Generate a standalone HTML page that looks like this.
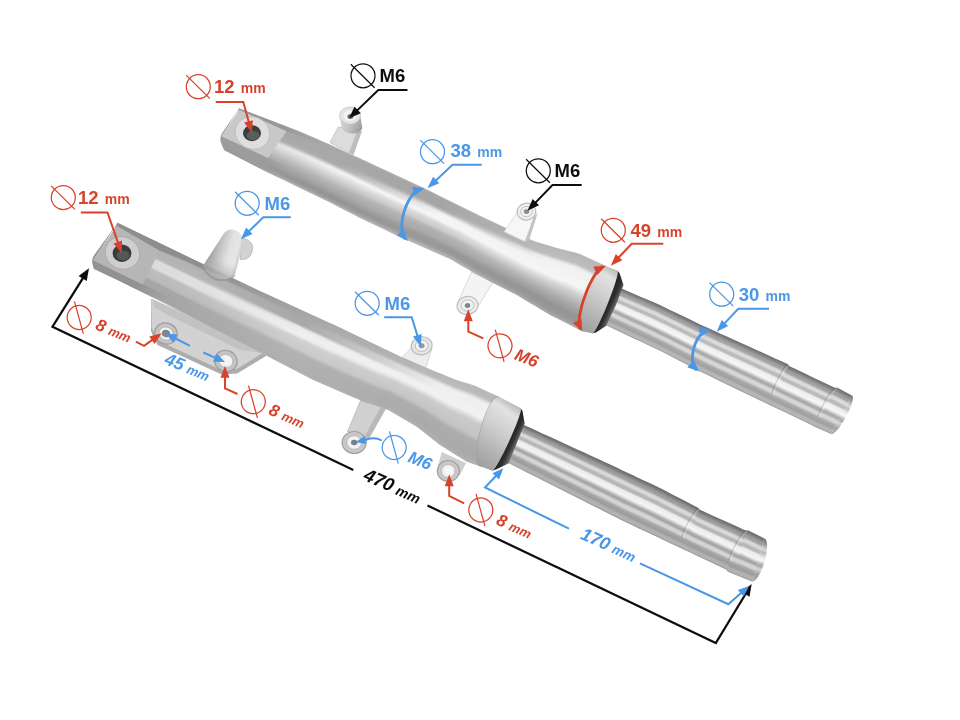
<!DOCTYPE html>
<html><head><meta charset="utf-8"><title>Fork dimensions</title>
<style>
html,body{margin:0;padding:0;background:#fff;}
body{width:960px;height:720px;overflow:hidden;}
svg{display:block;}
text{font-family:"Liberation Sans",sans-serif;font-weight:bold;}
</style></head><body>
<svg width="960" height="720" viewBox="0 0 960 720">
<defs>
<filter id="soft" x="-5%" y="-5%" width="110%" height="110%"><feGaussianBlur stdDeviation="0.7"/></filter>
<filter id="soft2" x="-5%" y="-5%" width="110%" height="110%"><feGaussianBlur stdDeviation="0.35"/></filter>
<linearGradient id="bossg" gradientUnits="userSpaceOnUse" x1="340" y1="118" x2="362" y2="128"><stop offset="0" stop-color="#d6d6d6"/><stop offset="0.5" stop-color="#c2c2c2"/><stop offset="1" stop-color="#9c9c9c"/></linearGradient>
<linearGradient id="capA" gradientUnits="userSpaceOnUse" x1="852" y1="395.5" x2="831" y2="434"><stop offset="0.000" stop-color="#6c6c6c"/><stop offset="0.062" stop-color="#858585"/><stop offset="0.125" stop-color="#9f9f9f"/><stop offset="0.188" stop-color="#c3c3c3"/><stop offset="0.250" stop-color="#dddddd"/><stop offset="0.312" stop-color="#bcbcbc"/><stop offset="0.375" stop-color="#dadada"/><stop offset="0.438" stop-color="#f2f2f2"/><stop offset="0.500" stop-color="#f7f7f7"/><stop offset="0.562" stop-color="#bfbfbf"/><stop offset="0.625" stop-color="#aaaaaa"/><stop offset="0.688" stop-color="#d6d6d6"/><stop offset="0.750" stop-color="#c2c2c2"/><stop offset="0.812" stop-color="#a5a5a5"/><stop offset="0.875" stop-color="#a5a5a5"/><stop offset="0.938" stop-color="#b5b5b5"/><stop offset="1.000" stop-color="#969696"/></linearGradient>
<linearGradient id="g1" gradientUnits="userSpaceOnUse" x1="240.8" y1="109.3" x2="603.7" y2="277.8"><stop offset="0.00" stop-color="#aaaaaa"/><stop offset="0.28" stop-color="#aeaeae"/><stop offset="0.56" stop-color="#adadad"/><stop offset="0.85" stop-color="#b8b8b8"/><stop offset="1.00" stop-color="#b8b8b8"/></linearGradient>
<linearGradient id="g2" gradientUnits="userSpaceOnUse" x1="240.8" y1="109.3" x2="603.7" y2="277.8"><stop offset="0.00" stop-color="#a5a5a5"/><stop offset="0.28" stop-color="#a8a8a8"/><stop offset="0.56" stop-color="#a6a6a6"/><stop offset="0.85" stop-color="#b8b8b8"/><stop offset="1.00" stop-color="#b8b8b8"/></linearGradient>
<linearGradient id="g3" gradientUnits="userSpaceOnUse" x1="240.8" y1="109.3" x2="603.7" y2="277.8"><stop offset="0.00" stop-color="#a6a6a6"/><stop offset="0.28" stop-color="#a7a7a7"/><stop offset="0.56" stop-color="#a5a5a5"/><stop offset="0.85" stop-color="#bababa"/><stop offset="1.00" stop-color="#bababa"/></linearGradient>
<linearGradient id="g4" gradientUnits="userSpaceOnUse" x1="240.8" y1="109.3" x2="603.7" y2="277.8"><stop offset="0.00" stop-color="#a6a6a6"/><stop offset="0.28" stop-color="#a7a7a7"/><stop offset="0.56" stop-color="#a5a5a5"/><stop offset="0.85" stop-color="#bbbbbb"/><stop offset="1.00" stop-color="#bbbbbb"/></linearGradient>
<linearGradient id="g5" gradientUnits="userSpaceOnUse" x1="240.8" y1="109.3" x2="603.7" y2="277.8"><stop offset="0.00" stop-color="#a7a7a7"/><stop offset="0.28" stop-color="#a8a8a8"/><stop offset="0.56" stop-color="#a5a5a5"/><stop offset="0.85" stop-color="#bcbcbc"/><stop offset="1.00" stop-color="#bcbcbc"/></linearGradient>
<linearGradient id="g6" gradientUnits="userSpaceOnUse" x1="240.8" y1="109.3" x2="603.7" y2="277.8"><stop offset="0.00" stop-color="#a7a7a7"/><stop offset="0.28" stop-color="#a8a8a8"/><stop offset="0.56" stop-color="#a5a5a5"/><stop offset="0.85" stop-color="#bdbdbd"/><stop offset="1.00" stop-color="#bdbdbd"/></linearGradient>
<linearGradient id="g7" gradientUnits="userSpaceOnUse" x1="240.8" y1="109.3" x2="603.7" y2="277.8"><stop offset="0.00" stop-color="#a8a8a8"/><stop offset="0.28" stop-color="#a8a8a8"/><stop offset="0.56" stop-color="#a5a5a5"/><stop offset="0.85" stop-color="#cacaca"/><stop offset="1.00" stop-color="#cacaca"/></linearGradient>
<linearGradient id="g8" gradientUnits="userSpaceOnUse" x1="240.8" y1="109.3" x2="603.7" y2="277.8"><stop offset="0.00" stop-color="#a8a8a8"/><stop offset="0.28" stop-color="#a8a8a8"/><stop offset="0.56" stop-color="#a5a5a5"/><stop offset="0.85" stop-color="#e3e3e3"/><stop offset="1.00" stop-color="#e3e3e3"/></linearGradient>
<linearGradient id="g9" gradientUnits="userSpaceOnUse" x1="240.8" y1="109.3" x2="603.7" y2="277.8"><stop offset="0.00" stop-color="#a9a9a9"/><stop offset="0.28" stop-color="#a8a8a8"/><stop offset="0.56" stop-color="#b0b0b0"/><stop offset="0.85" stop-color="#f0f0f0"/><stop offset="1.00" stop-color="#f0f0f0"/></linearGradient>
<linearGradient id="g10" gradientUnits="userSpaceOnUse" x1="240.8" y1="109.3" x2="603.7" y2="277.8"><stop offset="0.00" stop-color="#aaaaaa"/><stop offset="0.28" stop-color="#a9a9a9"/><stop offset="0.56" stop-color="#c6c6c6"/><stop offset="0.85" stop-color="#f1f1f1"/><stop offset="1.00" stop-color="#f1f1f1"/></linearGradient>
<linearGradient id="g11" gradientUnits="userSpaceOnUse" x1="240.8" y1="109.3" x2="603.7" y2="277.8"><stop offset="0.00" stop-color="#aaaaaa"/><stop offset="0.28" stop-color="#a9a9a9"/><stop offset="0.56" stop-color="#e1e1e1"/><stop offset="0.85" stop-color="#f2f2f2"/><stop offset="1.00" stop-color="#f2f2f2"/></linearGradient>
<linearGradient id="g12" gradientUnits="userSpaceOnUse" x1="240.8" y1="109.3" x2="603.7" y2="277.8"><stop offset="0.00" stop-color="#ababab"/><stop offset="0.28" stop-color="#a9a9a9"/><stop offset="0.56" stop-color="#f4f4f4"/><stop offset="0.85" stop-color="#f2f2f2"/><stop offset="1.00" stop-color="#f2f2f2"/></linearGradient>
<linearGradient id="g13" gradientUnits="userSpaceOnUse" x1="240.8" y1="109.3" x2="603.7" y2="277.8"><stop offset="0.00" stop-color="#b2b2b2"/><stop offset="0.28" stop-color="#b3b3b3"/><stop offset="0.56" stop-color="#f4f4f4"/><stop offset="0.85" stop-color="#f3f3f3"/><stop offset="1.00" stop-color="#f3f3f3"/></linearGradient>
<linearGradient id="g14" gradientUnits="userSpaceOnUse" x1="240.8" y1="109.3" x2="603.7" y2="277.8"><stop offset="0.00" stop-color="#c1c1c1"/><stop offset="0.28" stop-color="#c6c6c6"/><stop offset="0.56" stop-color="#f4f4f4"/><stop offset="0.85" stop-color="#f3f3f3"/><stop offset="1.00" stop-color="#f3f3f3"/></linearGradient>
<linearGradient id="g15" gradientUnits="userSpaceOnUse" x1="240.8" y1="109.3" x2="603.7" y2="277.8"><stop offset="0.00" stop-color="#cfcfcf"/><stop offset="0.28" stop-color="#dfdfdf"/><stop offset="0.56" stop-color="#f5f5f5"/><stop offset="0.85" stop-color="#f4f4f4"/><stop offset="1.00" stop-color="#f4f4f4"/></linearGradient>
<linearGradient id="g16" gradientUnits="userSpaceOnUse" x1="240.8" y1="109.3" x2="603.7" y2="277.8"><stop offset="0.00" stop-color="#d3d3d3"/><stop offset="0.28" stop-color="#f3f3f3"/><stop offset="0.56" stop-color="#f5f5f5"/><stop offset="0.85" stop-color="#f4f4f4"/><stop offset="1.00" stop-color="#f4f4f4"/></linearGradient>
<linearGradient id="g17" gradientUnits="userSpaceOnUse" x1="240.8" y1="109.3" x2="603.7" y2="277.8"><stop offset="0.00" stop-color="#d8d8d8"/><stop offset="0.28" stop-color="#eeeeee"/><stop offset="0.56" stop-color="#f5f5f5"/><stop offset="0.85" stop-color="#f5f5f5"/><stop offset="1.00" stop-color="#f5f5f5"/></linearGradient>
<linearGradient id="g18" gradientUnits="userSpaceOnUse" x1="240.8" y1="109.3" x2="603.7" y2="277.8"><stop offset="0.00" stop-color="#d6d6d6"/><stop offset="0.28" stop-color="#e9e9e9"/><stop offset="0.56" stop-color="#eaeaea"/><stop offset="0.85" stop-color="#f6f6f6"/><stop offset="1.00" stop-color="#f6f6f6"/></linearGradient>
<linearGradient id="g19" gradientUnits="userSpaceOnUse" x1="240.8" y1="109.3" x2="603.7" y2="277.8"><stop offset="0.00" stop-color="#d1d1d1"/><stop offset="0.28" stop-color="#e4e4e4"/><stop offset="0.56" stop-color="#dbdbdb"/><stop offset="0.85" stop-color="#f1f1f1"/><stop offset="1.00" stop-color="#f1f1f1"/></linearGradient>
<linearGradient id="g20" gradientUnits="userSpaceOnUse" x1="240.8" y1="109.3" x2="603.7" y2="277.8"><stop offset="0.00" stop-color="#cdcdcd"/><stop offset="0.28" stop-color="#dedede"/><stop offset="0.56" stop-color="#d4d4d4"/><stop offset="0.85" stop-color="#e8e8e8"/><stop offset="1.00" stop-color="#e8e8e8"/></linearGradient>
<linearGradient id="g21" gradientUnits="userSpaceOnUse" x1="240.8" y1="109.3" x2="603.7" y2="277.8"><stop offset="0.00" stop-color="#c8c8c8"/><stop offset="0.28" stop-color="#d8d8d8"/><stop offset="0.56" stop-color="#d1d1d1"/><stop offset="0.85" stop-color="#dfdfdf"/><stop offset="1.00" stop-color="#dfdfdf"/></linearGradient>
<linearGradient id="g22" gradientUnits="userSpaceOnUse" x1="240.8" y1="109.3" x2="603.7" y2="277.8"><stop offset="0.00" stop-color="#c4c4c4"/><stop offset="0.28" stop-color="#d2d2d2"/><stop offset="0.56" stop-color="#cecece"/><stop offset="0.85" stop-color="#d5d5d5"/><stop offset="1.00" stop-color="#d5d5d5"/></linearGradient>
<linearGradient id="g23" gradientUnits="userSpaceOnUse" x1="240.8" y1="109.3" x2="603.7" y2="277.8"><stop offset="0.00" stop-color="#c0c0c0"/><stop offset="0.28" stop-color="#cdcdcd"/><stop offset="0.56" stop-color="#cacaca"/><stop offset="0.85" stop-color="#cecece"/><stop offset="1.00" stop-color="#cecece"/></linearGradient>
<linearGradient id="g24" gradientUnits="userSpaceOnUse" x1="240.8" y1="109.3" x2="603.7" y2="277.8"><stop offset="0.00" stop-color="#bcbcbc"/><stop offset="0.28" stop-color="#c7c7c7"/><stop offset="0.56" stop-color="#bfbfbf"/><stop offset="0.85" stop-color="#c8c8c8"/><stop offset="1.00" stop-color="#c8c8c8"/></linearGradient>
<linearGradient id="g25" gradientUnits="userSpaceOnUse" x1="240.8" y1="109.3" x2="603.7" y2="277.8"><stop offset="0.00" stop-color="#b8b8b8"/><stop offset="0.28" stop-color="#c1c1c1"/><stop offset="0.56" stop-color="#b4b4b4"/><stop offset="0.85" stop-color="#c2c2c2"/><stop offset="1.00" stop-color="#c2c2c2"/></linearGradient>
<linearGradient id="g26" gradientUnits="userSpaceOnUse" x1="240.8" y1="109.3" x2="603.7" y2="277.8"><stop offset="0.00" stop-color="#b4b4b4"/><stop offset="0.28" stop-color="#bbbbbb"/><stop offset="0.56" stop-color="#b0b0b0"/><stop offset="0.85" stop-color="#bcbcbc"/><stop offset="1.00" stop-color="#bcbcbc"/></linearGradient>
<linearGradient id="g27" gradientUnits="userSpaceOnUse" x1="240.8" y1="109.3" x2="603.7" y2="277.8"><stop offset="0.00" stop-color="#b1b1b1"/><stop offset="0.28" stop-color="#b6b6b6"/><stop offset="0.56" stop-color="#aeaeae"/><stop offset="0.85" stop-color="#b6b6b6"/><stop offset="1.00" stop-color="#b6b6b6"/></linearGradient>
<linearGradient id="g28" gradientUnits="userSpaceOnUse" x1="240.8" y1="109.3" x2="603.7" y2="277.8"><stop offset="0.00" stop-color="#adadad"/><stop offset="0.28" stop-color="#b2b2b2"/><stop offset="0.56" stop-color="#adadad"/><stop offset="0.85" stop-color="#b0b0b0"/><stop offset="1.00" stop-color="#b0b0b0"/></linearGradient>
<linearGradient id="g29" gradientUnits="userSpaceOnUse" x1="240.8" y1="109.3" x2="603.7" y2="277.8"><stop offset="0.00" stop-color="#aaaaaa"/><stop offset="0.28" stop-color="#aeaeae"/><stop offset="0.56" stop-color="#ababab"/><stop offset="0.85" stop-color="#ababab"/><stop offset="1.00" stop-color="#ababab"/></linearGradient>
<linearGradient id="g30" gradientUnits="userSpaceOnUse" x1="240.8" y1="109.3" x2="603.7" y2="277.8"><stop offset="0.00" stop-color="#a7a7a7"/><stop offset="0.28" stop-color="#ababab"/><stop offset="0.56" stop-color="#aaaaaa"/><stop offset="0.85" stop-color="#a6a6a6"/><stop offset="1.00" stop-color="#a6a6a6"/></linearGradient>
<linearGradient id="g31" gradientUnits="userSpaceOnUse" x1="240.8" y1="109.3" x2="603.7" y2="277.8"><stop offset="0.00" stop-color="#a4a4a4"/><stop offset="0.28" stop-color="#a7a7a7"/><stop offset="0.56" stop-color="#a6a6a6"/><stop offset="0.85" stop-color="#a2a2a2"/><stop offset="1.00" stop-color="#a2a2a2"/></linearGradient>
<linearGradient id="g32" gradientUnits="userSpaceOnUse" x1="240.8" y1="109.3" x2="603.7" y2="277.8"><stop offset="0.00" stop-color="#a1a1a1"/><stop offset="0.28" stop-color="#a4a4a4"/><stop offset="0.56" stop-color="#9e9e9e"/><stop offset="0.85" stop-color="#9e9e9e"/><stop offset="1.00" stop-color="#9e9e9e"/></linearGradient>
<linearGradient id="g33" gradientUnits="userSpaceOnUse" x1="240.8" y1="109.3" x2="603.7" y2="277.8"><stop offset="0.00" stop-color="#9e9e9e"/><stop offset="0.28" stop-color="#a0a0a0"/><stop offset="0.56" stop-color="#9a9a9a"/><stop offset="0.85" stop-color="#9a9a9a"/><stop offset="1.00" stop-color="#9a9a9a"/></linearGradient>
<linearGradient id="g34" gradientUnits="userSpaceOnUse" x1="240.8" y1="109.3" x2="603.7" y2="277.8"><stop offset="0.00" stop-color="#9b9b9b"/><stop offset="0.28" stop-color="#9b9b9b"/><stop offset="0.56" stop-color="#9a9a9a"/><stop offset="0.85" stop-color="#959595"/><stop offset="1.00" stop-color="#959595"/></linearGradient>
<linearGradient id="g35" gradientUnits="userSpaceOnUse" x1="240.8" y1="109.3" x2="603.7" y2="277.8"><stop offset="0.00" stop-color="#999999"/><stop offset="0.28" stop-color="#969696"/><stop offset="0.56" stop-color="#989898"/><stop offset="0.85" stop-color="#949494"/><stop offset="1.00" stop-color="#949494"/></linearGradient>
<linearGradient id="g36" gradientUnits="userSpaceOnUse" x1="240.8" y1="109.3" x2="603.7" y2="277.8"><stop offset="0.00" stop-color="#969696"/><stop offset="0.28" stop-color="#949494"/><stop offset="0.56" stop-color="#989898"/><stop offset="0.85" stop-color="#969696"/><stop offset="1.00" stop-color="#969696"/></linearGradient>
<linearGradient id="g37" gradientUnits="userSpaceOnUse" x1="240.8" y1="109.3" x2="603.7" y2="277.8"><stop offset="0.00" stop-color="#989898"/><stop offset="0.28" stop-color="#969696"/><stop offset="0.56" stop-color="#9c9c9c"/><stop offset="0.85" stop-color="#989898"/><stop offset="1.00" stop-color="#989898"/></linearGradient>
<linearGradient id="g38" gradientUnits="userSpaceOnUse" x1="240.8" y1="109.3" x2="603.7" y2="277.8"><stop offset="0.00" stop-color="#a0a0a0"/><stop offset="0.28" stop-color="#989898"/><stop offset="0.56" stop-color="#a6a6a6"/><stop offset="0.85" stop-color="#9a9a9a"/><stop offset="1.00" stop-color="#9a9a9a"/></linearGradient>
<linearGradient id="g39" gradientUnits="userSpaceOnUse" x1="240.8" y1="109.3" x2="603.7" y2="277.8"><stop offset="0.00" stop-color="#a6a6a6"/><stop offset="0.28" stop-color="#a1a1a1"/><stop offset="0.56" stop-color="#b0b0b0"/><stop offset="0.85" stop-color="#a0a0a0"/><stop offset="1.00" stop-color="#a0a0a0"/></linearGradient>
<linearGradient id="g40" gradientUnits="userSpaceOnUse" x1="240.8" y1="109.3" x2="603.7" y2="277.8"><stop offset="0.00" stop-color="#aeaeae"/><stop offset="0.28" stop-color="#b1b1b1"/><stop offset="0.56" stop-color="#b8b8b8"/><stop offset="0.85" stop-color="#aaaaaa"/><stop offset="1.00" stop-color="#aaaaaa"/></linearGradient>
<linearGradient id="colAs" gradientUnits="userSpaceOnUse" x1="605.1" y1="302.1" x2="615.1" y2="306.7"><stop offset="0" stop-color="#242424"/><stop offset="0.55" stop-color="#2e2e2e"/><stop offset="0.85" stop-color="#565656"/><stop offset="1" stop-color="#6e6e6e"/></linearGradient>
<linearGradient id="colA" gradientUnits="userSpaceOnUse" x1="617.6" y1="270.8" x2="582.2" y2="331.2"><stop offset="0" stop-color="#b8b8b8"/><stop offset="0.14" stop-color="#e2e2e2"/><stop offset="0.4" stop-color="#d0d0d0"/><stop offset="0.75" stop-color="#b2b2b2"/><stop offset="1" stop-color="#a0a0a0"/></linearGradient>
<linearGradient id="fadeA" gradientUnits="userSpaceOnUse" x1="262" y1="150" x2="292" y2="164"><stop offset="0" stop-color="#9c9c9c" stop-opacity="1"/><stop offset="1" stop-color="#9c9c9c" stop-opacity="0"/></linearGradient>
<linearGradient id="fadeA2" gradientUnits="userSpaceOnUse" x1="284" y1="125" x2="326" y2="144"><stop offset="0" stop-color="#989898" stop-opacity="1"/><stop offset="1" stop-color="#989898" stop-opacity="0"/></linearGradient>
<linearGradient id="capB" gradientUnits="userSpaceOnUse" x1="764.5" y1="538.5" x2="752" y2="581.5"><stop offset="0.000" stop-color="#686868"/><stop offset="0.062" stop-color="#818181"/><stop offset="0.125" stop-color="#9b9b9b"/><stop offset="0.188" stop-color="#c0c0c0"/><stop offset="0.250" stop-color="#dbdbdb"/><stop offset="0.312" stop-color="#b8b8b8"/><stop offset="0.375" stop-color="#d7d7d7"/><stop offset="0.438" stop-color="#f0f0f0"/><stop offset="0.500" stop-color="#f5f5f5"/><stop offset="0.562" stop-color="#bcbcbc"/><stop offset="0.625" stop-color="#a6a6a6"/><stop offset="0.688" stop-color="#d4d4d4"/><stop offset="0.750" stop-color="#bfbfbf"/><stop offset="0.812" stop-color="#a1a1a1"/><stop offset="0.875" stop-color="#a1a1a1"/><stop offset="0.938" stop-color="#b1b1b1"/><stop offset="1.000" stop-color="#929292"/></linearGradient>
<linearGradient id="g41" gradientUnits="userSpaceOnUse" x1="116.6" y1="222.6" x2="502.4" y2="404.9"><stop offset="0.00" stop-color="#898989"/><stop offset="0.20" stop-color="#8a8a8a"/><stop offset="0.50" stop-color="#a4a4a4"/><stop offset="0.85" stop-color="#b7b7b7"/><stop offset="1.00" stop-color="#b7b7b7"/></linearGradient>
<linearGradient id="g42" gradientUnits="userSpaceOnUse" x1="116.6" y1="222.6" x2="502.4" y2="404.9"><stop offset="0.00" stop-color="#8a8a8a"/><stop offset="0.20" stop-color="#8c8c8c"/><stop offset="0.50" stop-color="#a6a6a6"/><stop offset="0.85" stop-color="#b8b8b8"/><stop offset="1.00" stop-color="#b8b8b8"/></linearGradient>
<linearGradient id="g43" gradientUnits="userSpaceOnUse" x1="116.6" y1="222.6" x2="502.4" y2="404.9"><stop offset="0.00" stop-color="#8a8a8a"/><stop offset="0.20" stop-color="#8d8d8d"/><stop offset="0.50" stop-color="#a7a7a7"/><stop offset="0.85" stop-color="#b9b9b9"/><stop offset="1.00" stop-color="#b9b9b9"/></linearGradient>
<linearGradient id="g44" gradientUnits="userSpaceOnUse" x1="116.6" y1="222.6" x2="502.4" y2="404.9"><stop offset="0.00" stop-color="#8b8b8b"/><stop offset="0.20" stop-color="#8f8f8f"/><stop offset="0.50" stop-color="#a7a7a7"/><stop offset="0.85" stop-color="#bababa"/><stop offset="1.00" stop-color="#bababa"/></linearGradient>
<linearGradient id="g45" gradientUnits="userSpaceOnUse" x1="116.6" y1="222.6" x2="502.4" y2="404.9"><stop offset="0.00" stop-color="#a2a2a2"/><stop offset="0.20" stop-color="#aaaaaa"/><stop offset="0.50" stop-color="#a7a7a7"/><stop offset="0.85" stop-color="#bdbdbd"/><stop offset="1.00" stop-color="#bdbdbd"/></linearGradient>
<linearGradient id="g46" gradientUnits="userSpaceOnUse" x1="116.6" y1="222.6" x2="502.4" y2="404.9"><stop offset="0.00" stop-color="#b1b1b1"/><stop offset="0.20" stop-color="#b3b3b3"/><stop offset="0.50" stop-color="#a7a7a7"/><stop offset="0.85" stop-color="#d0d0d0"/><stop offset="1.00" stop-color="#d0d0d0"/></linearGradient>
<linearGradient id="g47" gradientUnits="userSpaceOnUse" x1="116.6" y1="222.6" x2="502.4" y2="404.9"><stop offset="0.00" stop-color="#b2b2b2"/><stop offset="0.20" stop-color="#b3b3b3"/><stop offset="0.50" stop-color="#a8a8a8"/><stop offset="0.85" stop-color="#e4e4e4"/><stop offset="1.00" stop-color="#e4e4e4"/></linearGradient>
<linearGradient id="g48" gradientUnits="userSpaceOnUse" x1="116.6" y1="222.6" x2="502.4" y2="404.9"><stop offset="0.00" stop-color="#b2b2b2"/><stop offset="0.20" stop-color="#b4b4b4"/><stop offset="0.50" stop-color="#a8a8a8"/><stop offset="0.85" stop-color="#eeeeee"/><stop offset="1.00" stop-color="#eeeeee"/></linearGradient>
<linearGradient id="g49" gradientUnits="userSpaceOnUse" x1="116.6" y1="222.6" x2="502.4" y2="404.9"><stop offset="0.00" stop-color="#b2b2b2"/><stop offset="0.20" stop-color="#b4b4b4"/><stop offset="0.50" stop-color="#a8a8a8"/><stop offset="0.85" stop-color="#efefef"/><stop offset="1.00" stop-color="#efefef"/></linearGradient>
<linearGradient id="g50" gradientUnits="userSpaceOnUse" x1="116.6" y1="222.6" x2="502.4" y2="404.9"><stop offset="0.00" stop-color="#b3b3b3"/><stop offset="0.20" stop-color="#b4b4b4"/><stop offset="0.50" stop-color="#a8a8a8"/><stop offset="0.85" stop-color="#efefef"/><stop offset="1.00" stop-color="#efefef"/></linearGradient>
<linearGradient id="g51" gradientUnits="userSpaceOnUse" x1="116.6" y1="222.6" x2="502.4" y2="404.9"><stop offset="0.00" stop-color="#b3b3b3"/><stop offset="0.20" stop-color="#b4b4b4"/><stop offset="0.50" stop-color="#a8a8a8"/><stop offset="0.85" stop-color="#efefef"/><stop offset="1.00" stop-color="#efefef"/></linearGradient>
<linearGradient id="g52" gradientUnits="userSpaceOnUse" x1="116.6" y1="222.6" x2="502.4" y2="404.9"><stop offset="0.00" stop-color="#b4b4b4"/><stop offset="0.20" stop-color="#b5b5b5"/><stop offset="0.50" stop-color="#c5c5c5"/><stop offset="0.85" stop-color="#f0f0f0"/><stop offset="1.00" stop-color="#f0f0f0"/></linearGradient>
<linearGradient id="g53" gradientUnits="userSpaceOnUse" x1="116.6" y1="222.6" x2="502.4" y2="404.9"><stop offset="0.00" stop-color="#b4b4b4"/><stop offset="0.20" stop-color="#b5b5b5"/><stop offset="0.50" stop-color="#e4e4e4"/><stop offset="0.85" stop-color="#f0f0f0"/><stop offset="1.00" stop-color="#f0f0f0"/></linearGradient>
<linearGradient id="g54" gradientUnits="userSpaceOnUse" x1="116.6" y1="222.6" x2="502.4" y2="404.9"><stop offset="0.00" stop-color="#c2c2c2"/><stop offset="0.20" stop-color="#c6c6c6"/><stop offset="0.50" stop-color="#ededed"/><stop offset="0.85" stop-color="#f1f1f1"/><stop offset="1.00" stop-color="#f1f1f1"/></linearGradient>
<linearGradient id="g55" gradientUnits="userSpaceOnUse" x1="116.6" y1="222.6" x2="502.4" y2="404.9"><stop offset="0.00" stop-color="#d6d6d6"/><stop offset="0.20" stop-color="#dedede"/><stop offset="0.50" stop-color="#ededed"/><stop offset="0.85" stop-color="#f1f1f1"/><stop offset="1.00" stop-color="#f1f1f1"/></linearGradient>
<linearGradient id="g56" gradientUnits="userSpaceOnUse" x1="116.6" y1="222.6" x2="502.4" y2="404.9"><stop offset="0.00" stop-color="#d7d7d7"/><stop offset="0.20" stop-color="#dedede"/><stop offset="0.50" stop-color="#eeeeee"/><stop offset="0.85" stop-color="#f2f2f2"/><stop offset="1.00" stop-color="#f2f2f2"/></linearGradient>
<linearGradient id="g57" gradientUnits="userSpaceOnUse" x1="116.6" y1="222.6" x2="502.4" y2="404.9"><stop offset="0.00" stop-color="#d7d7d7"/><stop offset="0.20" stop-color="#dedede"/><stop offset="0.50" stop-color="#efefef"/><stop offset="0.85" stop-color="#f0f0f0"/><stop offset="1.00" stop-color="#f0f0f0"/></linearGradient>
<linearGradient id="g58" gradientUnits="userSpaceOnUse" x1="116.6" y1="222.6" x2="502.4" y2="404.9"><stop offset="0.00" stop-color="#d7d7d7"/><stop offset="0.20" stop-color="#dedede"/><stop offset="0.50" stop-color="#efefef"/><stop offset="0.85" stop-color="#e6e6e6"/><stop offset="1.00" stop-color="#e6e6e6"/></linearGradient>
<linearGradient id="g59" gradientUnits="userSpaceOnUse" x1="116.6" y1="222.6" x2="502.4" y2="404.9"><stop offset="0.00" stop-color="#d8d8d8"/><stop offset="0.20" stop-color="#dedede"/><stop offset="0.50" stop-color="#f0f0f0"/><stop offset="0.85" stop-color="#dcdcdc"/><stop offset="1.00" stop-color="#dcdcdc"/></linearGradient>
<linearGradient id="g60" gradientUnits="userSpaceOnUse" x1="116.6" y1="222.6" x2="502.4" y2="404.9"><stop offset="0.00" stop-color="#d8d8d8"/><stop offset="0.20" stop-color="#dedede"/><stop offset="0.50" stop-color="#e4e4e4"/><stop offset="0.85" stop-color="#d3d3d3"/><stop offset="1.00" stop-color="#d3d3d3"/></linearGradient>
<linearGradient id="g61" gradientUnits="userSpaceOnUse" x1="116.6" y1="222.6" x2="502.4" y2="404.9"><stop offset="0.00" stop-color="#d9d9d9"/><stop offset="0.20" stop-color="#dedede"/><stop offset="0.50" stop-color="#d8d8d8"/><stop offset="0.85" stop-color="#cbcbcb"/><stop offset="1.00" stop-color="#cbcbcb"/></linearGradient>
<linearGradient id="g62" gradientUnits="userSpaceOnUse" x1="116.6" y1="222.6" x2="502.4" y2="404.9"><stop offset="0.00" stop-color="#d2d2d2"/><stop offset="0.20" stop-color="#d7d7d7"/><stop offset="0.50" stop-color="#d0d0d0"/><stop offset="0.85" stop-color="#cacaca"/><stop offset="1.00" stop-color="#cacaca"/></linearGradient>
<linearGradient id="g63" gradientUnits="userSpaceOnUse" x1="116.6" y1="222.6" x2="502.4" y2="404.9"><stop offset="0.00" stop-color="#c1c1c1"/><stop offset="0.20" stop-color="#c5c5c5"/><stop offset="0.50" stop-color="#d0d0d0"/><stop offset="0.85" stop-color="#c9c9c9"/><stop offset="1.00" stop-color="#c9c9c9"/></linearGradient>
<linearGradient id="g64" gradientUnits="userSpaceOnUse" x1="116.6" y1="222.6" x2="502.4" y2="404.9"><stop offset="0.00" stop-color="#bbbbbb"/><stop offset="0.20" stop-color="#bdbdbd"/><stop offset="0.50" stop-color="#cfcfcf"/><stop offset="0.85" stop-color="#c8c8c8"/><stop offset="1.00" stop-color="#c8c8c8"/></linearGradient>
<linearGradient id="g65" gradientUnits="userSpaceOnUse" x1="116.6" y1="222.6" x2="502.4" y2="404.9"><stop offset="0.00" stop-color="#bababa"/><stop offset="0.20" stop-color="#bdbdbd"/><stop offset="0.50" stop-color="#cecece"/><stop offset="0.85" stop-color="#c7c7c7"/><stop offset="1.00" stop-color="#c7c7c7"/></linearGradient>
<linearGradient id="g66" gradientUnits="userSpaceOnUse" x1="116.6" y1="222.6" x2="502.4" y2="404.9"><stop offset="0.00" stop-color="#bababa"/><stop offset="0.20" stop-color="#bcbcbc"/><stop offset="0.50" stop-color="#cdcdcd"/><stop offset="0.85" stop-color="#c6c6c6"/><stop offset="1.00" stop-color="#c6c6c6"/></linearGradient>
<linearGradient id="g67" gradientUnits="userSpaceOnUse" x1="116.6" y1="222.6" x2="502.4" y2="404.9"><stop offset="0.00" stop-color="#b9b9b9"/><stop offset="0.20" stop-color="#bbbbbb"/><stop offset="0.50" stop-color="#cdcdcd"/><stop offset="0.85" stop-color="#c5c5c5"/><stop offset="1.00" stop-color="#c5c5c5"/></linearGradient>
<linearGradient id="g68" gradientUnits="userSpaceOnUse" x1="116.6" y1="222.6" x2="502.4" y2="404.9"><stop offset="0.00" stop-color="#b9b9b9"/><stop offset="0.20" stop-color="#bbbbbb"/><stop offset="0.50" stop-color="#cccccc"/><stop offset="0.85" stop-color="#c4c4c4"/><stop offset="1.00" stop-color="#c4c4c4"/></linearGradient>
<linearGradient id="g69" gradientUnits="userSpaceOnUse" x1="116.6" y1="222.6" x2="502.4" y2="404.9"><stop offset="0.00" stop-color="#b8b8b8"/><stop offset="0.20" stop-color="#bababa"/><stop offset="0.50" stop-color="#c8c8c8"/><stop offset="0.85" stop-color="#c0c0c0"/><stop offset="1.00" stop-color="#c0c0c0"/></linearGradient>
<linearGradient id="g70" gradientUnits="userSpaceOnUse" x1="116.6" y1="222.6" x2="502.4" y2="404.9"><stop offset="0.00" stop-color="#b7b7b7"/><stop offset="0.20" stop-color="#bababa"/><stop offset="0.50" stop-color="#bfbfbf"/><stop offset="0.85" stop-color="#b8b8b8"/><stop offset="1.00" stop-color="#b8b8b8"/></linearGradient>
<linearGradient id="g71" gradientUnits="userSpaceOnUse" x1="116.6" y1="222.6" x2="502.4" y2="404.9"><stop offset="0.00" stop-color="#b6b6b6"/><stop offset="0.20" stop-color="#b8b8b8"/><stop offset="0.50" stop-color="#b6b6b6"/><stop offset="0.85" stop-color="#b0b0b0"/><stop offset="1.00" stop-color="#b0b0b0"/></linearGradient>
<linearGradient id="g72" gradientUnits="userSpaceOnUse" x1="116.6" y1="222.6" x2="502.4" y2="404.9"><stop offset="0.00" stop-color="#ababab"/><stop offset="0.20" stop-color="#adadad"/><stop offset="0.50" stop-color="#b3b3b3"/><stop offset="0.85" stop-color="#adadad"/><stop offset="1.00" stop-color="#adadad"/></linearGradient>
<linearGradient id="g73" gradientUnits="userSpaceOnUse" x1="116.6" y1="222.6" x2="502.4" y2="404.9"><stop offset="0.00" stop-color="#a5a5a5"/><stop offset="0.20" stop-color="#a7a7a7"/><stop offset="0.50" stop-color="#b2b2b2"/><stop offset="0.85" stop-color="#acacac"/><stop offset="1.00" stop-color="#acacac"/></linearGradient>
<linearGradient id="g74" gradientUnits="userSpaceOnUse" x1="116.6" y1="222.6" x2="502.4" y2="404.9"><stop offset="0.00" stop-color="#a5a5a5"/><stop offset="0.20" stop-color="#a7a7a7"/><stop offset="0.50" stop-color="#b2b2b2"/><stop offset="0.85" stop-color="#acacac"/><stop offset="1.00" stop-color="#acacac"/></linearGradient>
<linearGradient id="g75" gradientUnits="userSpaceOnUse" x1="116.6" y1="222.6" x2="502.4" y2="404.9"><stop offset="0.00" stop-color="#a5a5a5"/><stop offset="0.20" stop-color="#a7a7a7"/><stop offset="0.50" stop-color="#b2b2b2"/><stop offset="0.85" stop-color="#ababab"/><stop offset="1.00" stop-color="#ababab"/></linearGradient>
<linearGradient id="g76" gradientUnits="userSpaceOnUse" x1="116.6" y1="222.6" x2="502.4" y2="404.9"><stop offset="0.00" stop-color="#a4a4a4"/><stop offset="0.20" stop-color="#a6a6a6"/><stop offset="0.50" stop-color="#b1b1b1"/><stop offset="0.85" stop-color="#ababab"/><stop offset="1.00" stop-color="#ababab"/></linearGradient>
<linearGradient id="g77" gradientUnits="userSpaceOnUse" x1="116.6" y1="222.6" x2="502.4" y2="404.9"><stop offset="0.00" stop-color="#a4a4a4"/><stop offset="0.20" stop-color="#a6a6a6"/><stop offset="0.50" stop-color="#b1b1b1"/><stop offset="0.85" stop-color="#aaaaaa"/><stop offset="1.00" stop-color="#aaaaaa"/></linearGradient>
<linearGradient id="g78" gradientUnits="userSpaceOnUse" x1="116.6" y1="222.6" x2="502.4" y2="404.9"><stop offset="0.00" stop-color="#a4a4a4"/><stop offset="0.20" stop-color="#a6a6a6"/><stop offset="0.50" stop-color="#b1b1b1"/><stop offset="0.85" stop-color="#aaaaaa"/><stop offset="1.00" stop-color="#aaaaaa"/></linearGradient>
<linearGradient id="g79" gradientUnits="userSpaceOnUse" x1="116.6" y1="222.6" x2="502.4" y2="404.9"><stop offset="0.00" stop-color="#a4a4a4"/><stop offset="0.20" stop-color="#a6a6a6"/><stop offset="0.50" stop-color="#b0b0b0"/><stop offset="0.85" stop-color="#aaaaaa"/><stop offset="1.00" stop-color="#aaaaaa"/></linearGradient>
<linearGradient id="g80" gradientUnits="userSpaceOnUse" x1="116.6" y1="222.6" x2="502.4" y2="404.9"><stop offset="0.00" stop-color="#a4a4a4"/><stop offset="0.20" stop-color="#a6a6a6"/><stop offset="0.50" stop-color="#b0b0b0"/><stop offset="0.85" stop-color="#a9a9a9"/><stop offset="1.00" stop-color="#a9a9a9"/></linearGradient>
<linearGradient id="g81" gradientUnits="userSpaceOnUse" x1="116.6" y1="222.6" x2="502.4" y2="404.9"><stop offset="0.00" stop-color="#a3a3a3"/><stop offset="0.20" stop-color="#a5a5a5"/><stop offset="0.50" stop-color="#b0b0b0"/><stop offset="0.85" stop-color="#ababab"/><stop offset="1.00" stop-color="#ababab"/></linearGradient>
<linearGradient id="g82" gradientUnits="userSpaceOnUse" x1="116.6" y1="222.6" x2="502.4" y2="404.9"><stop offset="0.00" stop-color="#a3a3a3"/><stop offset="0.20" stop-color="#a5a5a5"/><stop offset="0.50" stop-color="#afafaf"/><stop offset="0.85" stop-color="#acacac"/><stop offset="1.00" stop-color="#acacac"/></linearGradient>
<linearGradient id="g83" gradientUnits="userSpaceOnUse" x1="116.6" y1="222.6" x2="502.4" y2="404.9"><stop offset="0.00" stop-color="#a3a3a3"/><stop offset="0.20" stop-color="#a5a5a5"/><stop offset="0.50" stop-color="#afafaf"/><stop offset="0.85" stop-color="#aeaeae"/><stop offset="1.00" stop-color="#aeaeae"/></linearGradient>
<linearGradient id="g84" gradientUnits="userSpaceOnUse" x1="116.6" y1="222.6" x2="502.4" y2="404.9"><stop offset="0.00" stop-color="#aaaaaa"/><stop offset="0.20" stop-color="#acacac"/><stop offset="0.50" stop-color="#b4b4b4"/><stop offset="0.85" stop-color="#b0b0b0"/><stop offset="1.00" stop-color="#b0b0b0"/></linearGradient>
<linearGradient id="colBs" gradientUnits="userSpaceOnUse" x1="506.6" y1="439.4" x2="516.6" y2="444.1"><stop offset="0" stop-color="#242424"/><stop offset="0.55" stop-color="#2e2e2e"/><stop offset="0.85" stop-color="#565656"/><stop offset="1" stop-color="#6e6e6e"/></linearGradient>
<linearGradient id="colB" gradientUnits="userSpaceOnUse" x1="520.8" y1="408.3" x2="480.5" y2="466.5"><stop offset="0" stop-color="#b8b8b8"/><stop offset="0.14" stop-color="#e2e2e2"/><stop offset="0.4" stop-color="#d0d0d0"/><stop offset="0.75" stop-color="#b2b2b2"/><stop offset="1" stop-color="#a0a0a0"/></linearGradient>
<linearGradient id="stubg" gradientUnits="userSpaceOnUse" x1="211" y1="250" x2="240" y2="258"><stop offset="0" stop-color="#a2a2a2"/><stop offset="0.25" stop-color="#c0c0c0"/><stop offset="0.6" stop-color="#e2e2e2"/><stop offset="0.85" stop-color="#e6e6e6"/><stop offset="1" stop-color="#c8c8c8"/></linearGradient>
<linearGradient id="stubf" gradientUnits="userSpaceOnUse" x1="226" y1="262" x2="219" y2="281"><stop offset="0" stop-color="#b4b4b4" stop-opacity="0"/><stop offset="1" stop-color="#a6a6a6" stop-opacity="1"/></linearGradient>
<linearGradient id="fadeB" gradientUnits="userSpaceOnUse" x1="138" y1="280" x2="172" y2="296"><stop offset="0" stop-color="#929292" stop-opacity="1"/><stop offset="1" stop-color="#929292" stop-opacity="0"/></linearGradient>
<linearGradient id="fadeB2" gradientUnits="userSpaceOnUse" x1="165" y1="248" x2="235" y2="281"><stop offset="0" stop-color="#8e8e8e" stop-opacity="1"/><stop offset="1" stop-color="#8e8e8e" stop-opacity="0"/></linearGradient>
</defs>
<rect width="960" height="720" fill="#ffffff"/>
<g filter="url(#soft)">
<polygon points="338.3,127 357.5,131 349,153 330,142.6" fill="#dcdcdc" stroke="#c0c0c0" stroke-width="0.8"/>
<polygon points="357.5,131 362,131 353.5,155 349,153" fill="#bdbdbd"/>
<path d="M339.8,116 L341.3,126 A10.6,7 8 0 0 362.3,128 L360.4,116 Z" fill="url(#bossg)"/>
<ellipse cx="350" cy="115.6" rx="10.4" ry="8.6" fill="#e4e4e4" stroke="#c4c4c4" stroke-width="0.8"/>
<ellipse cx="350" cy="115.8" rx="6.4" ry="5.2" fill="#f4f4f4"/>
<ellipse cx="350.4" cy="116.6" rx="3" ry="2.5" fill="#707070"/>
<polygon points="457.5,303 471.7,272 493,282 478.3,306" fill="#f4f4f4" stroke="#d0d0d0" stroke-width="0.8"/>
<g transform="translate(467.5 305.5) rotate(-10)"><ellipse rx="10.5" ry="9" fill="#ededed" stroke="#bdbdbd" stroke-width="1.2"/><ellipse rx="6.5" ry="5.6" fill="#f2f2f2" stroke="#b5b5b5" stroke-width="0.8"/><ellipse rx="2.8" ry="2.4" fill="#7a8a8a"/></g>
<polygon points="612,284 621.6,288.5 623.2,289.3 623.9,289.6 631.3,292.7 641,296.9 650.8,301.1 660,305 660.5,305.2 670,309.9 677.5,313.5 679.5,314.5 689.1,319.1 698.6,323.7 700,324.4 708.2,328.1 717.9,332.5 718.8,332.9 727.5,336.8 737.2,341.2 746.8,345.5 756.5,349.9 760,351.5 766.1,354.3 775.7,358.7 780.4,360.8 785.4,363 787.5,364 790,366.5 794.5,368.6 804,373.1 813.6,377.7 823.2,382.2 832.7,386.7 832.7,386.7 834.8,387.7 835.4,388 837,387.5 842.6,390.5 852,395.5 851.2,396.9 841.9,391.9 836.2,388.9 834.6,389.4 834.1,389.1 832,388.1 831.9,388.1 822.4,383.6 812.9,379.1 803.3,374.5 793.7,370 789.3,367.9 786.8,365.4 784.6,364.5 779.6,362.2 775,360.1 765.4,355.7 759.3,352.9 755.7,351.3 746.1,347 736.5,342.6 726.8,338.2 718.1,334.3 717.2,333.9 707.6,329.5 699.3,325.8 697.9,325.1 688.4,320.5 678.9,315.8 676.8,314.8 669.4,311.2 659.9,306.6 659.4,306.4 650.1,302.4 640.4,298.2 630.7,294.1 623.3,290.9 622.6,290.6 621,289.8 611.4,285.3" fill="#707070"/>
<polygon points="611.6,284.8 621.2,289.3 622.8,290.1 623.5,290.4 630.9,293.6 640.6,297.7 650.4,301.9 659.6,305.9 660.1,306.1 669.6,310.7 677.1,314.3 679.1,315.3 688.7,320 698.2,324.6 699.6,325.3 707.8,329 717.4,333.3 718.4,333.8 727.1,337.7 736.7,342.1 746.4,346.4 756,350.8 759.5,352.4 765.6,355.2 775.3,359.6 779.9,361.7 784.9,363.9 787,364.9 789.5,367.4 794,369.5 803.6,374 813.1,378.6 822.7,383.1 832.2,387.6 832.3,387.6 834.4,388.6 834.9,388.9 836.5,388.4 842.2,391.4 851.5,396.4 850.8,397.8 841.4,392.8 835.7,389.8 834.2,390.3 833.6,390 831.5,389 831.4,389 821.9,384.5 812.4,380 802.8,375.4 793.3,370.9 788.8,368.8 786.3,366.4 784.2,365.4 779.2,363.1 774.5,361 764.9,356.6 758.8,353.8 755.3,352.2 745.7,347.9 736,343.5 726.4,339.1 717.7,335.2 716.8,334.8 707.1,330.4 698.9,326.6 697.5,325.9 688,321.3 678.5,316.7 676.5,315.7 669,312.1 659.5,307.5 659,307.2 649.8,303.3 640,299.1 630.3,294.9 622.9,291.8 622.2,291.4 620.6,290.7 611.1,286.2" fill="#787878"/>
<polygon points="611.3,285.7 620.8,290.2 622.4,290.9 623.2,291.3 630.5,294.4 640.3,298.6 650,302.8 659.2,306.7 659.7,306.9 669.2,311.6 676.7,315.2 678.7,316.2 688.3,320.8 697.8,325.4 699.2,326.1 707.4,329.8 717,334.2 717.9,334.6 726.7,338.6 736.3,343 745.9,347.3 755.6,351.7 759.1,353.3 765.2,356.1 774.8,360.5 779.4,362.6 784.4,364.8 786.6,365.8 789.1,368.3 793.5,370.4 803.1,374.9 812.7,379.4 822.2,384 831.7,388.5 831.8,388.5 833.9,389.5 834.5,389.8 836,389.3 841.7,392.3 851,397.2 850.3,398.6 840.9,393.7 835.3,390.8 833.7,391.2 833.1,390.9 831,389.9 831,389.9 821.5,385.4 811.9,380.8 802.4,376.3 792.8,371.8 788.4,369.7 785.8,367.3 783.7,366.3 778.7,364 774.1,361.9 764.5,357.5 758.4,354.7 754.8,353.1 745.2,348.7 735.6,344.4 726,340 717.3,336 716.3,335.6 706.7,331.2 698.5,327.5 697.1,326.8 687.6,322.2 678.1,317.5 676.1,316.5 668.6,312.9 659.1,308.3 658.6,308.1 649.4,304.1 639.7,299.9 629.9,295.7 622.6,292.6 621.8,292.2 620.3,291.5 610.7,287" fill="#828282"/>
<polygon points="610.9,286.5 620.5,291 622.1,291.7 622.8,292.1 630.2,295.2 639.9,299.4 649.6,303.6 658.8,307.6 659.3,307.8 668.8,312.4 676.3,316 678.3,317 687.9,321.7 697.4,326.3 698.8,327 707,330.7 716.6,335.1 717.5,335.5 726.2,339.5 735.9,343.8 745.5,348.2 755.1,352.6 758.6,354.2 764.7,357 774.4,361.4 779,363.5 784,365.7 786.1,366.7 788.6,369.1 793.1,371.3 802.6,375.8 812.2,380.3 821.8,384.8 831.3,389.3 831.3,389.4 833.4,390.4 834,390.6 835.5,390.2 841.2,393.2 850.6,398.1 849.8,399.5 840.4,394.6 834.8,391.7 833.2,392.1 832.7,391.8 830.6,390.8 830.5,390.7 821,386.2 811.5,381.7 801.9,377.2 792.4,372.7 787.9,370.5 785.4,368.2 783.2,367.2 778.2,364.9 773.6,362.8 764,358.4 757.9,355.6 754.4,354 744.8,349.6 735.2,345.3 725.5,340.9 716.8,336.9 715.9,336.5 706.3,332.1 698.1,328.3 696.7,327.7 687.2,323 677.7,318.4 675.7,317.4 668.2,313.8 658.7,309.2 658.2,308.9 649,305 639.3,300.8 629.6,296.6 622.2,293.4 621.5,293.1 619.9,292.3 610.3,287.8" fill="#8f8f8f"/>
<polygon points="610.5,287.3 620.1,291.8 621.7,292.6 622.4,292.9 629.8,296.1 639.5,300.3 649.2,304.5 658.4,308.4 658.9,308.7 668.4,313.3 675.9,316.9 677.9,317.9 687.5,322.5 697,327.1 698.4,327.8 706.6,331.6 716.2,336 717.1,336.4 725.8,340.4 735.4,344.7 745,349.1 754.7,353.5 758.2,355.1 764.3,357.9 773.9,362.3 778.5,364.4 783.5,366.7 785.6,367.6 788.2,370 792.6,372.1 802.2,376.7 811.7,381.2 821.3,385.7 830.8,390.2 830.8,390.2 832.9,391.3 833.5,391.5 835.1,391.1 840.7,394.1 850.1,399 849.3,400.4 839.9,395.5 834.3,392.6 832.7,392.9 832.2,392.7 830.1,391.6 830,391.6 820.5,387.1 811,382.6 801.4,378.1 791.9,373.5 787.4,371.4 784.9,369.1 782.8,368.1 777.8,365.8 773.2,363.7 763.6,359.3 757.5,356.5 753.9,354.9 744.3,350.5 734.7,346.1 725.1,341.8 716.4,337.8 715.5,337.4 705.9,333 697.7,329.2 696.3,328.5 686.8,323.9 677.3,319.2 675.3,318.2 667.8,314.6 658.3,310 657.8,309.8 648.6,305.8 638.9,301.6 629.2,297.4 621.8,294.2 621.1,293.9 619.5,293.1 610,288.6" fill="#9a9a9a"/>
<polygon points="610.2,288.1 619.7,292.6 621.3,293.4 622.1,293.7 629.4,296.9 639.1,301.1 648.8,305.3 658,309.3 658.5,309.5 668,314.1 675.5,317.7 677.6,318.7 687,323.4 696.5,328 697.9,328.7 706.1,332.4 715.7,336.9 716.7,337.3 725.4,341.2 735,345.6 744.6,350 754.2,354.4 757.7,356 763.8,358.8 773.4,363.2 778,365.3 783.1,367.6 785.2,368.5 787.7,370.9 792.2,373 801.7,377.5 811.3,382.1 820.8,386.6 830.3,391.1 830.4,391.1 832.5,392.1 833,392.4 834.6,392 840.2,395 849.6,399.9 848.9,401.3 839.5,396.4 833.8,393.5 832.3,393.8 831.7,393.5 829.6,392.5 829.6,392.5 820.1,388 810.5,383.5 801,378.9 791.4,374.4 787,372.3 784.4,370 782.3,369 777.3,366.7 772.7,364.6 763.1,360.2 757,357.4 753.5,355.8 743.9,351.4 734.3,347 724.7,342.6 716,338.7 715.1,338.3 705.5,333.8 697.3,330.1 695.9,329.4 686.4,324.7 676.9,320.1 674.9,319.1 667.4,315.5 657.9,310.9 657.4,310.6 648.2,306.7 638.5,302.5 628.8,298.3 621.5,295.1 620.7,294.7 619.2,294 609.6,289.5" fill="#9f9f9f"/>
<polygon points="609.8,289 619.4,293.5 621,294.2 621.7,294.6 629,297.7 638.7,301.9 648.4,306.1 657.6,310.1 658.1,310.4 667.6,315 675.1,318.6 677.2,319.6 686.6,324.2 696.1,328.9 697.5,329.5 705.7,333.3 715.3,337.7 716.2,338.2 724.9,342.1 734.5,346.5 744.2,350.9 753.8,355.3 757.3,356.9 763.4,359.7 773,364.1 777.6,366.2 782.6,368.5 784.7,369.4 787.3,371.8 791.7,373.9 801.3,378.4 810.8,382.9 820.4,387.5 829.9,392 829.9,392 832,393 832.6,393.3 834.1,392.9 839.8,395.9 849.1,400.8 848.4,402.1 839,397.3 833.3,394.4 831.8,394.7 831.2,394.4 829.2,393.4 829.1,393.4 819.6,388.9 810.1,384.3 800.5,379.8 791,375.3 786.5,373.2 784,370.9 781.8,369.9 776.8,367.6 772.2,365.5 762.6,361.1 756.6,358.3 753,356.7 743.4,352.3 733.8,347.9 724.2,343.5 715.5,339.6 714.6,339.1 705,334.7 696.9,330.9 695.5,330.2 686,325.6 676.5,320.9 674.5,319.9 667,316.3 657.5,311.7 657,311.5 647.8,307.5 638.1,303.3 628.4,299.1 621.1,295.9 620.4,295.5 618.8,294.8 609.2,290.3" fill="#a4a4a4"/>
<polygon points="609.5,289.8 619,294.3 620.6,295.1 621.3,295.4 628.7,298.6 638.4,302.8 648.1,307 657.2,311 657.7,311.2 667.2,315.8 674.7,319.4 676.8,320.4 686.2,325.1 695.7,329.7 697.1,330.4 705.3,334.2 714.9,338.6 715.8,339 724.5,343 734.1,347.4 743.7,351.8 753.3,356.2 756.8,357.8 762.9,360.6 772.5,365 777.1,367.1 782.1,369.4 784.2,370.3 786.8,372.7 791.3,374.8 800.8,379.3 810.3,383.8 819.9,388.3 829.4,392.8 829.4,392.9 831.5,393.9 832.1,394.2 833.6,393.8 839.3,396.8 848.7,401.6 847.9,403 838.5,398.2 832.8,395.3 831.3,395.6 830.8,395.3 828.7,394.3 828.6,394.2 819.1,389.7 809.6,385.2 800.1,380.7 790.5,376.2 786.1,374.1 783.5,371.8 781.4,370.8 776.4,368.5 771.8,366.4 762.2,362 756.1,359.2 752.6,357.6 743,353.2 733.4,348.8 723.8,344.4 715.1,340.4 714.2,340 704.6,335.6 696.5,331.8 695.1,331.1 685.6,326.4 676.1,321.8 674.1,320.8 666.6,317.2 657.1,312.6 656.6,312.3 647.4,308.4 637.8,304.1 628.1,299.9 620.7,296.7 620,296.4 618.4,295.6 608.9,291.1" fill="#a9a9a9"/>
<polygon points="609.1,290.6 618.6,295.1 620.2,295.9 621,296.2 628.3,299.4 638,303.6 647.7,307.8 656.9,311.8 657.3,312.1 666.9,316.7 674.3,320.3 676.4,321.3 685.8,325.9 695.3,330.6 696.7,331.3 704.9,335 714.5,339.5 715.4,339.9 724.1,343.9 733.7,348.3 743.3,352.7 752.9,357.1 756.4,358.7 762.5,361.5 772.1,365.9 776.7,368 781.7,370.3 783.8,371.2 786.4,373.5 790.8,375.6 800.3,380.2 809.9,384.7 819.4,389.2 828.9,393.7 829,393.7 831,394.8 831.6,395 833.1,394.7 838.8,397.7 848.2,402.5 847.4,403.9 838,399.1 832.3,396.2 830.9,396.5 830.3,396.2 828.2,395.1 828.2,395.1 818.7,390.6 809.1,386.1 799.6,381.6 790.1,377.1 785.6,374.9 783,372.7 780.9,371.7 775.9,369.4 771.3,367.3 761.7,362.9 755.7,360.1 752.2,358.5 742.6,354.1 733,349.7 723.4,345.3 714.7,341.3 713.8,340.9 704.2,336.4 696.1,332.6 694.7,331.9 685.2,327.3 675.7,322.6 673.7,321.6 666.2,318 656.7,313.4 656.2,313.2 647,309.2 637.4,305 627.7,300.8 620.4,297.6 619.6,297.2 618.1,296.5 608.5,292" fill="#cccccc"/>
<polygon points="608.7,291.5 618.3,296 619.9,296.7 620.6,297.1 627.9,300.3 637.6,304.5 647.3,308.7 656.5,312.7 656.9,312.9 666.5,317.5 673.9,321.1 676,322.1 685.4,326.8 694.9,331.4 696.3,332.1 704.5,335.9 714,340.4 714.9,340.8 723.6,344.8 733.2,349.2 742.8,353.6 752.4,357.9 755.9,359.6 762,362.4 771.6,366.8 776.2,368.9 781.2,371.2 783.3,372.1 785.9,374.4 790.3,376.5 799.9,381 809.4,385.6 819,390.1 828.4,394.6 828.5,394.6 830.6,395.7 831.1,395.9 832.6,395.6 838.3,398.5 847.7,403.4 846.9,404.8 837.5,400 831.9,397.1 830.4,397.3 829.8,397.1 827.7,396 827.7,396 818.2,391.5 808.7,387 799.1,382.5 789.6,377.9 785.2,375.8 782.6,373.6 780.4,372.6 775.5,370.3 770.9,368.2 761.3,363.8 755.2,361 751.7,359.4 742.1,355 732.5,350.6 722.9,346.2 714.3,342.2 713.4,341.8 703.8,337.3 695.6,333.5 694.3,332.8 684.8,328.1 675.3,323.5 673.3,322.5 665.8,318.9 656.3,314.3 655.8,314.1 646.7,310 637,305.8 627.3,301.6 620,298.4 619.3,298 617.7,297.3 608.1,292.8" fill="#d8d8d8"/>
<polygon points="608.4,292.3 617.9,296.8 619.5,297.5 620.2,297.9 627.6,301.1 637.2,305.3 646.9,309.5 656.1,313.5 656.6,313.8 666.1,318.4 673.5,322 675.6,323 685,327.6 694.5,332.3 695.9,333 704,336.8 713.6,341.2 714.5,341.7 723.2,345.6 732.8,350 742.4,354.4 752,358.8 755.5,360.5 761.6,363.3 771.1,367.7 775.7,369.8 780.7,372.1 782.8,373.1 785.4,375.3 789.9,377.4 799.4,381.9 809,386.4 818.5,391 828,395.5 828,395.5 830.1,396.5 830.7,396.8 832.2,396.5 837.8,399.4 847.2,404.2 846.5,405.6 837.1,400.9 831.4,398 829.9,398.2 829.3,398 827.3,396.9 827.2,396.9 817.7,392.4 808.2,387.8 798.7,383.3 789.2,378.8 784.7,376.7 782.1,374.5 780,373.5 775,371.2 770.4,369.1 760.8,364.7 754.8,361.9 751.3,360.3 741.7,355.9 732.1,351.5 722.5,347.1 713.8,343.1 712.9,342.6 703.4,338.2 695.2,334.4 693.8,333.7 684.4,329 674.9,324.3 672.9,323.3 665.4,319.7 655.9,315.1 655.4,314.9 646.3,310.9 636.6,306.7 627,302.4 619.6,299.2 618.9,298.9 617.3,298.1 607.8,293.6" fill="#dbdbdb"/>
<polygon points="608,293.1 617.5,297.6 619.1,298.4 619.9,298.7 627.2,301.9 636.8,306.2 646.5,310.4 655.7,314.4 656.2,314.6 665.7,319.2 673.1,322.8 675.2,323.8 684.6,328.5 694.1,333.1 695.5,333.8 703.6,337.6 713.2,342.1 714.1,342.5 722.8,346.5 732.4,350.9 741.9,355.3 751.5,359.7 755,361.4 761.1,364.2 770.7,368.6 775.3,370.7 780.3,373 782.4,374 785,376.2 789.4,378.3 799,382.8 808.5,387.3 818,391.8 827.5,396.3 827.6,396.4 829.6,397.4 830.2,397.7 831.7,397.4 837.3,400.3 846.8,405.1 846,406.5 836.6,401.8 830.9,398.9 829.4,399.1 828.9,398.8 826.8,397.8 826.8,397.7 817.3,393.2 807.8,388.7 798.2,384.2 788.7,379.7 784.3,377.6 781.6,375.4 779.5,374.4 774.5,372.1 769.9,370 760.4,365.6 754.3,362.8 750.8,361.2 741.2,356.8 731.7,352.3 722.1,347.9 713.4,343.9 712.5,343.5 703,339 694.8,335.2 693.4,334.5 684,329.8 674.5,325.2 672.5,324.2 665,320.6 655.5,316 655,315.8 645.9,311.7 636.2,307.5 626.6,303.3 619.3,300 618.5,299.7 617,298.9 607.4,294.5" fill="#dddddd"/>
<polygon points="607.6,294 617.2,298.4 618.8,299.2 619.5,299.5 626.8,302.8 636.5,307 646.1,311.2 655.3,315.3 655.8,315.5 665.3,320.1 672.7,323.7 674.8,324.7 684.2,329.3 693.7,334 695.1,334.7 703.2,338.5 712.8,343 713.7,343.4 722.3,347.4 731.9,351.8 741.5,356.2 751.1,360.6 754.6,362.2 760.6,365 770.2,369.5 774.8,371.6 779.8,373.9 781.9,374.9 784.5,377.1 789,379.2 798.5,383.7 808,388.2 817.6,392.7 827,397.2 827.1,397.2 829.2,398.3 829.7,398.6 831.2,398.3 836.9,401.2 846.3,406 845.5,407.4 836.1,402.7 830.4,399.8 829,400 828.4,399.7 826.3,398.6 826.3,398.6 816.8,394.1 807.3,389.6 797.8,385.1 788.2,380.6 783.8,378.5 781.2,376.3 779.1,375.3 774.1,373 769.5,370.9 759.9,366.5 753.9,363.7 750.4,362.1 740.8,357.6 731.2,353.2 721.6,348.8 713,344.8 712.1,344.4 702.5,339.9 694.4,336.1 693,335.4 683.6,330.7 674.1,326 672.1,325 664.6,321.4 655.1,316.9 654.6,316.6 645.5,312.6 635.9,308.3 626.2,304.1 618.9,300.9 618.2,300.5 616.6,299.8 607.1,295.3" fill="#c4c4c4"/>
<polygon points="607.3,294.8 616.8,299.3 618.4,300 619.1,300.4 626.4,303.6 636.1,307.8 645.7,312.1 654.9,316.1 655.4,316.3 664.9,320.9 672.3,324.5 674.4,325.5 683.8,330.2 693.3,334.9 694.7,335.6 702.8,339.4 712.3,343.9 713.2,344.3 721.9,348.3 731.5,352.7 741.1,357.1 750.6,361.5 754.1,363.1 760.2,365.9 769.8,370.4 774.3,372.5 779.3,374.8 781.4,375.8 784.1,377.9 788.5,380 798,384.6 807.6,389.1 817.1,393.6 826.6,398.1 826.6,398.1 828.7,399.2 829.2,399.4 830.7,399.2 836.4,402.1 845.8,406.9 845,408.3 835.6,403.5 829.9,400.7 828.5,400.9 827.9,400.6 825.9,399.5 825.8,399.5 816.3,395 806.8,390.5 797.3,386 787.8,381.5 783.3,379.3 780.7,377.2 778.6,376.2 773.6,373.9 769,371.8 759.5,367.4 753.4,364.6 749.9,363 740.3,358.5 730.8,354.1 721.2,349.7 712.6,345.7 711.7,345.3 702.1,340.8 694,336.9 692.6,336.2 683.2,331.6 673.7,326.9 671.7,325.9 664.2,322.3 654.7,317.7 654.3,317.5 645.1,313.4 635.5,309.2 625.8,304.9 618.5,301.7 617.8,301.3 616.2,300.6 606.7,296.1" fill="#bcbcbc"/>
<polygon points="606.9,295.6 616.4,300.1 618,300.9 618.8,301.2 626.1,304.4 635.7,308.7 645.3,312.9 654.5,317 655,317.2 664.5,321.8 671.9,325.4 674,326.4 683.4,331 692.9,335.7 694.3,336.4 702.4,340.2 711.9,344.7 712.8,345.2 721.5,349.2 731,353.6 740.6,358 750.2,362.4 753.7,364 759.7,366.8 769.3,371.3 773.9,373.4 778.9,375.7 781,376.7 783.6,378.8 788.1,380.9 797.6,385.4 807.1,390 816.6,394.5 826.1,399 826.1,399 828.2,400.1 828.8,400.3 830.2,400.1 835.9,403 845.3,407.8 844.6,409.1 835.1,404.4 829.4,401.6 828,401.7 827.4,401.5 825.4,400.4 825.3,400.4 815.9,395.9 806.4,391.4 796.8,386.8 787.3,382.3 782.9,380.2 780.2,378.1 778.1,377.1 773.1,374.8 768.6,372.7 759,368.3 753,365.5 749.5,363.8 739.9,359.4 730.3,355 720.8,350.6 712.1,346.6 711.2,346.1 701.7,341.6 693.6,337.8 692.2,337.1 682.8,332.4 673.3,327.7 671.3,326.7 663.8,323.1 654.4,318.6 653.9,318.3 644.7,314.3 635.1,310 625.5,305.8 618.2,302.5 617.4,302.2 615.9,301.4 606.3,296.9" fill="#bababa"/>
<polygon points="606.5,296.4 616.1,300.9 617.7,301.7 618.4,302 625.7,305.3 635.3,309.5 645,313.8 654.1,317.8 654.6,318.1 664.1,322.6 671.5,326.2 673.6,327.2 683,331.9 692.4,336.6 693.8,337.3 702,341.1 711.5,345.6 712.4,346 721,350.1 730.6,354.5 740.2,358.9 749.7,363.3 753.2,364.9 759.3,367.7 768.8,372.2 773.4,374.3 778.4,376.6 780.5,377.6 783.2,379.7 787.6,381.8 797.1,386.3 806.6,390.8 816.2,395.3 825.6,399.8 825.7,399.9 827.7,400.9 828.3,401.2 829.7,401 835.4,403.9 844.8,408.6 844.1,410 834.6,405.3 829,402.5 827.5,402.6 827,402.4 824.9,401.3 824.9,401.2 815.4,396.7 805.9,392.2 796.4,387.7 786.9,383.2 782.4,381.1 779.8,379 777.7,378.1 772.7,375.7 768.1,373.6 758.6,369.2 752.5,366.4 749,364.7 739.5,360.3 729.9,355.9 720.3,351.5 711.7,347.5 710.8,347 701.3,342.5 693.2,338.6 691.8,338 682.4,333.3 672.9,328.6 670.9,327.6 663.4,324 654,319.4 653.5,319.2 644.3,315.1 634.7,310.9 625.1,306.6 617.8,303.3 617.1,303 615.5,302.3 606,297.8" fill="#bbbbbb"/>
<polygon points="606.2,297.3 615.7,301.8 617.3,302.5 618,302.9 625.3,306.1 634.9,310.4 644.6,314.6 653.7,318.7 654.2,318.9 663.7,323.5 671.1,327.1 673.2,328.1 682.6,332.7 692,337.4 693.4,338.1 701.5,342 711.1,346.5 712,346.9 720.6,350.9 730.2,355.4 739.7,359.8 749.3,364.2 752.8,365.8 758.8,368.6 768.4,373.1 773,375.2 777.9,377.5 780,378.5 782.7,380.6 787.1,382.7 796.7,387.2 806.2,391.7 815.7,396.2 825.2,400.7 825.2,400.7 827.3,401.8 827.8,402.1 829.2,402 834.9,404.8 844.4,409.5 843.6,410.9 834.2,406.2 828.5,403.4 827.1,403.5 826.5,403.2 824.5,402.1 824.4,402.1 814.9,397.6 805.4,393.1 795.9,388.6 786.4,384.1 782,382 779.3,379.9 777.2,379 772.2,376.7 767.6,374.5 758.1,370.1 752.1,367.3 748.6,365.6 739,361.2 729.5,356.8 719.9,352.3 711.3,348.3 710.4,347.9 700.9,343.4 692.8,339.5 691.4,338.8 682,334.1 672.5,329.4 670.5,328.4 663.1,324.8 653.6,320.3 653.1,320 644,316 634.3,311.7 624.7,307.4 617.4,304.2 616.7,303.8 615.1,303.1 605.6,298.6" fill="#dadada"/>
<polygon points="605.8,298.1 615.3,302.6 616.9,303.3 617.7,303.7 624.9,306.9 634.6,311.2 644.2,315.5 653.3,319.5 653.8,319.8 663.3,324.3 670.7,327.9 672.8,328.9 682.2,333.6 691.6,338.3 693,339 701.1,342.8 710.6,347.4 711.5,347.8 720.2,351.8 729.7,356.2 739.3,360.7 748.8,365.1 752.3,366.7 758.4,369.5 767.9,374 772.5,376.1 777.5,378.4 779.6,379.4 782.3,381.5 786.7,383.6 796.2,388.1 805.7,392.6 815.2,397.1 824.7,401.6 824.7,401.6 826.8,402.7 827.3,403 828.8,402.9 834.5,405.7 843.9,410.4 843.1,411.8 833.7,407.1 828,404.3 826.6,404.4 826,404.1 824,403 823.9,403 814.5,398.5 805,394 795.5,389.5 786,385 781.5,382.9 778.8,380.8 776.7,379.9 771.8,377.6 767.2,375.4 757.6,371 751.6,368.2 748.1,366.5 738.6,362.1 729,357.7 719.5,353.2 710.8,349.2 709.9,348.8 700.5,344.2 692.4,340.4 691,339.7 681.6,335 672.1,330.3 670.1,329.3 662.7,325.7 653.2,321.1 652.7,320.9 643.6,316.8 634,312.5 624.3,308.3 617.1,305 616.3,304.7 614.8,303.9 605.2,299.4" fill="#efefef"/>
<polygon points="605.5,298.9 615,303.4 616.6,304.2 617.3,304.5 624.6,307.8 634.2,312 643.8,316.3 652.9,320.4 653.4,320.6 662.9,325.2 670.3,328.7 672.4,329.8 681.8,334.5 691.2,339.2 692.6,339.8 700.7,343.7 710.2,348.3 711.1,348.7 719.7,352.7 729.3,357.1 738.8,361.6 748.4,366 751.9,367.6 757.9,370.4 767.5,374.9 772,377 777,379.3 779.1,380.3 781.8,382.3 786.2,384.4 795.7,389 805.3,393.5 814.8,398 824.2,402.5 824.3,402.5 826.3,403.6 826.9,403.9 828.3,403.8 834,406.6 843.4,411.2 842.6,412.6 833.2,408 827.5,405.2 826.1,405.3 825.6,405 823.5,403.9 823.5,403.9 814,399.4 804.5,394.9 795,390.4 785.5,385.9 781.1,383.8 778.4,381.7 776.3,380.8 771.3,378.5 766.7,376.3 757.2,371.9 751.2,369.1 747.7,367.4 738.1,363 728.6,358.5 719.1,354.1 710.4,350.1 709.5,349.7 700,345.1 692,341.2 690.6,340.5 681.1,335.8 671.7,331.1 669.7,330.1 662.3,326.5 652.8,322 652.3,321.7 643.2,317.7 633.6,313.4 624,309.1 616.7,305.8 616,305.5 614.4,304.7 604.9,300.3" fill="#f0f0f0"/>
<polygon points="605.1,299.8 614.6,304.2 616.2,305 616.9,305.3 624.2,308.6 633.8,312.9 643.4,317.2 652.5,321.2 653,321.5 662.5,326 669.9,329.6 672,330.6 681.4,335.3 690.8,340 692.2,340.7 700.3,344.6 709.8,349.1 710.7,349.6 719.3,353.6 728.9,358 738.4,362.5 747.9,366.9 751.4,368.5 757.5,371.3 767,375.8 771.6,377.9 776.5,380.2 778.6,381.2 781.3,383.2 785.8,385.3 795.3,389.8 804.8,394.3 814.3,398.8 823.7,403.3 823.8,403.4 825.8,404.5 826.4,404.7 827.8,404.7 833.5,407.5 842.9,412.1 842.2,413.5 832.7,408.9 827,406.1 825.6,406.1 825.1,405.9 823,404.8 823,404.7 813.5,400.2 804,395.7 794.5,391.2 785,386.7 780.6,384.6 777.9,382.6 775.8,381.7 770.8,379.4 766.3,377.2 756.7,372.8 750.7,369.9 747.2,368.3 737.7,363.9 728.1,359.4 718.6,355 710,351 709.1,350.5 699.6,346 691.5,342.1 690.2,341.4 680.7,336.7 671.3,332 669.3,331 661.9,327.4 652.4,322.8 651.9,322.6 642.8,318.5 633.2,314.2 623.6,309.9 616.3,306.7 615.6,306.3 614,305.6 604.5,301.1" fill="#f2f2f2"/>
<polygon points="604.7,300.6 614.2,305.1 615.8,305.8 616.5,306.2 623.8,309.4 633.4,313.7 643,318 652.1,322.1 652.6,322.3 662.1,326.9 669.5,330.4 671.6,331.5 681,336.2 690.4,340.9 691.8,341.6 699.9,345.4 709.3,350 710.2,350.4 718.9,354.5 728.4,358.9 737.9,363.3 747.5,367.8 751,369.4 757,372.2 766.5,376.7 771.1,378.8 776.1,381.1 778.2,382.1 780.9,384.1 785.3,386.2 794.8,390.7 804.3,395.2 813.8,399.7 823.3,404.2 823.3,404.2 825.4,405.4 825.9,405.6 827.3,405.6 833,408.4 842.5,413 841.7,414.4 832.2,409.8 826.5,407 825.2,407 824.6,406.8 822.6,405.6 822.5,405.6 813.1,401.1 803.6,396.6 794.1,392.1 784.6,387.6 780.2,385.5 777.4,383.5 775.3,382.6 770.4,380.3 765.8,378.1 756.3,373.7 750.3,370.8 746.8,369.2 737.2,364.8 727.7,360.3 718.2,355.9 709.6,351.8 708.7,351.4 699.2,346.8 691.1,342.9 689.7,342.2 680.3,337.5 670.9,332.8 668.9,331.8 661.5,328.2 652,323.7 651.5,323.5 642.4,319.4 632.8,315.1 623.2,310.8 616,307.5 615.2,307.1 613.7,306.4 604.1,301.9" fill="#f4f4f4"/>
<polygon points="604.4,301.4 613.9,305.9 615.4,306.6 616.2,307 623.4,310.3 633,314.6 642.6,318.9 651.7,322.9 652.2,323.2 661.7,327.7 669.1,331.3 671.2,332.3 680.6,337 690,341.7 691.4,342.4 699.5,346.3 708.9,350.9 709.8,351.3 718.4,355.3 728,359.8 737.5,364.2 747,368.7 750.5,370.3 756.6,373.1 766.1,377.6 770.6,379.7 775.6,382 777.7,383 780.4,385 784.9,387.1 794.4,391.6 803.9,396.1 813.4,400.6 822.8,405.1 822.9,405.1 824.9,406.2 825.5,406.5 826.8,406.5 832.5,409.3 842,413.9 841.2,415.3 831.8,410.7 826.1,407.9 824.7,407.9 824.1,407.6 822.1,406.5 822.1,406.5 812.6,402 803.1,397.5 793.6,393 784.1,388.5 779.7,386.4 777,384.5 774.9,383.5 769.9,381.2 765.3,379 755.8,374.6 749.8,371.7 746.3,370.1 736.8,365.7 727.3,361.2 717.8,356.7 709.1,352.7 708.2,352.3 698.8,347.7 690.7,343.8 689.3,343.1 679.9,338.4 670.5,333.7 668.5,332.6 661.1,329.1 651.6,324.5 651.1,324.3 642,320.2 632.4,315.9 622.9,311.6 615.6,308.3 614.9,308 613.3,307.2 603.8,302.7" fill="#f6f6f6"/>
<polygon points="604,302.3 613.5,306.7 615.1,307.5 615.8,307.8 623.1,311.1 632.7,315.4 642.3,319.7 651.3,323.8 651.8,324 661.3,328.6 668.7,332.1 670.8,333.2 680.2,337.9 689.6,342.6 691,343.3 699,347.2 708.5,351.8 709.4,352.2 718,356.2 727.5,360.7 737.1,365.1 746.6,369.6 750.1,371.2 756.1,374 765.6,378.5 770.2,380.6 775.1,382.9 777.2,383.9 780,385.9 784.4,388 793.9,392.5 803.4,397 812.9,401.5 822.3,406 822.4,406 824.4,407.1 825,407.4 826.3,407.4 832,410.1 841.5,414.8 840.7,416.1 831.3,411.6 825.6,408.8 824.2,408.8 823.7,408.5 821.6,407.4 821.6,407.4 812.1,402.9 802.7,398.4 793.2,393.9 783.7,389.4 779.2,387.3 776.5,385.4 774.4,384.4 769.4,382.1 764.9,379.9 755.4,375.5 749.4,372.6 745.9,371 736.4,366.5 726.8,362.1 717.3,357.6 708.7,353.6 707.8,353.2 698.4,348.6 690.3,344.6 688.9,344 679.5,339.2 670.1,334.5 668.1,333.5 660.7,329.9 651.2,325.4 650.7,325.2 641.6,321.1 632.1,316.7 622.5,312.4 615.2,309.1 614.5,308.8 612.9,308.1 603.4,303.6" fill="#ededed"/>
<polygon points="603.6,303.1 613.1,307.6 614.7,308.3 615.4,308.6 622.7,311.9 632.3,316.2 641.9,320.6 650.9,324.7 651.4,324.9 660.9,329.4 668.3,333 670.4,334 679.8,338.7 689.2,343.4 690.6,344.1 698.6,348 708.1,352.6 709,353.1 717.6,357.1 727.1,361.6 736.6,366 746.1,370.5 749.6,372.1 755.6,374.9 765.2,379.4 769.7,381.5 774.7,383.8 776.8,384.8 779.5,386.7 783.9,388.8 793.4,393.3 802.9,397.8 812.4,402.4 821.9,406.8 821.9,406.9 823.9,408 824.5,408.3 825.9,408.3 831.6,411 841,415.6 840.3,417 830.8,412.5 825.1,409.7 823.8,409.7 823.2,409.4 821.2,408.3 821.1,408.2 811.7,403.8 802.2,399.3 792.7,394.8 783.2,390.2 778.8,388.2 776,386.3 773.9,385.3 769,383 764.4,380.8 754.9,376.4 748.9,373.5 745.4,371.9 735.9,367.4 726.4,363 716.9,358.5 708.3,354.5 707.4,354 697.9,349.4 689.9,345.5 688.5,344.8 679.1,340.1 669.7,335.4 667.7,334.3 660.3,330.8 650.8,326.3 650.3,326 641.2,321.9 631.7,317.6 622.1,313.3 614.9,310 614.1,309.6 612.6,308.9 603.1,304.4" fill="#dadada"/>
<polygon points="603.3,303.9 612.8,308.4 614.3,309.1 615.1,309.5 622.3,312.8 631.9,317.1 641.5,321.4 650.6,325.5 651,325.7 660.5,330.3 667.9,333.8 670,334.9 679.4,339.6 688.8,344.3 690.1,345 698.2,348.9 707.6,353.5 708.5,353.9 717.1,358 726.7,362.4 736.2,366.9 745.7,371.4 749.2,373 755.2,375.8 764.7,380.3 769.3,382.4 774.2,384.7 776.3,385.7 779.1,387.6 783.5,389.7 793,394.2 802.5,398.7 812,403.2 821.4,407.7 821.5,407.7 823.5,408.9 824,409.1 825.4,409.2 831.1,411.9 840.5,416.5 839.8,417.9 830.3,413.4 824.6,410.6 823.3,410.5 822.7,410.3 820.7,409.1 820.6,409.1 811.2,404.6 801.7,400.1 792.2,395.6 782.8,391.1 778.3,389 775.6,387.2 773.5,386.2 768.5,383.9 764,381.7 754.5,377.3 748.5,374.4 745,372.8 735.5,368.3 726,363.9 716.5,359.4 707.9,355.4 707,354.9 697.5,350.3 689.5,346.4 688.1,345.7 678.7,340.9 669.3,336.2 667.3,335.2 659.9,331.6 650.4,327.1 649.9,326.9 640.9,322.8 631.3,318.4 621.7,314.1 614.5,310.8 613.8,310.5 612.2,309.7 602.7,305.2" fill="#c5c5c5"/>
<polygon points="602.9,304.7 612.4,309.2 614,310 614.7,310.3 622,313.6 631.5,317.9 641.1,322.3 650.2,326.4 650.7,326.6 660.1,331.1 667.6,334.7 669.6,335.7 679,340.4 688.3,345.2 689.7,345.8 697.8,349.8 707.2,354.4 708.1,354.8 716.7,358.9 726.2,363.3 735.7,367.8 745.2,372.3 748.7,373.9 754.7,376.7 764.2,381.2 768.8,383.3 773.8,385.6 775.8,386.6 778.6,388.5 783,390.6 792.5,395.1 802,399.6 811.5,404.1 820.9,408.6 821,408.6 823,409.8 823.6,410 824.9,410.1 830.6,412.8 840.1,417.4 839.3,418.8 829.8,414.3 824.1,411.5 822.8,411.4 822.2,411.2 820.2,410 820.2,410 810.7,405.5 801.3,401 791.8,396.5 782.3,392 777.9,389.9 775.1,388.1 773,387.1 768,384.8 763.5,382.6 754,378.2 748,375.3 744.5,373.7 735,369.2 725.5,364.7 716,360.3 707.4,356.2 706.5,355.8 697.1,351.2 689.1,347.2 687.7,346.5 678.3,341.8 668.9,337.1 666.9,336 659.5,332.5 650,328 649.5,327.7 640.5,323.6 630.9,319.3 621.4,314.9 614.1,311.6 613.4,311.3 611.8,310.5 602.3,306.1" fill="#acacac"/>
<polygon points="602.5,305.6 612,310 613.6,310.8 614.3,311.1 621.6,314.4 631.1,318.8 640.7,323.1 649.8,327.2 650.3,327.5 659.7,332 667.2,335.5 669.2,336.6 678.6,341.3 687.9,346 689.3,346.7 697.4,350.6 706.8,355.3 707.7,355.7 716.3,359.7 725.8,364.2 735.3,368.7 744.8,373.1 748.3,374.8 754.3,377.6 763.8,382.1 768.3,384.2 773.3,386.6 775.4,387.5 778.2,389.4 782.6,391.5 792.1,396 801.5,400.5 811,405 820.5,409.5 820.5,409.5 822.5,410.6 823.1,410.9 824.4,411 830.1,413.7 839.6,418.2 838.8,419.6 829.3,415.1 823.6,412.4 822.3,412.3 821.8,412.1 819.8,410.9 819.7,410.9 810.3,406.4 800.8,401.9 791.3,397.4 781.8,392.9 777.4,390.8 774.6,389 772.5,388 767.6,385.7 763,383.5 753.6,379.1 747.5,376.2 744.1,374.6 734.6,370.1 725.1,365.6 715.6,361.2 707,357.1 706.1,356.7 696.7,352 688.7,348.1 687.3,347.4 677.9,342.6 668.5,337.9 666.5,336.9 659.1,333.3 649.6,328.8 649.1,328.6 640.1,324.5 630.5,320.1 621,315.8 613.8,312.5 613,312.1 611.5,311.4 602,306.9" fill="#ababab"/>
<polygon points="602.2,306.4 611.7,310.9 613.2,311.6 614,312 621.2,315.3 630.8,319.6 640.3,324 649.4,328.1 649.9,328.3 659.3,332.8 666.8,336.4 668.8,337.4 678.2,342.1 687.5,346.9 688.9,347.6 696.9,351.5 706.4,356.1 707.3,356.6 715.9,360.6 725.3,365.1 734.8,369.6 744.3,374 747.8,375.7 753.8,378.5 763.3,383 767.9,385.1 772.8,387.5 774.9,388.4 777.7,390.3 782.1,392.4 791.6,396.9 801.1,401.4 810.6,405.9 820,410.3 820,410.4 822,411.5 822.6,411.8 823.9,411.9 829.6,414.6 839.1,419.1 838.4,420.5 828.9,416 823.1,413.3 821.9,413.2 821.3,412.9 819.3,411.8 819.2,411.7 809.8,407.3 800.3,402.8 790.9,398.3 781.4,393.8 777,391.7 774.2,389.9 772.1,388.9 767.1,386.6 762.6,384.4 753.1,380 747.1,377.1 743.6,375.5 734.1,371 724.6,366.5 715.2,362 706.6,358 705.7,357.5 696.3,352.9 688.3,348.9 686.9,348.2 677.5,343.5 668.1,338.8 666.1,337.7 658.7,334.2 649.2,329.7 648.7,329.4 639.7,325.3 630.2,320.9 620.6,316.6 613.4,313.3 612.7,312.9 611.1,312.2 601.6,307.7" fill="#aaaaaa"/>
<polygon points="601.8,307.2 611.3,311.7 612.9,312.4 613.6,312.8 620.8,316.1 630.4,320.4 639.9,324.8 649,328.9 649.5,329.2 658.9,333.7 666.4,337.2 668.4,338.3 677.8,343 687.1,347.7 688.5,348.4 696.5,352.4 705.9,357 706.8,357.5 715.4,361.5 724.9,366 734.4,370.5 743.9,374.9 747.4,376.6 753.4,379.4 762.9,383.9 767.4,386 772.4,388.4 774.4,389.3 777.2,391.1 781.7,393.2 791.1,397.7 800.6,402.2 810.1,406.7 819.5,411.2 819.6,411.2 821.6,412.4 822.1,412.7 823.4,412.8 829.2,415.5 838.6,420 837.9,421.4 828.4,416.9 822.7,414.2 821.4,414.1 820.8,413.8 818.8,412.6 818.8,412.6 809.3,408.1 799.9,403.6 790.4,399.1 780.9,394.6 776.5,392.6 773.7,390.8 771.6,389.8 766.7,387.5 762.1,385.3 752.6,380.9 746.6,378 743.2,376.4 733.7,371.9 724.2,367.4 714.7,362.9 706.1,358.9 705.3,358.4 695.9,353.8 687.8,349.8 686.5,349.1 677.1,344.4 667.7,339.6 665.7,338.6 658.3,335 648.8,330.5 648.4,330.3 639.3,326.2 629.8,321.8 620.2,317.4 613,314.1 612.3,313.8 610.7,313 601.2,308.6" fill="#c3c3c3"/>
<polygon points="601.5,308.1 610.9,312.5 612.5,313.3 613.2,313.6 620.5,316.9 630,321.3 639.5,325.6 648.6,329.8 649.1,330 658.5,334.5 666,338.1 668,339.1 677.3,343.8 686.7,348.6 688.1,349.3 696.1,353.2 705.5,357.9 706.4,358.3 715,362.4 724.5,366.9 734,371.3 743.4,375.8 746.9,377.5 752.9,380.3 762.4,384.8 766.9,386.9 771.9,389.3 774,390.2 776.8,392 781.2,394.1 790.7,398.6 800.2,403.1 809.6,407.6 819,412.1 819.1,412.1 821.1,413.3 821.7,413.5 823,413.7 828.7,416.4 838.2,420.9 837.4,422.3 827.9,417.8 822.2,415.1 820.9,414.9 820.3,414.7 818.4,413.5 818.3,413.5 808.9,409 799.4,404.5 789.9,400 780.5,395.5 776.1,393.4 773.2,391.7 771.1,390.7 766.2,388.4 761.7,386.2 752.2,381.8 746.2,378.9 742.7,377.3 733.2,372.8 723.8,368.3 714.3,363.8 705.7,359.7 704.8,359.3 695.4,354.6 687.4,350.7 686.1,350 676.7,345.2 667.3,340.5 665.3,339.4 657.9,335.9 648.4,331.4 648,331.1 638.9,327 629.4,322.6 619.9,318.3 612.7,314.9 611.9,314.6 610.4,313.9 600.9,309.4" fill="#d5d5d5"/>
<polygon points="601.1,308.9 610.6,313.4 612.1,314.1 612.9,314.4 620.1,317.8 629.6,322.1 639.2,326.5 648.2,330.6 648.7,330.9 658.1,335.4 665.6,338.9 667.6,340 676.9,344.7 686.3,349.4 687.7,350.1 695.7,354.1 705.1,358.8 706,359.2 714.6,363.3 724,367.8 733.5,372.2 743,376.7 746.5,378.4 752.5,381.2 761.9,385.7 766.5,387.9 771.4,390.2 773.5,391.2 776.3,392.9 780.7,395 790.2,399.5 799.7,404 809.2,408.5 818.6,413 818.6,413 820.6,414.2 821.2,414.4 822.5,414.6 828.2,417.3 837.7,421.8 836.9,423.1 827.4,418.7 821.7,416 820.4,415.8 819.9,415.6 817.9,414.4 817.8,414.4 808.4,409.9 798.9,405.4 789.5,400.9 780,396.4 775.6,394.3 772.8,392.6 770.7,391.6 765.7,389.3 761.2,387.1 751.7,382.6 745.7,379.8 742.3,378.2 732.8,373.7 723.3,369.2 713.9,364.7 705.3,360.6 704.4,360.2 695,355.5 687,351.5 685.6,350.8 676.3,346.1 666.9,341.3 664.9,340.3 657.5,336.7 648.1,332.2 647.6,332 638.5,327.8 629,323.5 619.5,319.1 612.3,315.8 611.6,315.4 610,314.7 600.5,310.2" fill="#d6d6d6"/>
<polygon points="600.7,309.7 610.2,314.2 611.8,314.9 612.5,315.3 619.7,318.6 629.2,323 638.8,327.3 647.8,331.5 648.3,331.7 657.7,336.2 665.2,339.8 667.2,340.8 676.5,345.5 685.9,350.3 687.3,351 695.3,355 704.7,359.6 705.6,360.1 714.1,364.2 723.6,368.6 733.1,373.1 742.5,377.6 746,379.3 752,382.1 761.5,386.6 766,388.8 771,391.1 773.1,392.1 775.9,393.8 780.3,395.9 789.8,400.4 799.2,404.9 808.7,409.4 818.1,413.8 818.2,413.9 820.2,415 820.7,415.3 822,415.5 827.7,418.2 837.2,422.6 836.4,424 826.9,419.6 821.2,416.9 820,416.7 819.4,416.5 817.4,415.3 817.4,415.2 807.9,410.8 798.5,406.3 789,401.8 779.6,397.3 775.1,395.2 772.3,393.5 770.2,392.5 765.3,390.2 760.7,388 751.3,383.5 745.3,380.7 741.8,379 732.4,374.6 722.9,370.1 713.4,365.6 704.9,361.5 704,361.1 694.6,356.4 686.6,352.4 685.2,351.7 675.9,346.9 666.5,342.2 664.5,341.1 657.1,337.6 647.7,333.1 647.2,332.9 638.1,328.7 628.6,324.3 619.1,319.9 611.9,316.6 611.2,316.3 609.6,315.5 600.1,311" fill="#d7d7d7"/>
<polygon points="600.4,310.5 609.8,315 611.4,315.8 612.1,316.1 619.3,319.4 628.9,323.8 638.4,328.2 647.4,332.3 647.9,332.6 657.4,337.1 664.8,340.6 666.8,341.6 676.1,346.4 685.5,351.2 686.9,351.9 694.9,355.8 704.2,360.5 705.1,361 713.7,365 723.2,369.5 732.6,374 742.1,378.5 745.6,380.2 751.6,383 761,387.5 765.6,389.7 770.5,392 772.6,393 775.4,394.7 779.8,396.8 789.3,401.3 798.8,405.7 808.2,410.2 817.6,414.7 817.7,414.7 819.7,415.9 820.2,416.2 821.5,416.4 827.2,419.1 836.7,423.5 836,424.9 826.5,420.5 820.7,417.8 819.5,417.6 818.9,417.3 816.9,416.1 816.9,416.1 807.5,411.6 798,407.1 788.6,402.7 779.1,398.2 774.7,396.1 771.8,394.4 769.8,393.4 764.8,391.1 760.3,388.9 750.8,384.4 744.8,381.6 741.4,379.9 731.9,375.4 722.5,370.9 713,366.4 704.4,362.4 703.6,361.9 694.2,357.2 686.2,353.2 684.8,352.5 675.5,347.8 666.2,343 664.1,342 656.7,338.4 647.3,333.9 646.8,333.7 637.8,329.5 628.3,325.2 618.7,320.8 611.5,317.4 610.8,317.1 609.3,316.3 599.8,311.9" fill="#cecece"/>
<polygon points="600,311.4 609.5,315.8 611,316.6 611.8,316.9 619,320.3 628.5,324.6 638,329 647,333.2 647.5,333.4 657,337.9 664.4,341.5 666.4,342.5 675.7,347.3 685.1,352 686.4,352.7 694.4,356.7 703.8,361.4 704.7,361.8 713.3,365.9 722.7,370.4 732.2,374.9 741.6,379.4 745.1,381.1 751.1,383.9 760.6,388.4 765.1,390.6 770,392.9 772.1,393.9 775,395.5 779.4,397.6 788.8,402.1 798.3,406.6 807.8,411.1 817.2,415.6 817.2,415.6 819.2,416.8 819.8,417.1 821,417.3 826.7,420 836.3,424.4 835.5,425.8 826,421.4 820.2,418.8 819,418.5 818.5,418.2 816.5,417 816.4,417 807,412.5 797.6,408 788.1,403.5 778.6,399 774.2,397 771.4,395.3 769.3,394.3 764.3,392 759.8,389.9 750.4,385.3 744.4,382.5 740.9,380.8 731.5,376.3 722,371.8 712.6,367.3 704,363.3 703.1,362.8 693.8,358.1 685.8,354.1 684.4,353.4 675.1,348.6 665.8,343.9 663.7,342.8 656.3,339.3 646.9,334.8 646.4,334.6 637.4,330.4 627.9,326 618.4,321.6 611.2,318.3 610.5,317.9 608.9,317.2 599.4,312.7" fill="#b6b6b6"/>
<polygon points="599.6,312.2 609.1,316.7 610.7,317.4 611.4,317.8 618.6,321.1 628.1,325.5 637.6,329.9 646.6,334.1 647.1,334.3 656.6,338.8 664,342.3 666,343.3 675.3,348.1 684.7,352.9 686,353.6 694,357.6 703.4,362.3 704.3,362.7 712.8,366.8 722.3,371.3 731.7,375.8 741.2,380.3 744.7,381.9 750.6,384.8 760.1,389.3 764.6,391.5 769.6,393.8 771.7,394.8 774.5,396.4 778.9,398.5 788.4,403 797.8,407.5 807.3,412 816.7,416.5 816.8,416.5 818.7,417.7 819.3,417.9 820.5,418.2 826.3,420.9 835.8,425.2 835,426.6 825.5,422.3 819.8,419.7 818.5,419.4 818,419.1 816,417.9 815.9,417.9 806.5,413.4 797.1,408.9 787.6,404.4 778.2,399.9 773.8,397.8 770.9,396.2 768.8,395.2 763.9,392.9 759.4,390.8 749.9,386.2 743.9,383.4 740.5,381.7 731,377.2 721.6,372.7 712.1,368.2 703.6,364.1 702.7,363.7 693.4,359 685.4,354.9 684,354.2 674.7,349.5 665.4,344.7 663.3,343.7 655.9,340.2 646.5,335.7 646,335.4 637,331.2 627.5,326.8 618,322.4 610.8,319.1 610.1,318.7 608.5,318 599.1,313.5" fill="#aaaaaa"/>
<polygon points="599.3,313 608.7,317.5 610.3,318.2 611,318.6 618.2,321.9 627.7,326.3 637.2,330.7 646.2,334.9 646.7,335.1 656.2,339.6 663.6,343.2 665.6,344.2 674.9,349 684.3,353.7 685.6,354.4 693.6,358.4 703,363.2 703.8,363.6 712.4,367.7 721.8,372.2 731.3,376.7 740.7,381.2 744.2,382.8 750.2,385.7 759.6,390.2 764.2,392.4 769.1,394.7 771.2,395.7 774,397.3 778.5,399.4 787.9,403.9 797.4,408.4 806.8,412.9 816.2,417.3 816.3,417.4 818.3,418.6 818.8,418.8 820,419.1 825.8,421.8 835.3,426.1 834.5,427.5 825,423.2 819.3,420.6 818.1,420.2 817.5,420 815.5,418.8 815.5,418.7 806.1,414.3 796.6,409.8 787.2,405.3 777.7,400.8 773.3,398.7 770.4,397.1 768.4,396.1 763.4,393.8 758.9,391.7 749.5,387.1 743.5,384.3 740,382.6 730.6,378.1 721.1,373.6 711.7,369.1 703.2,365 702.3,364.6 692.9,359.8 685,355.8 683.6,355.1 674.3,350.3 665,345.6 662.9,344.5 655.5,341 646.1,336.5 645.6,336.3 636.6,332.1 627.1,327.7 617.6,323.3 610.4,319.9 609.7,319.6 608.2,318.8 598.7,314.4" fill="#a6a6a6"/>
<polygon points="598.9,313.9 608.4,318.3 609.9,319.1 610.7,319.4 617.9,322.8 627.3,327.2 636.8,331.6 645.8,335.8 646.3,336 655.8,340.5 663.2,344 665.2,345 674.5,349.8 683.8,354.6 685.2,355.3 693.2,359.3 702.5,364 703.4,364.5 712,368.6 721.4,373.1 730.9,377.6 740.3,382.1 743.8,383.7 749.7,386.6 759.2,391.1 763.7,393.3 768.6,395.6 770.7,396.6 773.6,398.2 778,400.3 787.5,404.8 796.9,409.3 806.4,413.7 815.8,418.2 815.8,418.2 817.8,419.5 818.4,419.7 819.6,420 825.3,422.6 834.8,427 834.1,428.4 824.5,424.1 818.8,421.5 817.6,421.1 817,420.9 815.1,419.6 815,419.6 805.6,415.1 796.2,410.7 786.7,406.2 777.3,401.7 772.9,399.6 770,398 767.9,397 763,394.7 758.4,392.6 749,388 743,385.2 739.6,383.5 730.1,379 720.7,374.5 711.3,370 702.7,365.9 701.8,365.4 692.5,360.7 684.6,356.7 683.2,356 673.9,351.2 664.6,346.4 662.5,345.4 655.1,341.9 645.7,337.4 645.2,337.1 636.2,332.9 626.7,328.5 617.3,324.1 610.1,320.7 609.4,320.4 607.8,319.7 598.3,315.2" fill="#a3a3a3"/>
<polygon points="598.5,314.7 608,319.2 609.6,319.9 610.3,320.2 617.5,323.6 627,328 636.4,332.4 645.4,336.6 645.9,336.8 655.4,341.3 662.8,344.9 664.8,345.9 674.1,350.7 683.4,355.4 684.8,356.1 692.8,360.2 702.1,364.9 703,365.4 711.5,369.4 721,374 730.4,378.5 739.8,383 743.3,384.6 749.3,387.5 758.7,392 763.2,394.2 768.2,396.5 770.3,397.5 773.1,399.1 777.5,401.2 787,405.6 796.4,410.1 805.9,414.6 815.3,419.1 815.3,419.1 817.3,420.3 817.9,420.6 819.1,420.9 824.8,423.5 834.3,427.9 833.6,429.3 824.1,425 818.3,422.4 817.1,422 816.6,421.7 814.6,420.5 814.5,420.5 805.1,416 795.7,411.5 786.3,407 776.8,402.6 772.4,400.5 769.5,398.9 767.4,398 762.5,395.6 758,393.5 748.6,388.9 742.6,386.1 739.1,384.4 729.7,379.9 720.3,375.4 710.8,370.9 702.3,366.8 701.4,366.3 692.1,361.6 684.1,357.5 682.8,356.8 673.5,352 664.2,347.3 662.1,346.2 654.7,342.7 645.3,338.2 644.8,338 635.8,333.8 626.4,329.4 616.9,324.9 609.7,321.6 609,321.2 607.4,320.5 598,316" fill="#9f9f9f"/>
<polygon points="598.2,315.5 607.6,320 609.2,320.7 609.9,321.1 617.1,324.4 626.6,328.9 636.1,333.3 645,337.5 645.5,337.7 655,342.2 662.4,345.7 664.4,346.7 673.7,351.5 683,356.3 684.4,357 692.3,361 701.7,365.8 702.6,366.2 711.1,370.3 720.5,374.8 730,379.4 739.4,383.9 742.9,385.5 748.8,388.4 758.3,392.9 762.8,395.1 767.7,397.4 769.8,398.4 772.7,399.9 777.1,402 786.5,406.5 796,411 805.4,415.5 814.8,420 814.9,420 816.8,421.2 817.4,421.5 818.6,421.8 824.3,424.4 833.9,428.8 833.1,430.1 823.6,425.9 817.8,423.3 816.6,422.9 816.1,422.6 814.1,421.4 814.1,421.4 804.7,416.9 795.2,412.4 785.8,407.9 776.4,403.4 772,401.4 769,399.8 767,398.9 762,396.5 757.5,394.4 748.1,389.8 742.1,387 738.7,385.3 729.3,380.8 719.8,376.3 710.4,371.7 701.9,367.6 701,367.2 691.7,362.4 683.7,358.4 682.4,357.7 673.1,352.9 663.8,348.1 661.7,347.1 654.3,343.6 644.9,339.1 644.4,338.8 635.4,334.6 626,330.2 616.5,325.8 609.3,322.4 608.6,322.1 607.1,321.3 597.6,316.9" fill="#a5a5a5"/>
<polygon points="597.8,316.4 607.3,320.8 608.8,321.6 609.6,321.9 616.7,325.3 626.2,329.7 635.7,334.1 644.7,338.3 645.1,338.6 654.6,343 662,346.6 664,347.6 673.3,352.4 682.6,357.2 684,357.9 691.9,361.9 701.3,366.7 702.1,367.1 710.7,371.2 720.1,375.7 729.5,380.2 738.9,384.8 742.4,386.4 748.4,389.3 757.8,393.8 762.3,396 767.2,398.3 769.3,399.3 772.2,400.8 776.6,402.9 786.1,407.4 795.5,411.9 805,416.4 814.3,420.8 814.4,420.9 816.4,422.1 816.9,422.3 818.1,422.7 823.9,425.3 833.4,429.6 832.6,431 823.1,426.8 817.3,424.2 816.2,423.8 815.6,423.5 813.7,422.3 813.6,422.2 804.2,417.8 794.8,413.3 785.3,408.8 775.9,404.3 771.5,402.2 768.6,400.7 766.5,399.8 761.6,397.4 757.1,395.3 747.6,390.7 741.7,387.9 738.2,386.2 728.8,381.7 719.4,377.1 710,372.6 701.5,368.5 700.6,368.1 691.3,363.3 683.3,359.2 682,358.5 672.7,353.7 663.4,349 661.4,347.9 654,344.4 644.5,339.9 644,339.7 635.1,335.5 625.6,331 616.1,326.6 609,323.2 608.2,322.9 606.7,322.1 597.2,317.7" fill="#b0b0b0"/>
<polygon points="597.5,317.2 606.9,321.6 608.5,322.4 609.2,322.7 616.4,326.1 625.8,330.5 635.3,335 644.3,339.2 644.7,339.4 654.2,343.9 661.6,347.4 663.6,348.4 672.9,353.2 682.2,358 683.6,358.7 691.5,362.8 700.8,367.5 701.7,368 710.2,372.1 719.7,376.6 729.1,381.1 738.5,385.7 742,387.3 747.9,390.2 757.3,394.7 761.9,396.9 766.8,399.2 768.9,400.2 771.8,401.7 776.2,403.8 785.6,408.3 795.1,412.8 804.5,417.2 813.9,421.7 813.9,421.7 815.9,423 816.5,423.2 817.6,423.6 823.4,426.2 832.9,430.5 832.1,431.9 822.6,427.6 816.8,425.1 815.7,424.6 815.1,424.4 813.2,423.1 813.1,423.1 803.7,418.6 794.3,414.2 784.9,409.7 775.4,405.2 771,403.1 768.1,401.6 766,400.7 761.1,398.3 756.6,396.2 747.2,391.6 741.2,388.8 737.8,387.1 728.4,382.6 719,378 709.5,373.5 701,369.4 700.1,368.9 690.8,364.2 682.9,360.1 681.5,359.4 672.3,354.6 663,349.8 661,348.8 653.6,345.3 644.1,340.8 643.6,340.5 634.7,336.3 625.2,331.9 615.8,327.4 608.6,324.1 607.9,323.7 606.3,323 596.9,318.5" fill="#b6b6b6"/>
<polygon points="597.1,318 606.5,322.5 608.1,323.2 608.8,323.6 616,326.9 625.4,331.4 634.9,335.8 643.9,340 644.4,340.3 653.8,344.7 661.2,348.3 663.2,349.3 672.5,354.1 681.8,358.9 683.2,359.6 691.1,363.6 700.4,368.4 701.3,368.9 709.8,373 719.2,377.5 728.6,382 738.1,386.6 741.5,388.2 747.5,391.1 756.9,395.6 761.4,397.8 766.3,400.1 768.4,401.1 771.3,402.6 775.7,404.7 785.2,409.2 794.6,413.6 804,418.1 813.4,422.6 813.5,422.6 815.4,423.9 816,424.1 817.1,424.5 822.9,427.1 832.4,431.4 831.7,432.8 822.1,428.5 816.4,426 815.2,425.5 814.7,425.3 812.7,424 812.7,424 803.3,419.5 793.8,415 784.4,410.6 775,406.1 770.6,404 767.6,402.6 765.6,401.6 760.6,399.2 756.1,397.1 746.7,392.5 740.8,389.7 737.3,388 727.9,383.5 718.5,378.9 709.1,374.4 700.6,370.3 699.7,369.8 690.4,365 682.5,360.9 681.1,360.2 671.8,355.4 662.6,350.6 660.6,349.6 653.2,346.1 643.7,341.6 643.2,341.4 634.3,337.2 624.8,332.7 615.4,328.3 608.2,324.9 607.5,324.5 606,323.8 596.5,319.3" fill="#b5b5b5"/>
<polygon points="596.7,318.8 606.2,323.3 607.7,324 608.5,324.4 615.6,327.8 625.1,332.2 634.5,336.7 643.5,340.9 644,341.1 653.4,345.6 660.8,349.1 662.8,350.1 672.1,354.9 681.4,359.7 682.8,360.4 690.7,364.5 700,369.3 700.9,369.7 709.4,373.8 718.8,378.4 728.2,382.9 737.6,387.5 741.1,389.1 747,392 756.4,396.5 760.9,398.7 765.8,401 767.9,402 770.9,403.5 775.3,405.6 784.7,410 794.1,414.5 803.6,419 812.9,423.5 813,423.5 814.9,424.7 815.5,425 816.7,425.4 822.4,428 832,432.2 831.2,433.6 821.6,429.4 815.9,426.9 814.8,426.4 814.2,426.1 812.2,424.9 812.2,424.9 802.8,420.4 793.4,415.9 784,411.4 774.5,407 770.1,404.9 767.2,403.5 765.1,402.5 760.2,400.1 755.7,398 746.3,393.4 740.3,390.5 736.9,388.9 727.5,384.3 718.1,379.8 708.7,375.3 700.2,371.1 699.3,370.7 690,365.9 682.1,361.8 680.7,361.1 671.4,356.3 662.2,351.5 660.2,350.5 652.8,347 643.3,342.5 642.8,342.3 633.9,338 624.5,333.6 615,329.1 607.9,325.7 607.1,325.4 605.6,324.6 596.1,320.2" fill="#b4b4b4"/>
<polygon points="596.4,319.7 605.8,324.1 607.4,324.9 608.1,325.2 615.2,328.6 624.7,333.1 634.1,337.5 643.1,341.7 643.6,342 653,346.4 660.4,350 662.4,351 671.7,355.8 681,360.6 682.3,361.3 690.3,365.4 699.5,370.2 700.4,370.6 708.9,374.7 718.3,379.3 727.7,383.8 737.2,388.3 740.6,390 746.6,392.9 756,397.4 760.5,399.6 765.4,401.9 767.5,402.9 770.4,404.3 774.8,406.4 784.2,410.9 793.7,415.4 803.1,419.9 812.5,424.3 812.5,424.4 814.5,425.6 815,425.9 816.2,426.3 821.9,428.9 831.5,433.1 831,434 821.4,429.8 815.7,427.2 814.6,426.7 814,426.5 812.1,425.2 812,425.2 802.6,420.7 793.2,416.3 783.8,411.8 774.3,407.3 769.9,405.2 767,403.8 764.9,402.8 760,400.5 755.5,398.3 746.1,393.8 740.1,390.9 736.7,389.2 727.3,384.7 717.9,380.2 708.5,375.6 700,371.5 699.1,371 689.8,366.2 681.9,362.1 680.6,361.4 671.3,356.6 662,351.8 660,350.8 652.6,347.3 643.2,342.8 642.7,342.6 633.7,338.4 624.3,333.9 614.9,329.4 607.7,326 607,325.7 605.4,325 596,320.5" fill="#a1a1a1"/>
<polygon points="852,395.5 852.5,396 852.8,396.8 852.9,397.9 852.8,399.3 852.5,400.9 852,402.8 851.4,404.9 850.6,407.2 849.6,409.6 848.5,412.1 847.2,414.6 845.9,417.1 844.5,419.6 843,422 841.5,424.3 840.1,426.4 838.6,428.4 837.2,430.1 835.8,431.5 834.6,432.6 833.5,433.5 832.5,434 831.7,434.1 831,434" fill="url(#capA)"/>
<polyline points="788.5,364.5 787.6,364.6 786.4,365.4 785,367 783.3,369.3 781.5,372.1 779.6,375.5 777.7,379.2 775.8,383.1 774.2,387.1 772.7,391 771.5,394.6" fill="none" stroke="#505050" stroke-opacity="0.2" stroke-width="1.4"/>
<polyline points="790,365.2 789.1,365.2 787.9,366.1 786.4,367.7 784.7,370 782.9,372.8 781,376.2 779.1,379.9 777.3,383.8 775.6,387.8 774.1,391.7 772.9,395.3" fill="none" stroke="#ffffff" stroke-opacity="0.2" stroke-width="1.6"/>
<polyline points="836,388.2 835.1,388.2 833.9,389 832.4,390.4 830.6,392.5 828.7,395.2 826.7,398.3 824.7,401.8 822.7,405.5 820.9,409.3 819.2,413 817.9,416.5" fill="none" stroke="#505050" stroke-opacity="0.2" stroke-width="1.4"/>
<polyline points="837.5,388.9 836.6,388.9 835.3,389.6 833.8,391.1 832.1,393.2 830.2,395.9 828.1,399 826.1,402.5 824.1,406.2 822.3,410 820.7,413.7 819.3,417.2" fill="none" stroke="#ffffff" stroke-opacity="0.2" stroke-width="1.6"/>
<polygon points="239,108.5 253.9,114.3 268.9,120 279.7,124.2 283.8,125.8 298.7,131.5 300,132 313.5,137.6 328.2,143.8 330,144.5 342.7,150.4 348.1,152.9 357.2,157.1 371.7,163.8 378.5,166.9 386.2,170.5 400.7,177.2 415.2,183.9 420.5,186.4 423,187.5 429.6,190.8 443.9,197.9 458.2,205 467.2,209.5 472.5,212.1 480,215.8 486.8,219 489.6,220.3 501.3,225.8 506.7,228.3 511.7,230.6 515.7,232.6 530.2,239.3 533.3,240.8 535.3,241.4 545.4,244.5 553.8,247.1 555,247.5 560.9,249 572.7,252.1 576.6,253.1 580,254 590.1,258.7 591.3,259.3 605.8,266 604.9,268.6 590.4,261.9 589.2,261.3 579.1,256.6 575.7,255.7 571.8,254.6 560,251.4 554.2,249.8 553,249.5 544.6,246.8 534.6,243.6 532.6,242.9 529.5,241.5 515,234.7 510.9,232.7 506,230.4 500.6,227.9 488.9,222.4 486.1,221 479.3,217.8 471.8,214.1 466.5,211.4 457.5,207 443.2,199.9 428.8,192.8 422.3,189.6 419.8,188.4 414.4,185.9 399.9,179.2 385.5,172.5 377.8,169 371,165.8 356.5,159.1 347.3,154.8 342,152.4 329.3,146.5 327.5,145.7 312.8,139.5 299.3,133.9 298,133.4 283.1,127.6 279.1,126 268.2,121.8 253.3,116 238.4,110.2" fill="url(#g1)"/>
<polygon points="238.6,109.5 253.5,115.3 268.4,121.1 279.3,125.3 283.4,126.9 298.3,132.7 299.6,133.2 313,138.8 327.8,145 329.5,145.7 342.3,151.6 347.6,154.1 356.8,158.3 371.2,165.1 378.1,168.2 385.7,171.8 400.2,178.5 414.7,185.2 420.1,187.6 422.5,188.8 429.1,192 443.4,199.1 457.7,206.2 466.8,210.7 472,213.3 479.6,217.1 486.4,220.3 489.2,221.6 500.8,227.1 506.2,229.6 511.2,232 515.3,233.9 529.7,240.7 532.8,242.1 534.9,242.8 544.9,245.9 553.3,248.6 554.5,249 560.4,250.5 572.2,253.7 576,254.7 579.4,255.6 589.5,260.3 590.7,260.9 605.2,267.6 604.3,270.2 589.8,263.5 588.6,262.9 578.5,258.2 575.1,257.2 571.3,256.2 559.5,252.9 553.7,251.3 552.5,250.9 544.1,248.2 534.1,244.9 532.1,244.3 529,242.8 514.6,236 510.5,234.1 505.5,231.7 500.1,229.2 488.5,223.7 485.7,222.3 478.9,219.1 471.3,215.3 466.1,212.7 457,208.2 442.7,201.2 428.4,194.1 421.8,190.9 419.3,189.7 414,187.2 399.5,180.5 385,173.8 377.3,170.3 370.5,167.1 356,160.3 346.9,156.1 341.6,153.6 328.8,147.7 327,147 312.3,140.8 298.9,135.1 297.6,134.6 282.7,128.8 278.6,127.2 267.8,122.9 252.9,117.1 238,111.2" fill="url(#g2)"/>
<polygon points="238.2,110.6 253.1,116.4 268,122.2 278.9,126.5 282.9,128.1 297.8,133.9 299.1,134.4 312.6,140 327.3,146.2 329.1,147 341.8,152.9 347.2,155.3 356.3,159.6 370.8,166.3 377.6,169.5 385.3,173 399.8,179.7 414.2,186.5 419.6,188.9 422.1,190.1 428.7,193.3 443,200.4 457.3,207.5 466.4,211.9 471.6,214.6 479.1,218.3 486,221.6 488.7,222.9 500.4,228.4 505.8,230.9 510.8,233.3 514.8,235.2 529.3,242 532.4,243.5 534.4,244.1 544.4,247.3 552.8,250 554,250.4 559.8,252 571.6,255.3 575.4,256.3 578.8,257.2 589,261.9 590.2,262.5 604.6,269.3 603.7,271.9 589.2,265.1 588,264.5 577.9,259.8 574.5,258.8 570.7,257.8 559,254.4 553.1,252.7 552,252.3 543.6,249.6 533.7,246.3 531.6,245.6 528.5,244.1 514.1,237.3 510,235.4 505.1,233 499.7,230.5 488,224.9 485.2,223.6 478.4,220.3 470.9,216.6 465.7,213.9 456.6,209.5 442.3,202.4 427.9,195.4 421.3,192.1 418.9,191 413.5,188.5 399,181.8 384.5,175.1 376.9,171.5 370,168.4 355.6,161.6 346.4,157.3 341.1,154.8 328.4,148.9 326.6,148.2 311.9,142 298.4,136.3 297.1,135.8 282.3,129.9 278.2,128.3 267.4,124 252.5,118.1 237.7,112.2" fill="url(#g3)"/>
<polygon points="237.9,111.6 252.8,117.5 267.6,123.4 278.5,127.6 282.5,129.2 297.4,135.1 298.7,135.6 312.1,141.2 326.9,147.4 328.6,148.2 341.4,154.1 346.7,156.6 355.9,160.8 370.3,167.6 377.1,170.8 384.8,174.3 399.3,181 413.8,187.7 419.1,190.2 421.6,191.4 428.2,194.6 442.5,201.7 456.9,208.7 465.9,213.2 471.2,215.8 478.7,219.6 485.5,222.8 488.3,224.2 499.9,229.7 505.3,232.2 510.3,234.6 514.4,236.5 528.8,243.3 531.9,244.8 533.9,245.4 543.9,248.7 552.3,251.5 553.5,251.9 559.3,253.5 571,256.8 574.9,257.9 578.2,258.8 588.4,263.6 589.6,264.1 604,270.9 603.1,273.5 588.6,266.7 587.4,266.1 577.3,261.4 573.9,260.4 570.1,259.3 558.4,255.9 552.6,254.2 551.5,253.8 543.1,251 533.2,247.6 531.2,246.9 528.1,245.5 513.6,238.6 509.6,236.7 504.6,234.3 499.2,231.8 487.6,226.2 484.8,224.9 478,221.6 470.5,217.8 465.2,215.2 456.2,210.7 441.8,203.7 427.5,196.7 420.9,193.4 418.4,192.3 413,189.8 398.5,183.1 384.1,176.4 376.4,172.8 369.6,169.6 355.1,162.8 346,158.6 340.7,156.1 327.9,150.2 326.1,149.4 311.4,143.2 298,137.5 296.7,137 281.8,131.1 277.8,129.5 267,125.1 252.1,119.2 237.3,113.3" fill="url(#g4)"/>
<polygon points="237.5,112.7 252.4,118.6 267.2,124.5 278.1,128.8 282.1,130.4 297,136.2 298.3,136.8 311.7,142.4 326.4,148.7 328.2,149.4 340.9,155.3 346.3,157.8 355.4,162.1 369.9,168.9 376.7,172 384.3,175.6 398.8,182.3 413.3,189 418.7,191.5 421.2,192.7 427.7,195.9 442.1,202.9 456.4,210 465.5,214.4 470.7,217.1 478.2,220.8 485.1,224.1 487.8,225.5 499.5,231 504.9,233.5 509.8,235.9 513.9,237.8 528.3,244.7 531.4,246.1 533.5,246.8 543.4,250.1 551.8,252.9 552.9,253.3 558.8,255 570.5,258.4 574.3,259.5 577.7,260.4 587.8,265.2 589,265.7 603.4,272.5 602.5,275.1 588,268.3 586.8,267.8 576.7,263 573.4,262 569.6,260.9 557.9,257.4 552.1,255.6 551,255.2 542.6,252.4 532.7,248.9 530.7,248.3 527.6,246.8 513.2,239.9 509.1,238 504.1,235.6 498.8,233.1 487.1,227.5 484.3,226.2 477.5,222.9 470,219.1 464.8,216.4 455.7,212 441.4,204.9 427,197.9 420.4,194.7 417.9,193.6 412.6,191.1 398.1,184.4 383.6,177.6 375.9,174.1 369.1,170.9 354.7,164.1 345.5,159.8 340.2,157.3 327.5,151.4 325.7,150.6 311,144.4 297.6,138.7 296.3,138.1 281.4,132.2 277.4,130.6 266.6,126.3 251.7,120.3 236.9,114.3" fill="url(#g5)"/>
<polygon points="237.1,113.7 252,119.6 266.8,125.6 277.6,129.9 281.7,131.5 296.5,137.4 297.8,137.9 311.3,143.6 326,149.9 327.7,150.7 340.5,156.6 345.8,159.1 354.9,163.3 369.4,170.1 376.2,173.3 383.9,176.9 398.4,183.6 412.9,190.3 418.2,192.8 420.7,194 427.3,197.2 441.6,204.2 456,211.2 465.1,215.7 470.3,218.3 477.8,222.1 484.6,225.4 487.4,226.7 499,232.3 504.4,234.8 509.4,237.2 513.4,239.1 527.9,246 531,247.5 533,248.1 542.9,251.5 551.3,254.4 552.4,254.8 558.2,256.5 569.9,260 573.7,261.1 577.1,262 587.2,266.8 588.4,267.3 602.8,274.1 601.9,276.8 587.5,269.9 586.3,269.4 576.1,264.6 572.8,263.6 569,262.5 557.4,258.9 551.6,257.1 550.4,256.7 542.1,253.8 532.3,250.3 530.2,249.6 527.1,248.1 512.7,241.3 508.6,239.3 503.7,236.9 498.3,234.4 486.7,228.8 483.9,227.4 477.1,224.1 469.6,220.3 464.4,217.6 455.3,213.2 440.9,206.2 426.5,199.2 420,196 417.5,194.9 412.1,192.4 397.6,185.7 383.1,178.9 375.5,175.4 368.7,172.2 354.2,165.3 345.1,161 339.8,158.6 327,152.6 325.2,151.9 310.6,145.6 297.1,139.8 295.8,139.3 281,133.4 277,131.8 266.2,127.4 251.3,121.4 236.5,115.3" fill="url(#g6)"/>
<polygon points="236.8,114.7 251.6,120.7 266.4,126.7 277.2,131.1 281.3,132.7 296.1,138.6 297.4,139.1 310.8,144.9 325.5,151.1 327.3,151.9 340,157.8 345.4,160.3 354.5,164.6 368.9,171.4 375.7,174.6 383.4,178.2 397.9,184.9 412.4,191.6 417.7,194.1 420.2,195.2 426.8,198.5 441.2,205.5 455.5,212.5 464.6,216.9 469.9,219.5 477.4,223.4 484.2,226.7 486.9,228 498.6,233.6 504,236.2 508.9,238.5 513,240.5 527.4,247.3 530.5,248.8 532.6,249.5 542.4,252.9 550.7,255.8 551.9,256.2 557.7,258 569.3,261.5 573.1,262.7 576.5,263.6 586.6,268.4 587.8,269 602.3,275.8 601.3,278.4 586.9,271.6 585.7,271 575.6,266.2 572.2,265.2 568.4,264.1 556.8,260.4 551.1,258.5 549.9,258.1 541.6,255.2 531.8,251.6 529.8,250.9 526.7,249.4 512.3,242.6 508.2,240.6 503.2,238.3 497.8,235.7 486.2,230.1 483.5,228.7 476.7,225.4 469.2,221.5 464,218.9 454.8,214.5 440.5,207.5 426.1,200.5 419.5,197.3 417,196.2 411.6,193.7 397.2,186.9 382.7,180.2 375,176.6 368.2,173.4 353.8,166.6 344.6,162.3 339.3,159.8 326.6,153.9 324.8,153.1 310.1,146.8 296.7,141 295.4,140.5 280.6,134.5 276.6,132.9 265.8,128.5 251,122.4 236.2,116.4" fill="url(#g7)"/>
<polygon points="236.4,115.8 251.2,121.8 266,127.8 276.8,132.2 280.8,133.8 295.7,139.8 297,140.3 310.4,146.1 325.1,152.4 326.8,153.1 339.6,159.1 344.9,161.5 354,165.8 368.5,172.7 375.3,175.9 383,179.4 397.4,186.2 411.9,192.9 417.3,195.4 419.8,196.5 426.4,199.7 440.7,206.7 455.1,213.7 464.2,218.1 469.4,220.8 476.9,224.6 483.7,228 486.5,229.3 498.1,234.9 503.5,237.5 508.5,239.9 512.5,241.8 527,248.6 530.1,250.1 532.1,250.8 541.9,254.3 550.2,257.3 551.4,257.7 557.2,259.5 568.8,263.1 572.6,264.2 575.9,265.3 586,270 587.2,270.6 601.7,277.4 600.7,280 586.3,273.2 585.1,272.6 575,267.8 571.6,266.8 567.9,265.6 556.3,261.9 550.6,260 549.4,259.6 541.2,256.5 531.3,252.9 529.3,252.2 526.2,250.8 511.8,243.9 507.7,242 502.8,239.6 497.4,237 485.8,231.4 483,230 476.2,226.7 468.7,222.8 463.5,220.1 454.4,215.7 440,208.7 425.6,201.8 419,198.6 416.5,197.5 411.2,195 396.7,188.2 382.2,181.5 374.5,177.9 367.7,174.7 353.3,167.8 344.2,163.5 338.8,161 326.1,155.1 324.3,154.3 309.7,148 296.3,142.2 295,141.7 280.2,135.7 276.1,134 265.4,129.6 250.6,123.5 235.8,117.4" fill="url(#g8)"/>
<polygon points="236,116.8 250.8,122.9 265.6,128.9 276.4,133.4 280.4,135 295.2,141 296.5,141.5 309.9,147.3 324.6,153.6 326.4,154.4 339.1,160.3 344.5,162.8 353.6,167.1 368,173.9 374.8,177.2 382.5,180.7 397,187.5 411.5,194.2 416.8,196.7 419.3,197.8 425.9,201 440.3,208 454.7,215 463.8,219.4 469,222 476.5,225.9 483.3,229.2 486.1,230.6 497.7,236.2 503,238.8 508,241.2 512.1,243.1 526.5,250 529.6,251.4 531.6,252.1 541.4,255.7 549.7,258.7 550.9,259.1 556.6,261 568.2,264.7 572,265.8 575.3,266.9 585.4,271.6 586.6,272.2 601.1,279 600.1,281.6 585.7,274.8 584.5,274.2 574.4,269.4 571.1,268.4 567.3,267.2 555.8,263.4 550,261.5 548.9,261 540.7,257.9 530.9,254.3 528.9,253.6 525.8,252.1 511.3,245.2 507.3,243.3 502.3,240.9 496.9,238.3 485.3,232.6 482.6,231.3 475.8,227.9 468.3,224 463.1,221.3 454,217 439.6,210 425.2,203.1 418.6,199.9 416.1,198.7 410.7,196.3 396.2,189.5 381.7,182.8 374.1,179.2 367.3,176 352.8,169.1 343.7,164.8 338.4,162.3 325.7,156.3 323.9,155.6 309.2,149.2 295.8,143.4 294.5,142.9 279.7,136.8 275.7,135.2 264.9,130.7 250.2,124.6 235.4,118.5" fill="url(#g9)"/>
<polygon points="235.6,117.8 250.4,123.9 265.2,130 276,134.5 280,136.1 294.8,142.2 296.1,142.7 309.5,148.5 324.2,154.8 325.9,155.6 338.7,161.5 344,164 353.1,168.4 367.6,175.2 374.4,178.4 382,182 396.5,188.7 411,195.5 416.4,198 418.8,199.1 425.5,202.3 439.8,209.3 454.2,216.2 463.4,220.6 468.6,223.3 476,227.2 482.8,230.5 485.6,231.9 497.2,237.5 502.6,240.1 507.5,242.5 511.6,244.4 526,251.3 529.1,252.8 531.2,253.5 541,257.1 549.2,260.2 550.4,260.6 556.1,262.5 567.6,266.3 571.4,267.4 574.7,268.5 584.9,273.2 586.1,273.8 600.5,280.7 599.5,283.3 585.1,276.4 583.9,275.8 573.8,271 570.5,270 566.7,268.8 555.2,264.9 549.5,262.9 548.4,262.5 540.2,259.3 530.4,255.6 528.4,254.9 525.3,253.4 510.9,246.5 506.8,244.6 501.9,242.2 496.5,239.6 484.9,233.9 482.1,232.6 475.3,229.2 467.9,225.3 462.7,222.6 453.5,218.2 439.1,211.3 424.7,204.4 418.1,201.2 415.6,200 410.3,197.5 395.8,190.8 381.3,184 373.6,180.5 366.8,177.2 352.4,170.4 343.3,166 337.9,163.5 325.2,157.6 323.4,156.8 308.8,150.4 295.4,144.6 294.1,144.1 279.3,138 275.3,136.3 264.5,131.8 249.8,125.7 235,119.5" fill="url(#g10)"/>
<polygon points="235.2,118.9 250,125 264.8,131.2 275.6,135.6 279.6,137.3 294.4,143.4 295.7,143.9 309,149.7 323.7,156 325.5,156.8 338.2,162.8 343.6,165.3 352.7,169.6 367.1,176.5 373.9,179.7 381.6,183.3 396,190 410.5,196.8 415.9,199.3 418.4,200.4 425,203.6 439.4,210.5 453.8,217.5 462.9,221.8 468.1,224.5 475.6,228.4 482.4,231.8 485.2,233.2 496.8,238.8 502.1,241.4 507.1,243.8 511.1,245.7 525.6,252.6 528.7,254.1 530.7,254.8 540.5,258.5 548.7,261.6 549.8,262 555.6,264 567.1,267.8 570.8,269 574.2,270.1 584.3,274.9 585.5,275.4 599.9,282.3 599,284.9 584.5,278 583.3,277.4 573.2,272.6 569.9,271.6 566.1,270.4 554.7,266.3 549,264.4 547.9,263.9 539.7,260.7 529.9,257 527.9,256.2 524.8,254.8 510.4,247.9 506.4,245.9 501.4,243.5 496,240.9 484.4,235.2 481.7,233.8 474.9,230.4 467.4,226.5 462.2,223.8 453.1,219.5 438.7,212.5 424.3,205.6 417.6,202.5 415.2,201.3 409.8,198.8 395.3,192.1 380.8,185.3 373.2,181.7 366.4,178.5 351.9,171.6 342.8,167.3 337.5,164.8 324.8,158.8 323,158 308.3,151.6 295,145.8 293.7,145.2 278.9,139.1 274.9,137.5 264.1,133 249.4,126.7 234.7,120.5" fill="url(#g11)"/>
<polygon points="234.9,119.9 249.6,126.1 264.4,132.3 275.1,136.8 279.1,138.4 293.9,144.5 295.2,145.1 308.6,150.9 323.3,157.3 325,158 337.8,164 343.1,166.5 352.2,170.9 366.6,177.7 373.4,181 381.1,184.6 395.6,191.3 410.1,198.1 415.4,200.6 417.9,201.7 424.5,204.9 438.9,211.8 453.4,218.7 462.5,223.1 467.7,225.8 475.2,229.7 481.9,233.1 484.7,234.4 496.3,240.1 501.7,242.7 506.6,245.1 510.7,247.1 525.1,254 528.2,255.4 530.2,256.2 540,259.9 548.2,263 549.3,263.5 555,265.5 566.5,269.4 570.2,270.6 573.6,271.7 583.7,276.5 584.9,277 599.3,283.9 598.4,286.5 583.9,279.6 582.7,279.1 572.6,274.3 569.3,273.2 565.6,271.9 554.2,267.8 548.5,265.8 547.4,265.4 539.2,262.1 529.5,258.3 527.5,257.6 524.4,256.1 510,249.2 505.9,247.2 500.9,244.8 495.6,242.2 484,236.5 481.2,235.1 474.5,231.7 467,227.8 461.8,225.1 452.7,220.7 438.2,213.8 423.8,206.9 417.2,203.8 414.7,202.6 409.3,200.1 394.8,193.4 380.4,186.6 372.7,183 365.9,179.8 351.5,172.9 342.4,168.5 337,166 324.3,160 322.6,159.2 307.9,152.8 294.5,147 293.2,146.4 278.5,140.3 274.5,138.6 263.7,134.1 249,127.8 234.3,121.6" fill="url(#g12)"/>
<polygon points="234.5,121 249.2,127.2 264,133.4 274.7,137.9 278.7,139.6 293.5,145.7 294.8,146.3 308.2,152.1 322.8,158.5 324.6,159.3 337.3,165.2 342.7,167.7 351.8,172.1 366.2,179 373,182.3 380.6,185.8 395.1,192.6 409.6,199.3 415,201.8 417.5,203 424.1,206.1 438.5,213 452.9,220 462.1,224.3 467.3,227 474.7,230.9 481.5,234.3 484.3,235.7 495.8,241.4 501.2,244 506.2,246.4 510.2,248.4 524.6,255.3 527.7,256.8 529.8,257.5 539.5,261.3 547.7,264.5 548.8,264.9 554.5,266.9 565.9,271 569.7,272.2 573,273.3 583.1,278.1 584.3,278.7 598.7,285.6 597.8,288.2 583.4,281.2 582.2,280.7 572.1,275.9 568.7,274.7 565,273.5 553.6,269.3 548,267.3 546.8,266.8 538.7,263.5 529,259.6 527,258.9 523.9,257.4 509.5,250.5 505.4,248.5 500.5,246.1 495.1,243.5 483.5,237.8 480.8,236.4 474,233 466.6,229 461.4,226.3 452.2,221.9 437.8,215.1 423.3,208.2 416.7,205 414.2,203.9 408.9,201.4 394.4,194.6 379.9,187.9 372.2,184.3 365.4,181 351,174.1 341.9,169.7 336.6,167.2 323.9,161.2 322.1,160.5 307.5,154 294.1,148.2 292.8,147.6 278,141.4 274,139.8 263.3,135.2 248.6,128.9 233.9,122.6" fill="url(#g13)"/>
<polygon points="234.1,122 248.8,128.3 263.6,134.5 274.3,139.1 278.3,140.7 293.1,146.9 294.3,147.4 307.7,153.3 322.4,159.7 324.1,160.5 336.9,166.5 342.2,169 351.3,173.4 365.7,180.3 372.5,183.5 380.2,187.1 394.7,193.9 409.1,200.6 414.5,203.1 417,204.3 423.6,207.4 438.1,214.3 452.5,221.2 461.6,225.6 466.8,228.3 474.3,232.2 481,235.6 483.8,237 495.4,242.7 500.8,245.3 505.7,247.8 509.8,249.7 524.2,256.6 527.3,258.1 529.3,258.8 539,262.7 547.2,265.9 548.3,266.4 554,268.4 565.4,272.6 569.1,273.8 572.4,274.9 582.5,279.7 583.7,280.3 598.1,287.2 597.2,289.8 582.8,282.9 581.6,282.3 571.5,277.5 568.2,276.3 564.4,275.1 553.1,270.8 547.5,268.7 546.3,268.3 538.2,264.9 528.5,261 526.5,260.2 523.4,258.7 509,251.8 505,249.9 500,247.4 494.7,244.8 483.1,239.1 480.3,237.7 473.6,234.2 466.1,230.3 460.9,227.5 451.8,223.2 437.3,216.3 422.9,209.5 416.3,206.3 413.8,205.2 408.4,202.7 393.9,195.9 379.4,189.2 371.8,185.6 365,182.3 350.6,175.4 341.5,171 336.1,168.5 323.4,162.5 321.7,161.7 307,155.2 293.7,149.3 292.4,148.8 277.6,142.6 273.6,140.9 262.9,136.3 248.2,130 233.5,123.6" fill="url(#g14)"/>
<polygon points="233.8,123 248.5,129.3 263.2,135.6 273.9,140.2 277.9,141.9 292.6,148.1 293.9,148.6 307.3,154.5 321.9,161 323.7,161.7 336.4,167.7 341.7,170.2 350.8,174.6 365.3,181.5 372,184.8 379.7,188.4 394.2,195.2 408.7,201.9 414,204.4 416.5,205.6 423.2,208.7 437.6,215.6 452,222.4 461.2,226.8 466.4,229.5 473.8,233.5 480.6,236.9 483.4,238.3 494.9,244 500.3,246.6 505.2,249.1 509.3,251 523.7,257.9 526.8,259.4 528.8,260.2 538.5,264.1 546.6,267.4 547.8,267.8 553.4,269.9 564.8,274.1 568.5,275.4 571.8,276.5 581.9,281.3 583.1,281.9 597.5,288.8 596.6,291.4 582.2,284.5 581,283.9 570.9,279.1 567.6,277.9 563.9,276.6 552.6,272.3 546.9,270.2 545.8,269.7 537.7,266.3 528.1,262.3 526.1,261.6 523,260.1 508.6,253.1 504.5,251.2 499.6,248.7 494.2,246.1 482.6,240.4 479.9,238.9 473.1,235.5 465.7,231.5 460.5,228.8 451.3,224.4 436.9,217.6 422.4,210.8 415.8,207.6 413.3,206.5 407.9,204 393.5,197.2 379,190.4 371.3,186.9 364.5,183.6 350.1,176.6 341,172.2 335.7,169.7 323,163.7 321.2,162.9 306.6,156.4 293.2,150.5 291.9,150 277.2,143.7 273.2,142.1 262.5,137.4 247.8,131.1 233.2,124.7" fill="url(#g15)"/>
<polygon points="233.4,124.1 248.1,130.4 262.8,136.7 273.5,141.4 277.5,143.1 292.2,149.3 293.5,149.8 306.8,155.7 321.5,162.2 323.2,163 336,169 341.3,171.5 350.4,175.9 364.8,182.8 371.6,186.1 379.2,189.7 393.7,196.4 408.2,203.2 413.6,205.7 416.1,206.9 422.7,210 437.2,216.8 451.6,223.7 460.8,228 466,230.8 473.4,234.7 480.2,238.2 482.9,239.6 494.5,245.3 499.8,247.9 504.8,250.4 508.8,252.3 523.3,259.3 526.4,260.8 528.4,261.5 538,265.5 546.1,268.8 547.3,269.3 552.9,271.4 564.2,275.7 567.9,277 571.2,278.1 581.3,282.9 582.5,283.5 597,290.5 596,293.1 581.6,286.1 580.4,285.5 570.3,280.7 567,279.5 563.3,278.2 552,273.8 546.4,271.6 545.3,271.2 537.2,267.7 527.6,263.7 525.6,262.9 522.5,261.4 508.1,254.5 504.1,252.5 499.1,250 493.8,247.4 482.2,241.6 479.4,240.2 472.7,236.7 465.3,232.8 460.1,230 450.9,225.7 436.4,218.9 422,212 415.3,208.9 412.8,207.8 407.5,205.3 393,198.5 378.5,191.7 370.8,188.1 364.1,184.8 349.7,177.9 340.6,173.5 335.2,170.9 322.5,164.9 320.8,164.2 306.1,157.7 292.8,151.7 291.5,151.2 276.8,144.9 272.8,143.2 262.1,138.5 247.4,132.1 232.8,125.7" fill="url(#g16)"/>
<polygon points="233,125.1 247.7,131.5 262.3,137.9 273,142.5 277,144.2 291.8,150.5 293,151 306.4,156.9 321,163.4 322.8,164.2 335.5,170.2 340.8,172.7 349.9,177.1 364.3,184.1 371.1,187.4 378.8,190.9 393.3,197.7 407.8,204.5 413.1,207 415.6,208.1 422.2,211.3 436.7,218.1 451.2,224.9 460.3,229.3 465.5,232 473,236 479.7,239.5 482.5,240.9 494,246.6 499.4,249.3 504.3,251.7 508.4,253.7 522.8,260.6 525.9,262.1 527.9,262.9 537.5,266.9 545.6,270.3 546.7,270.8 552.4,272.9 563.6,277.3 567.4,278.6 570.7,279.7 580.8,284.5 582,285.1 596.4,292.1 595.4,294.7 581,287.7 579.8,287.1 569.7,282.3 566.4,281.1 562.7,279.8 551.5,275.3 545.9,273.1 544.8,272.6 536.7,269.1 527.1,265 525.2,264.2 522.1,262.7 507.6,255.8 503.6,253.8 498.7,251.3 493.3,248.7 481.7,242.9 479,241.5 472.3,238 464.8,234 459.6,231.3 450.5,226.9 436,220.1 421.5,213.3 414.9,210.2 412.4,209.1 407,206.6 392.5,199.8 378,193 370.4,189.4 363.6,186.1 349.2,179.1 340.1,174.7 334.8,172.2 322.1,166.2 320.3,165.4 305.7,158.9 292.3,152.9 291.1,152.4 276.4,146.1 272.4,144.3 261.7,139.6 247,133.2 232.4,126.8" fill="url(#g17)"/>
<polygon points="232.6,126.1 247.3,132.6 261.9,139 272.6,143.7 276.6,145.4 291.3,151.6 292.6,152.2 306,158.1 320.6,164.6 322.3,165.4 335.1,171.4 340.4,174 349.5,178.4 363.9,185.3 370.7,188.6 378.3,192.2 392.8,199 407.3,205.8 412.6,208.3 415.1,209.4 421.8,212.6 436.3,219.4 450.7,226.2 459.9,230.5 465.1,233.3 472.5,237.3 479.3,240.7 482,242.2 493.6,247.9 498.9,250.6 503.9,253 507.9,255 522.3,261.9 525.4,263.4 527.4,264.2 537,268.3 545.1,271.7 546.2,272.2 551.8,274.4 563.1,278.8 566.8,280.2 570.1,281.3 580.2,286.2 581.4,286.7 595.8,293.7 594.8,296.3 580.4,289.3 579.2,288.7 569.1,283.9 565.9,282.7 562.2,281.4 551,276.8 545.4,274.5 544.3,274 536.2,270.5 526.7,266.3 524.7,265.6 521.6,264.1 507.2,257.1 503.1,255.1 498.2,252.7 492.8,250 481.3,244.2 478.6,242.8 471.8,239.3 464.4,235.3 459.2,232.5 450,228.2 435.5,221.4 421.1,214.6 414.4,211.5 411.9,210.4 406.6,207.9 392.1,201.1 377.6,194.3 369.9,190.7 363.1,187.4 348.8,180.4 339.7,175.9 334.3,173.4 321.6,167.4 319.9,166.6 305.2,160.1 291.9,154.1 290.6,153.5 275.9,147.2 272,145.5 261.3,140.8 246.7,134.3 232,127.8" fill="url(#g18)"/>
<polygon points="232.2,127.2 246.9,133.6 261.5,140.1 272.2,144.8 276.2,146.5 290.9,152.8 292.2,153.4 305.5,159.3 320.1,165.9 321.9,166.7 334.6,172.7 339.9,175.2 349,179.6 363.4,186.6 370.2,189.9 377.9,193.5 392.3,200.3 406.8,207.1 412.2,209.6 414.7,210.7 421.3,213.8 435.8,220.6 450.3,227.4 459.5,231.8 464.7,234.5 472.1,238.5 478.8,242 481.6,243.4 493.1,249.2 498.5,251.9 503.4,254.3 507.5,256.3 521.9,263.3 525,264.8 527,265.5 536.5,269.7 544.6,273.2 545.7,273.7 551.3,275.9 562.5,280.4 566.2,281.8 569.5,282.9 579.6,287.8 580.8,288.4 595.2,295.3 594.2,297.9 579.8,290.9 578.6,290.4 568.6,285.5 565.3,284.3 561.6,282.9 550.4,278.3 544.9,276 543.8,275.5 535.7,271.9 526.2,267.7 524.2,266.9 521.1,265.4 506.7,258.4 502.7,256.4 497.7,254 492.4,251.3 480.8,245.5 478.1,244.1 471.4,240.5 464,236.5 458.8,233.7 449.6,229.4 435.1,222.7 420.6,215.9 413.9,212.8 411.4,211.7 406.1,209.1 391.6,202.4 377.1,195.6 369.4,192 362.7,188.6 348.3,181.6 339.2,177.2 333.9,174.7 321.2,168.6 319.4,167.8 304.8,161.3 291.5,155.3 290.2,154.7 275.5,148.4 271.5,146.6 260.9,141.9 246.3,135.4 231.7,128.8" fill="url(#g19)"/>
<polygon points="231.9,128.2 246.5,134.7 261.1,141.2 271.8,146 275.8,147.7 290.5,154 291.7,154.6 305.1,160.6 319.7,167.1 321.4,167.9 334.2,173.9 339.5,176.4 348.6,180.9 363,187.9 369.7,191.2 377.4,194.8 391.9,201.6 406.4,208.4 411.7,210.9 414.2,212 420.9,215.1 435.4,221.9 449.9,228.7 459,233 464.2,235.8 471.7,239.8 478.4,243.3 481.1,244.7 492.7,250.5 498,253.2 503,255.7 507,257.6 521.4,264.6 524.5,266.1 526.5,266.9 536,271.1 544.1,274.6 545.2,275.1 550.8,277.4 561.9,282 565.6,283.3 568.9,284.5 579,289.4 580.2,290 594.6,297 593.6,299.6 579.3,292.6 578.1,292 568,287.1 564.7,285.9 561,284.5 549.9,279.8 544.4,277.4 543.3,276.9 535.3,273.3 525.7,269 523.8,268.2 520.7,266.7 506.3,259.7 502.2,257.8 497.3,255.3 491.9,252.6 480.4,246.8 477.7,245.3 470.9,241.8 463.5,237.8 458.4,235 449.2,230.7 434.7,223.9 420.1,217.2 413.5,214.1 411,213 405.6,210.4 391.1,203.6 376.7,196.8 369,193.2 362.2,189.9 347.8,182.9 338.8,178.4 333.4,175.9 320.7,169.9 319,169.1 304.4,162.5 291,156.5 289.8,155.9 275.1,149.5 271.1,147.8 260.5,143 245.9,136.4 231.3,129.9" fill="url(#g20)"/>
<polygon points="231.5,129.2 246.1,135.8 260.7,142.3 271.4,147.1 275.3,148.8 290,155.2 291.3,155.8 304.6,161.8 319.2,168.3 321,169.1 333.7,175.2 339,177.7 348.1,182.1 362.5,189.2 369.3,192.5 376.9,196.1 391.4,202.9 405.9,209.7 411.3,212.2 413.8,213.3 420.4,216.4 434.9,223.2 449.4,229.9 458.6,234.2 463.8,237 471.2,241 477.9,244.6 480.7,246 492.2,251.8 497.6,254.5 502.5,257 506.5,258.9 520.9,265.9 524,267.4 526,268.2 535.5,272.5 543.6,276.1 544.7,276.6 550.2,278.9 561.4,283.6 565.1,284.9 568.3,286.2 578.4,291 579.6,291.6 594,298.6 593.1,301.2 578.7,294.2 577.5,293.6 567.4,288.7 564.1,287.5 560.5,286.1 549.4,281.3 543.9,278.9 542.7,278.4 534.8,274.7 525.3,270.4 523.3,269.6 520.2,268 505.8,261 501.8,259.1 496.8,256.6 491.5,253.9 480,248.1 477.2,246.6 470.5,243.1 463.1,239 457.9,236.2 448.7,231.9 434.2,225.2 419.7,218.5 413,215.4 410.5,214.2 405.2,211.7 390.7,204.9 376.2,198.1 368.5,194.5 361.8,191.2 347.4,184.1 338.3,179.7 333,177.1 320.3,171.1 318.5,170.3 303.9,163.7 290.6,157.7 289.3,157.1 274.7,150.7 270.7,148.9 260.1,144.1 245.5,137.5 230.9,130.9" fill="url(#g21)"/>
<polygon points="231.1,130.3 245.7,136.9 260.3,143.4 270.9,148.2 274.9,150 289.6,156.4 290.9,156.9 304.2,163 318.8,169.6 320.5,170.4 333.3,176.4 338.6,178.9 347.7,183.4 362,190.4 368.8,193.7 376.5,197.3 391,204.1 405.4,211 410.8,213.5 413.3,214.6 420,217.7 434.5,224.4 449,231.2 458.2,235.5 463.3,238.3 470.8,242.3 477.5,245.8 480.2,247.3 491.8,253.1 497.1,255.8 502,258.3 506.1,260.3 520.5,267.2 523.6,268.8 525.6,269.6 535.1,273.9 543,277.5 544.2,278 549.7,280.4 560.8,285.1 564.5,286.5 567.7,287.8 577.8,292.6 579,293.2 593.4,300.2 592.5,302.8 578.1,295.8 576.9,295.2 566.8,290.3 563.6,289.1 559.9,287.6 548.8,282.8 543.3,280.3 542.2,279.8 534.3,276.1 524.8,271.7 522.8,270.9 519.7,269.4 505.3,262.4 501.3,260.4 496.4,257.9 491,255.2 479.5,249.3 476.8,247.9 470.1,244.3 462.7,240.3 457.5,237.5 448.3,233.2 433.8,226.5 419.2,219.7 412.6,216.7 410.1,215.5 404.7,213 390.2,206.2 375.7,199.4 368.1,195.8 361.3,192.5 346.9,185.4 337.9,180.9 332.5,178.4 319.8,172.3 318.1,171.5 303.5,164.9 290.2,158.8 288.9,158.3 274.3,151.8 270.3,150.1 259.7,145.2 245.1,138.6 230.5,131.9" fill="url(#g22)"/>
<polygon points="230.8,131.3 245.3,137.9 259.9,144.6 270.5,149.4 274.5,151.1 289.2,157.6 290.4,158.1 303.7,164.2 318.3,170.8 320.1,171.6 332.8,177.6 338.1,180.2 347.2,184.6 361.6,191.7 368.3,195 376,198.6 390.5,205.4 405,212.2 410.3,214.8 412.8,215.9 419.5,219 434,225.7 448.6,232.4 457.8,236.7 462.9,239.5 470.3,243.6 477,247.1 479.8,248.6 491.3,254.4 496.6,257.1 501.6,259.6 505.6,261.6 520,268.6 523.1,270.1 525.1,270.9 534.6,275.3 542.5,279 543.6,279.5 549.2,281.9 560.2,286.7 563.9,288.1 567.2,289.4 577.2,294.2 578.4,294.8 592.8,301.9 591.9,304.5 577.5,297.4 576.3,296.8 566.2,291.9 563,290.7 559.3,289.2 548.3,284.3 542.8,281.8 541.7,281.3 533.8,277.5 524.3,273 522.4,272.2 519.3,270.7 504.9,263.7 500.8,261.7 495.9,259.2 490.6,256.5 479.1,250.6 476.3,249.2 469.6,245.6 462.2,241.5 457.1,238.7 447.9,234.4 433.3,227.7 418.8,221 412.1,217.9 409.6,216.8 404.2,214.3 389.8,207.5 375.3,200.7 367.6,197.1 360.8,193.7 346.5,186.6 337.4,182.1 332.1,179.6 319.4,173.6 317.6,172.8 303,166.1 289.7,160 288.5,159.5 273.8,153 269.9,151.2 259.3,146.3 244.7,139.7 230.2,133" fill="url(#g23)"/>
<polygon points="230.4,132.4 244.9,139 259.5,145.7 270.1,150.5 274.1,152.3 288.7,158.8 290,159.3 303.3,165.4 317.9,172 319.6,172.8 332.3,178.9 337.7,181.4 346.7,185.9 361.1,193 367.9,196.3 375.5,199.9 390,206.7 404.5,213.5 409.9,216.1 412.4,217.2 419,220.3 433.6,227 448.1,233.7 457.3,237.9 462.5,240.8 469.9,244.8 476.6,248.4 479.3,249.9 490.8,255.7 496.2,258.4 501.1,260.9 505.2,262.9 519.6,269.9 522.7,271.4 524.6,272.2 534.1,276.7 542,280.4 543.1,280.9 548.6,283.4 559.7,288.3 563.3,289.7 566.6,291 576.7,295.8 577.9,296.4 592.2,303.5 591.3,306.1 576.9,299 575.7,298.4 565.6,293.5 562.4,292.3 558.8,290.8 547.8,285.8 542.3,283.3 541.2,282.7 533.3,278.9 523.9,274.4 521.9,273.5 518.8,272 504.4,265 500.4,263 495.5,260.5 490.1,257.8 478.6,251.9 475.9,250.4 469.2,246.8 461.8,242.8 456.6,239.9 447.4,235.7 432.9,229 418.3,222.3 411.6,219.2 409.1,218.1 403.8,215.6 389.3,208.8 374.8,202 367.1,198.3 360.4,195 346,187.9 337,183.4 331.6,180.8 318.9,174.8 317.2,174 302.6,167.3 289.3,161.2 288,160.7 273.4,154.1 269.4,152.4 258.8,147.5 244.3,140.7 229.8,134" fill="url(#g24)"/>
<polygon points="230,133.4 244.5,140.1 259.1,146.8 269.7,151.7 273.7,153.4 288.3,159.9 289.6,160.5 302.9,166.6 317.4,173.2 319.2,174.1 331.9,180.1 337.2,182.6 346.3,187.1 360.6,194.2 367.4,197.6 375.1,201.2 389.6,208 404.1,214.8 409.4,217.3 411.9,218.5 418.6,221.5 433.1,228.2 447.7,234.9 456.9,239.2 462,242 469.5,246.1 476.1,249.7 478.9,251.1 490.4,257 495.7,259.7 500.7,262.2 504.7,264.2 519.1,271.2 522.2,272.7 524.2,273.6 533.6,278.1 541.5,281.9 542.6,282.4 548.1,284.9 559.1,289.8 562.7,291.3 566,292.6 576.1,297.5 577.3,298.1 591.6,305.1 590.7,307.7 576.3,300.6 575.1,300 565.1,295.2 561.8,293.8 558.2,292.4 547.2,287.2 541.8,284.7 540.7,284.2 532.8,280.3 523.4,275.7 521.5,274.9 518.4,273.4 504,266.3 499.9,264.3 495,261.8 489.7,259.1 478.2,253.2 475.4,251.7 468.8,248.1 461.4,244 456.2,241.2 447,236.9 432.4,230.3 417.9,223.6 411.2,220.5 408.7,219.4 403.3,216.9 388.8,210.1 374.3,203.2 366.7,199.6 359.9,196.3 345.6,189.1 336.5,184.6 331.2,182.1 318.5,176 316.7,175.2 302.2,168.5 288.9,162.4 287.6,161.8 273,155.3 269,153.5 258.4,148.6 243.9,141.8 229.4,135.1" fill="url(#g25)"/>
<polygon points="229.6,134.4 244.2,141.2 258.7,147.9 269.3,152.8 273.2,154.6 287.9,161.1 289.1,161.7 302.4,167.8 317,174.5 318.7,175.3 331.4,181.3 336.8,183.9 345.8,188.4 360.2,195.5 366.9,198.9 374.6,202.5 389.1,209.3 403.6,216.1 408.9,218.6 411.4,219.8 418.1,222.8 432.7,229.5 447.2,236.2 456.5,240.4 461.6,243.3 469,247.3 475.7,251 478.4,252.4 489.9,258.3 495.3,261 500.2,263.6 504.2,265.5 518.6,272.6 521.7,274.1 523.7,274.9 533.1,279.5 541,283.3 542.1,283.8 547.6,286.3 558.5,291.4 562.2,292.9 565.4,294.2 575.5,299.1 576.7,299.7 591,306.8 590.1,309.4 575.7,302.3 574.5,301.7 564.5,296.8 561.2,295.4 557.6,293.9 546.7,288.7 541.3,286.2 540.2,285.6 532.3,281.7 522.9,277.1 521,276.2 517.9,274.7 503.5,267.6 499.5,265.7 494.5,263.1 489.2,260.4 477.7,254.5 475,253 468.3,249.4 460.9,245.3 455.8,242.4 446.5,238.2 432,231.5 417.4,224.9 410.7,221.8 408.2,220.7 402.8,218.2 388.4,211.3 373.9,204.5 366.2,200.9 359.5,197.5 345.1,190.4 336.1,185.9 330.7,183.3 318,177.3 316.3,176.4 301.7,169.7 288.4,163.6 287.2,163 272.6,156.4 268.6,154.7 258,149.7 243.5,142.9 229,136.1" fill="url(#g26)"/>
<polygon points="229.2,135.5 243.8,142.3 258.3,149 268.9,154 272.8,155.7 287.4,162.3 288.7,162.9 302,169 316.5,175.7 318.3,176.5 331,182.6 336.3,185.1 345.4,189.6 359.7,196.8 366.5,200.1 374.1,203.7 388.6,210.6 403.1,217.4 408.5,219.9 411,221 417.7,224.1 432.2,230.8 446.8,237.4 456,241.7 461.2,244.5 468.6,248.6 475.3,252.2 478,253.7 489.5,259.6 494.8,262.3 499.7,264.9 503.8,266.9 518.2,273.9 521.3,275.4 523.2,276.3 532.6,280.9 540.5,284.7 541.6,285.3 547,287.8 558,293 561.6,294.5 564.8,295.8 574.9,300.7 576.1,301.3 590.5,308.4 589.5,311 575.2,303.9 574,303.3 563.9,298.4 560.7,297 557.1,295.5 546.2,290.2 540.8,287.6 539.7,287.1 531.8,283.1 522.5,278.4 520.5,277.5 517.4,276 503,269 499,267 494.1,264.4 488.8,261.7 477.3,255.8 474.5,254.3 467.9,250.6 460.5,246.5 455.3,243.6 446.1,239.4 431.5,232.8 416.9,226.2 410.2,223.1 407.7,222 402.4,219.5 387.9,212.6 373.4,205.8 365.7,202.2 359,198.8 344.7,191.6 335.6,187.1 330.3,184.6 317.6,178.5 315.8,177.7 301.3,170.9 288,164.8 286.7,164.2 272.1,157.6 268.2,155.8 257.6,150.8 243.1,144 228.7,137.1" fill="url(#g27)"/>
<polygon points="228.9,136.5 243.4,143.3 257.9,150.1 268.4,155.1 272.4,156.9 287,163.5 288.3,164.1 301.5,170.2 316.1,176.9 317.8,177.8 330.5,183.8 335.9,186.4 344.9,190.9 359.3,198 366,201.4 373.7,205 388.2,211.9 402.7,218.7 408,221.2 410.5,222.3 417.2,225.4 431.8,232 446.4,238.7 455.6,242.9 460.7,245.8 468.1,249.9 474.8,253.5 477.5,255 489,260.9 494.4,263.7 499.3,266.2 503.3,268.2 517.7,275.2 520.8,276.7 522.8,277.6 532.1,282.3 540,286.2 541.1,286.7 546.5,289.3 557.4,294.6 561,296.1 564.2,297.4 574.3,302.3 575.5,302.9 589.9,310 588.9,312.6 574.6,305.5 573.4,304.9 563.3,300 560.1,298.6 556.5,297.1 545.6,291.7 540.2,289.1 539.1,288.5 531.3,284.5 522,279.7 520.1,278.9 517,277.3 502.6,270.3 498.5,268.3 493.6,265.7 488.3,263 476.8,257.1 474.1,255.6 467.4,251.9 460,247.8 454.9,244.9 445.7,240.7 431.1,234.1 416.5,227.4 409.8,224.4 407.3,223.3 401.9,220.8 387.4,213.9 372.9,207.1 365.3,203.4 358.5,200.1 344.2,192.9 335.2,188.4 329.8,185.8 317.1,179.7 315.4,178.9 300.8,172.1 287.6,166 286.3,165.4 271.7,158.7 267.8,156.9 257.2,151.9 242.7,145.1 228.3,138.2" fill="url(#g28)"/>
<polygon points="228.5,137.6 243,144.4 257.5,151.3 268,156.3 272,158.1 286.6,164.7 287.8,165.3 301.1,171.4 315.6,178.2 317.4,179 330.1,185.1 335.4,187.6 344.5,192.1 358.8,199.3 365.6,202.7 373.2,206.3 387.7,213.1 402.2,220 407.6,222.5 410.1,223.6 416.8,226.7 431.3,233.3 445.9,239.9 455.2,244.1 460.3,247 467.7,251.1 474.4,254.8 477.1,256.3 488.6,262.2 493.9,265 498.8,267.5 502.9,269.5 517.2,276.6 520.3,278.1 522.3,278.9 531.6,283.7 539.5,287.6 540.5,288.2 545.9,290.8 556.8,296.1 560.4,297.7 563.7,299 573.7,303.9 574.9,304.5 589.3,311.6 588.3,314.2 574,307.1 572.8,306.5 562.7,301.6 559.5,300.2 555.9,298.6 545.1,293.2 539.7,290.5 538.6,290 530.8,285.9 521.5,281.1 519.6,280.2 516.5,278.7 502.1,271.6 498.1,269.6 493.2,267.1 487.8,264.3 476.4,258.3 473.6,256.8 467,253.1 459.6,249 454.5,246.1 445.2,241.9 430.6,235.3 416,228.7 409.3,225.7 406.8,224.6 401.5,222 387,215.2 372.5,208.3 364.8,204.7 358.1,201.3 343.7,194.1 334.7,189.6 329.4,187 316.7,181 314.9,180.1 300.4,173.4 287.1,167.2 285.9,166.6 271.3,159.9 267.4,158.1 256.8,153 242.4,146.1 227.9,139.2" fill="url(#g29)"/>
<polygon points="228.1,138.6 242.6,145.5 257.1,152.4 267.6,157.4 271.6,159.2 286.1,165.9 287.4,166.4 300.7,172.6 315.2,179.4 316.9,180.2 329.6,186.3 335,188.8 344,193.4 358.3,200.6 365.1,204 372.8,207.6 387.2,214.4 401.7,221.3 407.1,223.8 409.6,224.9 416.3,227.9 430.9,234.6 445.5,241.2 454.7,245.4 459.9,248.3 467.3,252.4 473.9,256.1 476.6,257.6 488.1,263.5 493.4,266.3 498.4,268.8 502.4,270.8 516.8,277.9 519.9,279.4 521.8,280.3 531.1,285.1 538.9,289.1 540,289.6 545.4,292.3 556.3,297.7 559.9,299.3 563.1,300.6 573.1,305.5 574.3,306.1 588.7,313.3 587.7,315.9 573.4,308.7 572.2,308.1 562.1,303.2 558.9,301.8 555.3,300.2 544.6,294.7 539.2,292 538.1,291.4 530.3,287.3 521.1,282.4 519.1,281.5 516,280 501.7,272.9 497.6,270.9 492.7,268.4 487.4,265.6 475.9,259.6 473.2,258.1 466.6,254.4 459.2,250.3 454,247.4 444.8,243.2 430.2,236.6 415.6,230 408.9,227 406.4,225.9 401,223.3 386.5,216.5 372,209.6 364.4,206 357.6,202.6 343.3,195.4 334.2,190.8 328.9,188.3 316.2,182.2 314.5,181.4 299.9,174.6 286.7,168.3 285.4,167.8 270.9,161.1 266.9,159.2 256.4,154.2 242,147.2 227.5,140.2" fill="url(#g30)"/>
<polygon points="227.8,139.6 242.2,146.6 256.6,153.5 267.2,158.5 271.1,160.4 285.7,167.1 287,167.6 300.2,173.8 314.7,180.6 316.5,181.4 329.2,187.5 334.5,190.1 343.6,194.6 357.9,201.8 364.6,205.2 372.3,208.9 386.8,215.7 401.3,222.6 406.6,225.1 409.1,226.2 415.8,229.2 430.4,235.8 445.1,242.4 454.3,246.6 459.4,249.5 466.8,253.7 473.5,257.3 476.2,258.9 487.7,264.8 493,267.6 497.9,270.1 501.9,272.1 516.3,279.2 519.4,280.7 521.4,281.6 530.6,286.5 538.4,290.5 539.5,291.1 544.9,293.8 555.7,299.3 559.3,300.8 562.5,302.2 572.6,307.2 573.8,307.7 588.1,314.9 587.2,317.5 572.8,310.3 571.6,309.7 561.5,304.8 558.4,303.4 554.8,301.8 544,296.2 538.7,293.4 537.6,292.8 529.8,288.7 520.6,283.8 518.7,282.9 515.6,281.3 501.2,274.2 497.2,272.2 492.3,269.7 486.9,266.9 475.5,260.9 472.8,259.4 466.1,255.7 458.7,251.5 453.6,248.6 444.4,244.4 429.7,237.9 415.1,231.3 408.4,228.3 405.9,227.2 400.5,224.6 386,217.8 371.6,210.9 363.9,207.3 357.1,203.9 342.8,196.6 333.8,192.1 328.5,189.5 315.8,183.4 314,182.6 299.5,175.8 286.3,169.5 285,168.9 270.5,162.2 266.5,160.4 256,155.3 241.6,148.3 227.2,141.3" fill="url(#g31)"/>
<polygon points="227.4,140.7 241.8,147.6 256.2,154.6 266.8,159.7 270.7,161.5 285.3,168.2 286.5,168.8 299.8,175 314.3,181.9 316,182.7 328.7,188.8 334.1,191.3 343.1,195.9 357.4,203.1 364.2,206.5 371.8,210.1 386.3,217 400.8,223.8 406.2,226.4 408.7,227.5 415.4,230.5 430,237.1 444.6,243.7 453.9,247.9 459,250.8 466.4,254.9 473,258.6 475.7,260.1 487.2,266.1 492.5,268.9 497.4,271.5 501.5,273.4 515.9,280.5 519,282.1 520.9,282.9 530.1,287.9 537.9,292 539,292.6 544.3,295.3 555.1,300.9 558.7,302.4 561.9,303.8 572,308.8 573.2,309.4 587.5,316.5 586.6,319.1 572.2,311.9 571,311.4 561,306.4 557.8,305 554.2,303.4 543.5,297.7 538.2,294.9 537.1,294.3 529.4,290.1 520.1,285.1 518.2,284.2 515.1,282.7 500.7,275.6 496.7,273.6 491.8,271 486.5,268.2 475,262.2 472.3,260.7 465.7,256.9 458.3,252.7 453.2,249.8 443.9,245.7 429.3,239.1 414.7,232.6 407.9,229.6 405.4,228.4 400.1,225.9 385.6,219 371.1,212.2 363.4,208.6 356.7,205.1 342.4,197.9 333.3,193.3 328,190.8 315.3,184.6 313.6,183.8 299.1,177 285.8,170.7 284.6,170.1 270,163.4 266.1,161.5 255.6,156.4 241.2,149.4 226.8,142.3" fill="url(#g32)"/>
<polygon points="227,141.7 241.4,148.7 255.8,155.7 266.3,160.8 270.3,162.7 284.8,169.4 286.1,170 299.3,176.2 313.8,183.1 315.6,183.9 328.3,190 333.6,192.6 342.7,197.1 357,204.4 363.7,207.8 371.4,211.4 385.9,218.3 400.3,225.1 405.7,227.7 408.2,228.8 414.9,231.8 429.6,238.4 444.2,244.9 453.4,249.1 458.6,252 465.9,256.2 472.6,259.9 475.3,261.4 486.8,267.4 492.1,270.2 497,272.8 501,274.8 515.4,281.9 518.5,283.4 520.4,284.3 529.6,289.2 537.4,293.4 538.5,294 543.8,296.8 554.5,302.4 558.1,304 561.3,305.4 571.4,310.4 572.6,311 586.9,318.2 586,320.8 571.6,313.6 570.4,313 560.4,308 557.2,306.6 553.6,304.9 543,299.2 537.7,296.3 536.6,295.7 528.9,291.5 519.7,286.4 517.8,285.5 514.7,284 500.3,276.9 496.2,274.9 491.3,272.3 486,269.5 474.6,263.5 471.9,261.9 465.2,258.2 457.9,254 452.8,251.1 443.5,246.9 428.8,240.4 414.2,233.8 407.5,230.8 405,229.7 399.6,227.2 385.1,220.3 370.6,213.5 363,209.8 356.2,206.4 341.9,199.1 332.9,194.6 327.6,192 314.9,185.9 313.1,185 298.6,178.2 285.4,171.9 284.1,171.3 269.6,164.5 265.7,162.7 255.2,157.5 240.8,150.4 226.4,143.4" fill="url(#g33)"/>
<polygon points="226.6,142.7 241,149.8 255.4,156.8 265.9,162 269.9,163.8 284.4,170.6 285.6,171.2 298.9,177.5 313.4,184.3 315.1,185.1 327.8,191.2 333.2,193.8 342.2,198.4 356.5,205.6 363.2,209.1 370.9,212.7 385.4,219.6 399.9,226.4 405.2,229 407.8,230.1 414.5,233.1 429.1,239.6 443.7,246.2 453,250.3 458.1,253.2 465.5,257.4 472.1,261.2 474.8,262.7 486.3,268.7 491.6,271.5 496.5,274.1 500.6,276.1 514.9,283.2 518,284.7 520,285.6 529.2,290.6 536.9,294.9 538,295.5 543.3,298.3 554,304 557.6,305.6 560.7,307 570.8,312 572,312.6 586.3,319.8 585.4,322.4 571.1,315.2 569.9,314.6 559.8,309.6 556.6,308.2 553.1,306.5 542.4,300.7 537.1,297.8 536.1,297.2 528.4,292.9 519.2,287.8 517.3,286.9 514.2,285.3 499.8,278.2 495.8,276.2 490.9,273.6 485.6,270.8 474.1,264.8 471.4,263.2 464.8,259.5 457.4,255.2 452.3,252.3 443,248.2 428.4,241.7 413.7,235.1 407,232.1 404.5,231 399.1,228.5 384.7,221.6 370.2,214.7 362.5,211.1 355.8,207.7 341.5,200.4 332.4,195.8 327.1,193.2 314.4,187.1 312.7,186.3 298.2,179.4 285,173.1 283.7,172.5 269.2,165.7 265.3,163.8 254.8,158.6 240.4,151.5 226,144.4" fill="url(#g34)"/>
<polygon points="226.2,143.8 240.6,150.9 255,158 265.5,163.1 269.4,165 284,171.8 285.2,172.4 298.4,178.7 312.9,185.5 314.7,186.4 327.4,192.5 332.7,195.1 341.7,199.6 356,206.9 362.8,210.3 370.4,214 384.9,220.8 399.4,227.7 404.8,230.3 407.3,231.4 414,234.4 428.7,240.9 443.3,247.4 452.6,251.6 457.7,254.5 465.1,258.7 471.7,262.5 474.4,264 485.9,270 491.2,272.8 496.1,275.4 500.1,277.4 514.5,284.5 517.6,286.1 519.5,287 528.7,292 536.4,296.3 537.5,296.9 542.7,299.8 553.4,305.6 557,307.2 560.1,308.7 570.2,313.6 571.4,314.2 585.7,321.4 584.8,324 570.5,316.8 569.3,316.2 559.2,311.2 556.1,309.8 552.5,308.1 541.9,302.2 536.6,299.2 535.6,298.6 527.9,294.3 518.8,289.1 516.8,288.2 513.7,286.7 499.4,279.5 495.3,277.5 490.4,274.9 485.1,272.1 473.7,266 471,264.5 464.4,260.7 457,256.5 451.9,253.6 442.6,249.4 427.9,242.9 413.3,236.4 406.5,233.4 404,232.3 398.7,229.8 384.2,222.9 369.7,216 362,212.4 355.3,208.9 341,201.6 332,197 326.7,194.5 314,188.3 312.2,187.5 297.7,180.6 284.5,174.3 283.3,173.7 268.8,166.8 264.8,165 254.4,159.7 240,152.6 225.7,145.4" fill="url(#g35)"/>
<polygon points="225.9,144.8 240.2,151.9 254.6,159.1 265.1,164.3 269,166.1 283.5,173 284.8,173.6 298,179.9 312.5,186.8 314.2,187.6 326.9,193.7 332.3,196.3 341.3,200.9 355.6,208.2 362.3,211.6 370,215.3 384.5,222.1 399,229 404.3,231.5 406.8,232.7 413.6,235.6 428.2,242.2 442.9,248.7 452.2,252.8 457.3,255.7 464.6,260 471.2,263.7 473.9,265.3 485.4,271.3 490.7,274.1 495.6,276.7 499.6,278.7 514,285.9 517.1,287.4 519,288.3 528.2,293.4 535.9,297.8 536.9,298.4 542.2,301.3 552.8,307.1 556.4,308.8 559.6,310.3 569.6,315.2 570.8,315.8 585.2,323.1 584.2,325.7 569.9,318.4 568.7,317.8 558.6,312.8 555.5,311.3 551.9,309.7 541.4,303.7 536.1,300.7 535,300.1 527.4,295.7 518.3,290.4 516.4,289.5 513.3,288 498.9,280.8 494.9,278.8 490,276.2 484.7,273.4 473.2,267.3 470.5,265.8 463.9,262 456.6,257.7 451.5,254.8 442.2,250.7 427.5,244.2 412.8,237.7 406.1,234.7 403.6,233.6 398.2,231.1 383.7,224.2 369.2,217.3 361.6,213.7 354.8,210.2 340.6,202.9 331.5,198.3 326.2,195.7 313.5,189.6 311.8,188.7 297.3,181.8 284.1,175.5 282.8,174.9 268.3,168 264.4,166.1 254,160.9 239.6,153.7 225.3,146.5" fill="url(#g36)"/>
<polygon points="225.5,145.8 239.9,153 254.2,160.2 264.7,165.4 268.6,167.3 283.1,174.2 284.3,174.8 297.6,181.1 312,188 313.8,188.8 326.5,195 331.8,197.5 340.8,202.1 355.1,209.5 361.9,212.9 369.5,216.5 384,223.4 398.5,230.3 403.9,232.8 406.4,233.9 413.1,236.9 427.8,243.4 442.4,249.9 451.7,254 456.8,257 464.2,261.2 470.8,265 473.5,266.6 484.9,272.6 490.2,275.4 495.1,278 499.2,280 513.6,287.2 516.6,288.7 518.6,289.6 527.7,294.8 535.4,299.2 536.4,299.8 541.7,302.8 552.3,308.7 555.8,310.4 559,311.9 569,316.8 570.2,317.4 584.6,324.7 583.6,327.3 569.3,320 568.1,319.4 558,314.4 554.9,312.9 551.4,311.2 540.8,305.2 535.6,302.1 534.5,301.5 526.9,297.1 517.8,291.8 515.9,290.9 512.8,289.3 498.4,282.2 494.4,280.1 489.5,277.5 484.2,274.7 472.8,268.6 470.1,267.1 463.5,263.2 456.1,259 451,256 441.7,251.9 427,245.5 412.4,239 405.6,236 403.1,234.9 397.8,232.4 383.3,225.5 368.8,218.6 361.1,214.9 354.4,211.5 340.1,204.2 331.1,199.5 325.8,196.9 313.1,190.8 311.3,190 296.9,183 283.6,176.7 282.4,176.1 267.9,169.1 264,167.3 253.6,162 239.2,154.7 224.9,147.5" fill="url(#g37)"/>
<polygon points="225.1,146.9 239.5,154.1 253.8,161.3 264.3,166.6 268.2,168.4 282.7,175.3 283.9,175.9 297.1,182.3 311.6,189.2 313.3,190.1 326,196.2 331.4,198.8 340.4,203.4 354.7,210.7 361.4,214.2 369.1,217.8 383.5,224.7 398,231.6 403.4,234.1 405.9,235.2 412.6,238.2 427.3,244.7 442,251.2 451.3,255.3 456.4,258.2 463.7,262.5 470.3,266.3 473,267.8 484.5,273.9 489.8,276.7 494.7,279.4 498.7,281.4 513.1,288.5 516.2,290.1 518.1,291 527.2,296.2 534.8,300.7 535.9,301.3 541.1,304.3 551.7,310.3 555.3,312 558.4,313.5 568.5,318.5 569.7,319.1 584,326.3 583,328.9 568.7,321.6 567.5,321 557.5,316.1 554.3,314.5 550.8,312.8 540.3,306.7 535.1,303.6 534,303 526.4,298.5 517.4,293.1 515.4,292.2 512.3,290.6 498,283.5 493.9,281.5 489.1,278.8 483.8,276 472.3,269.9 469.6,268.3 463,264.5 455.7,260.2 450.6,257.3 441.3,253.2 426.6,246.7 411.9,240.3 405.2,237.3 402.6,236.2 397.3,233.6 382.8,226.8 368.3,219.9 360.6,216.2 353.9,212.8 339.6,205.4 330.6,200.8 325.3,198.2 312.6,192 310.9,191.2 296.4,184.2 283.2,177.8 282,177.2 267.5,170.3 263.6,168.4 253.2,163.1 238.8,155.8 224.5,148.5" fill="url(#g38)"/>
<polygon points="224.8,147.9 239.1,155.2 253.4,162.4 263.8,167.7 267.8,169.6 282.2,176.5 283.5,177.1 296.7,183.5 311.1,190.5 312.9,191.3 325.6,197.4 330.9,200 339.9,204.7 354.2,212 360.9,215.4 368.6,219.1 383.1,226 397.6,232.9 402.9,235.4 405.4,236.5 412.2,239.5 426.9,246 441.6,252.4 450.9,256.5 456,259.5 463.3,263.7 469.9,267.6 472.6,269.1 484,275.2 489.3,278.1 494.2,280.7 498.3,282.7 512.6,289.8 515.7,291.4 517.6,292.3 526.7,297.6 534.3,302.1 535.4,302.7 540.6,305.8 551.1,311.9 554.7,313.6 557.8,315.1 567.9,320.1 569.1,320.7 583.4,327.9 582.4,330.5 568.1,323.3 566.9,322.7 556.9,317.7 553.8,316.1 550.2,314.4 539.8,308.1 534.6,305.1 533.5,304.4 525.9,299.9 516.9,294.5 515,293.5 511.9,292 497.5,284.8 493.5,282.8 488.6,280.2 483.3,277.3 471.9,271.2 469.2,269.6 462.6,265.8 455.3,261.5 450.2,258.5 440.9,254.4 426.2,248 411.5,241.5 404.7,238.6 402.2,237.5 396.8,234.9 382.3,228 367.9,221.1 360.2,217.5 353.5,214 339.2,206.7 330.2,202 324.9,199.4 312.2,193.3 310.4,192.4 296,185.4 282.8,179 281.5,178.4 267.1,171.4 263.2,169.5 252.7,164.2 238.4,156.9 224.2,149.6" fill="url(#g39)"/>
<polygon points="224.4,149 238.7,156.3 253,163.5 263.4,168.9 267.3,170.7 281.8,177.7 283,178.3 296.2,184.7 310.7,191.7 312.4,192.5 325.1,198.7 330.5,201.3 339.5,205.9 353.7,213.3 360.5,216.7 368.1,220.4 382.6,227.3 397.1,234.2 402.5,236.7 405,237.8 411.7,240.8 426.4,247.2 441.1,253.7 450.4,257.8 455.5,260.7 462.9,265 469.5,268.8 472.1,270.4 483.6,276.5 488.9,279.4 493.8,282 497.8,284 512.2,291.2 515.3,292.7 517.2,293.7 526.2,299 533.8,303.6 534.9,304.2 540.1,307.2 550.6,313.4 554.1,315.2 557.2,316.7 567.3,321.7 568.5,322.3 582.8,329.6 582.2,331.2 567.9,323.9 566.7,323.3 556.6,318.3 553.5,316.8 550,315 539.5,308.7 534.4,305.6 533.3,305 525.7,300.4 516.7,295 514.8,294 511.7,292.5 497.3,285.3 493.3,283.3 488.4,280.7 483.1,277.8 471.7,271.7 469,270.1 462.4,266.3 455.1,262 450,259 440.7,254.9 426,248.5 411.3,242.1 404.5,239.1 402,238 396.6,235.4 382.2,228.5 367.7,221.7 360,218 353.3,214.5 339,207.2 330,202.5 324.7,199.9 312,193.8 310.2,192.9 295.8,185.9 282.6,179.5 281.4,178.9 266.9,171.9 263,170 252.6,164.7 238.3,157.3 224,150" fill="url(#g40)"/>
<polygon points="617.6,270.8 619.5,273 623.5,285 616,305 606,326 596,332.5 592.6,333.3 587.6,331.3 612.6,272.8" fill="url(#colAs)"/>
<polygon points="605.8,266 604.5,265.9 603.1,266.3 601.5,267.2 599.8,268.8 597.9,270.8 596,273.3 594.1,276.2 592.2,279.5 590.3,283.1 588.4,287 586.7,291.1 585.1,295.4 583.6,299.6 582.3,303.9 581.2,308.1 580.4,312.1 579.7,315.9 579.3,319.4 579.2,322.5 579.3,325.2 579.7,327.5 580.3,329.3 581.1,330.5 582.2,331.2 592.6,333.3 593.1,333.2 593.7,332.5 594.6,331.3 595.7,329.7 596.9,327.5 598.2,324.9 599.7,322 601.3,318.6 602.9,315 604.6,311.2 606.2,307.2 607.9,303.2 609.5,299.1 611,295 612.5,291.1 613.8,287.4 614.9,283.9 615.9,280.7 616.7,277.9 617.3,275.5 617.7,273.6 617.9,272.2 617.9,271.2 617.6,270.8" fill="url(#colA)"/>
<polyline points="605.8,266 604.5,265.9 603.1,266.3 601.5,267.2 599.8,268.8 597.9,270.8 596,273.3 594.1,276.2 592.2,279.5 590.3,283.1 588.4,287 586.7,291.1 585.1,295.4 583.6,299.6 582.3,303.9 581.2,308.1 580.4,312.1 579.7,315.9 579.3,319.4 579.2,322.5 579.3,325.2 579.7,327.5 580.3,329.3 581.1,330.5 582.2,331.2" fill="none" stroke="#9a9a9a" stroke-width="0.8" opacity="0.7"/>
<polygon points="517,212.5 534,217 525,241.5 504.2,231.8" fill="#f6f6f6" stroke="#d8d8d8" stroke-width="0.8"/>
<polygon points="534,217 537.8,212.5 529.2,240.2 525,241.5" fill="#c2c2c2"/>
<g transform="translate(526.5 211.6) rotate(-10)"><ellipse rx="9.4" ry="8.4" fill="#f0f0f0" stroke="#bcbcbc" stroke-width="1.2"/><ellipse rx="5.8" ry="5.2" fill="#f2f2f2" stroke="#b5b5b5" stroke-width="0.8"/><ellipse rx="2.8" ry="2.4" fill="#8c8c8c"/></g>
<path d="M239,108.5 L221.5,134 Q219.5,139 221,143 L224,150 L263,170 L296,186.5 L296,170.5 L268,157.5 L222,136 Z" fill="url(#fadeA)"/>
<polygon points="238.5,108 300,131.5 330,144 329.5,146.5 305,137.5 286,131.5 239.5,110.5" fill="url(#fadeA2)"/>
<polygon points="239.5,110.5 286,131.5 268,157.5 222,136" fill="#c8c8c8" stroke="#c8c8c8" stroke-width="1" stroke-linejoin="round"/>
<ellipse cx="252.5" cy="133" rx="17.5" ry="16" fill="#dedede" stroke="#bcbcbc" stroke-width="0.8" transform="rotate(24 252.5 133)"/>
<ellipse cx="252" cy="133.2" rx="9" ry="8" fill="#3c3c3c"/>
<ellipse cx="253" cy="135.5" rx="6.5" ry="4.5" fill="#55605c"/>
<polygon points="411.7,347.5 431.7,349 425.8,368 402,357.5" fill="#ededed" stroke="#d0d0d0" stroke-width="0.8"/>
<g transform="translate(421.7 345.8) rotate(-10)"><ellipse rx="10.5" ry="9" fill="#e6e6e6" stroke="#bcbcbc" stroke-width="1.2"/><ellipse rx="6.5" ry="5.6" fill="#f2f2f2" stroke="#b5b5b5" stroke-width="0.8"/><ellipse rx="3" ry="2.5" fill="#8a9aa8"/></g>
<polygon points="152,300 152,331 158,344 222,373.5 237,372.5 265,355.5 262,350" fill="#adadad" stroke="#adadad" stroke-width="2" stroke-linejoin="round"/>
<polygon points="152,300 152.5,328 160,340.5 222,369.5 236,368.5 263,352 262,350" fill="#d2d2d2" stroke="#d2d2d2" stroke-width="1.5" stroke-linejoin="round"/>
<polygon points="153,300 262,350 263,353 240,350 170,316 154,307" fill="#c2c2c2"/>
<g transform="translate(166 333.5) rotate(20)"><ellipse rx="11.5" ry="10.5" fill="#c4c4c4" stroke="#9e9e9e" stroke-width="1.2"/><ellipse rx="7.1" ry="6.5" fill="#f2f2f2" stroke="#b5b5b5" stroke-width="0.8"/><ellipse rx="4.2" ry="3.6" fill="#858585"/></g>
<g transform="translate(225.8 361) rotate(20)"><ellipse rx="11.5" ry="10.5" fill="#c4c4c4" stroke="#9e9e9e" stroke-width="1.2"/><ellipse rx="7.1" ry="6.5" fill="#f2f2f2" stroke="#b5b5b5" stroke-width="0.8"/><ellipse rx="4.2" ry="3.6" fill="#f4f4f4"/></g>
<polygon points="365,390 391,399 368.5,439 347.5,431.5" fill="#d0d0d0" stroke="#b8b8b8" stroke-width="0.8"/>
<polygon points="386,397 391,399 368.5,439 365,436" fill="#b8b8b8"/>
<g transform="translate(354.2 442.5) rotate(0)"><ellipse rx="12" ry="11" fill="#c8c8c8" stroke="#a0a0a0" stroke-width="1.2"/><ellipse rx="7.4" ry="6.8" fill="#f2f2f2" stroke="#b5b5b5" stroke-width="0.8"/><ellipse rx="3.2" ry="2.7" fill="#70808c"/></g>
<polygon points="441.7,452 466,463 460,475 438,466" fill="#cecece"/>
<g transform="translate(448.3 471) rotate(0)"><ellipse rx="11" ry="10.5" fill="#c8c8c8" stroke="#a0a0a0" stroke-width="1.2"/><ellipse rx="6.8" ry="6.5" fill="#f2f2f2" stroke="#b5b5b5" stroke-width="0.8"/><ellipse rx="3.4" ry="2.9" fill="#fafafa"/></g>
<polygon points="512,419.5 522.1,424.2 524.5,425.3 525,425.5 532.3,428.8 542.4,433.5 552.6,438.1 562.8,442.8 572.9,447.4 577.2,449.4 583.1,452.1 593.2,456.7 600,459.8 603.4,461.4 613.5,466.1 615.5,467.1 623.6,470.9 633.7,475.6 635.4,476.4 643.8,480.4 653.9,485.1 660,488 663.9,490 673.8,495.2 683.8,500.3 693.7,505.5 698,507.7 700,509.8 703.3,511.3 712.9,515.7 713.4,515.9 723.6,520.5 733.8,525.1 738.7,527.3 741.2,528.4 744,529.7 746,530.6 748,530.2 754.5,533.5 764.5,538.5 764,540.1 754,535.1 747.5,531.8 745.5,532.2 743.5,531.3 740.7,530 738.2,528.8 733.3,526.6 723.2,522 713,517.4 712.5,517.2 702.8,512.8 699.5,511.3 697.5,509.2 693.2,507 683.2,501.9 673.3,496.7 663.4,491.6 659.5,489.6 653.3,486.7 643.2,481.9 634.9,478 633.1,477.2 623,472.4 614.9,468.6 612.9,467.7 602.8,462.9 599.4,461.3 592.7,458.2 582.5,453.5 576.7,450.9 572.3,448.9 562.2,444.2 552,439.6 541.9,434.9 531.7,430.2 524.4,426.9 523.9,426.7 521.6,425.6 511.4,420.9" fill="#6c6c6c"/>
<polygon points="511.6,420.4 521.8,425 524.1,426.1 524.6,426.4 531.9,429.7 542.1,434.4 552.2,439 562.4,443.7 572.6,448.3 576.9,450.3 582.7,453 592.9,457.6 599.6,460.7 603,462.3 613.1,467.1 615.1,468 623.2,471.8 633.3,476.6 635.1,477.4 643.4,481.4 653.5,486.1 659.7,489 663.6,491 673.5,496.1 683.4,501.3 693.4,506.4 697.7,508.7 699.7,510.7 703,512.2 712.7,516.6 713.1,516.8 723.3,521.4 733.5,526 738.4,528.3 740.9,529.4 743.7,530.7 745.7,531.6 747.7,531.2 754.2,534.5 764.2,539.5 763.8,541 753.7,536.1 747.2,532.8 745.2,533.2 743.2,532.2 740.4,531 737.9,529.8 733,527.6 722.9,523 712.7,518.3 712.2,518.1 702.5,513.7 699.2,512.2 697.2,510.2 692.9,508 682.9,502.8 673,497.7 663,492.6 659.1,490.6 653,487.7 642.9,482.9 634.5,479 632.8,478.2 622.7,473.4 614.6,469.6 612.5,468.6 602.4,463.8 599.1,462.3 592.3,459.1 582.1,454.5 576.3,451.8 572,449.8 561.8,445.1 551.7,440.4 541.5,435.8 531.4,431.1 524.1,427.7 523.6,427.5 521.2,426.4 511.1,421.8" fill="#747474"/>
<polygon points="511.3,421.2 521.4,425.9 523.8,427 524.3,427.2 531.6,430.6 541.7,435.2 551.9,439.9 562,444.6 572.2,449.2 576.5,451.2 582.4,453.9 592.5,458.6 599.3,461.7 602.6,463.3 612.8,468 614.8,469 622.9,472.8 633,477.6 634.7,478.4 643.1,482.3 653.2,487.1 659.3,490 663.2,492 673.2,497.1 683.1,502.2 693,507.4 697.4,509.6 699.4,511.7 702.7,513.2 712.4,517.5 712.9,517.8 723,522.4 733.2,527 738.1,529.2 740.6,530.4 743.4,531.6 745.4,532.6 747.4,532.2 753.9,535.5 763.9,540.5 763.5,542 753.5,537.1 746.9,533.8 744.9,534.1 742.9,533.2 740.1,532 737.7,530.7 732.8,528.5 722.6,523.9 712.4,519.3 711.9,519.1 702.2,514.7 698.9,513.2 696.9,511.1 692.5,508.9 682.6,503.8 672.6,498.7 662.7,493.6 658.8,491.5 652.6,488.7 642.5,483.9 634.2,480 632.4,479.1 622.3,474.4 614.2,470.5 612.2,469.6 602.1,464.8 598.7,463.2 591.9,460.1 581.8,455.4 576,452.7 571.6,450.7 561.5,446 551.3,441.3 541.2,436.7 531,432 523.7,428.6 523.2,428.4 520.9,427.3 510.7,422.6" fill="#7e7e7e"/>
<polygon points="510.9,422.1 521.1,426.8 523.4,427.9 523.9,428.1 531.2,431.5 541.4,436.1 551.5,440.8 561.7,445.5 571.8,450.2 576.2,452.2 582,454.8 592.2,459.5 598.9,462.6 602.3,464.2 612.4,469 614.4,469.9 622.5,473.8 632.6,478.6 634.4,479.4 642.7,483.3 652.9,488.1 659,491 662.9,493 672.8,498.1 682.8,503.2 692.7,508.3 697.1,510.6 699.1,512.6 702.4,514.1 712.1,518.5 712.6,518.7 722.7,523.3 732.9,527.9 737.8,530.2 740.3,531.4 743.1,532.6 745.1,533.5 747.1,533.2 753.6,536.5 763.6,541.4 763.2,543 753.2,538.1 746.6,534.8 744.6,535.1 742.6,534.2 739.8,533 737.4,531.7 732.5,529.5 722.3,524.9 712.1,520.2 711.6,520 701.9,515.6 698.6,514.1 696.6,512.1 692.2,509.9 682.3,504.8 672.3,499.7 662.4,494.5 658.4,492.5 652.3,489.6 642.2,484.9 633.8,480.9 632.1,480.1 622,475.3 613.9,471.5 611.8,470.5 601.7,465.7 598.4,464.2 591.6,461 581.4,456.3 575.6,453.6 571.3,451.6 561.1,446.9 551,442.2 540.8,437.5 530.7,432.8 523.4,429.5 522.9,429.2 520.5,428.2 510.3,423.5" fill="#8b8b8b"/>
<polygon points="510.5,423 520.7,427.6 523.1,428.7 523.6,429 530.9,432.3 541,437 551.2,441.7 561.3,446.4 571.5,451.1 575.8,453.1 581.6,455.8 591.8,460.5 598.6,463.6 601.9,465.2 612.1,470 614.1,470.9 622.2,474.7 632.3,479.5 634,480.4 642.4,484.3 652.5,489.1 658.6,491.9 662.6,494 672.5,499.1 682.5,504.2 692.4,509.3 696.8,511.5 698.8,513.5 702.1,515 711.8,519.4 712.3,519.7 722.5,524.3 732.6,528.9 737.5,531.1 740,532.4 742.8,533.6 744.8,534.5 746.8,534.2 753.3,537.5 763.4,542.4 762.9,544 752.9,539 746.3,535.8 744.3,536.1 742.3,535.2 739.5,533.9 737.1,532.7 732.2,530.4 722,525.8 711.8,521.2 711.3,520.9 701.6,516.5 698.3,515 696.3,513.1 691.9,510.8 682,505.7 672,500.6 662,495.5 658.1,493.5 652,490.6 641.8,485.9 633.5,481.9 631.7,481.1 621.6,476.3 613.5,472.4 611.5,471.5 601.4,466.7 598,465.1 591.2,462 581.1,457.3 575.3,454.6 570.9,452.6 560.8,447.8 550.6,443.1 540.5,438.4 530.3,433.7 523,430.3 522.5,430.1 520.2,429 510,424.4" fill="#969696"/>
<polygon points="510.2,423.9 520.4,428.5 522.7,429.6 523.2,429.8 530.5,433.2 540.7,437.9 550.8,442.6 561,447.3 571.1,452 575.5,454 581.3,456.7 591.5,461.4 598.2,464.5 601.6,466.1 611.7,470.9 613.7,471.9 621.8,475.7 631.9,480.5 633.7,481.3 642,485.3 652.2,490 658.3,492.9 662.2,494.9 672.2,500 682.1,505.2 692.1,510.3 696.5,512.5 698.5,514.5 701.8,516 711.5,520.4 712,520.6 722.2,525.2 732.3,529.9 737.2,532.1 739.7,533.4 742.5,534.6 744.5,535.5 746.5,535.2 753,538.5 763.1,543.4 762.6,544.9 752.6,540 746,536.8 744,537.1 742,536.2 739.2,534.9 736.8,533.6 731.9,531.4 721.7,526.8 711.5,522.1 711,521.9 701.3,517.5 698,516 696,514 691.6,511.8 681.6,506.7 671.7,501.6 661.7,496.5 657.8,494.5 651.6,491.6 641.5,486.8 633.1,482.9 631.4,482.1 621.2,477.3 613.1,473.4 611.1,472.4 601,467.6 597.7,466 590.9,462.9 580.7,458.2 574.9,455.5 570.6,453.5 560.4,448.8 550.3,444 540.1,439.3 530,434.6 522.7,431.2 522.2,431 519.8,429.9 509.6,425.3" fill="#9b9b9b"/>
<polygon points="509.8,424.8 520,429.4 522.4,430.5 522.9,430.7 530.2,434.1 540.3,438.8 550.5,443.5 560.6,448.2 570.8,452.9 575.1,454.9 580.9,457.6 591.1,462.3 597.9,465.5 601.2,467.1 611.3,471.9 613.4,472.8 621.5,476.7 631.6,481.5 633.3,482.3 641.7,486.3 651.8,491 658,493.9 661.9,495.9 671.9,501 681.8,506.1 691.8,511.2 696.1,513.4 698.2,515.4 701.5,516.9 711.2,521.3 711.7,521.5 721.9,526.2 732.1,530.8 737,533.1 739.4,534.3 742.2,535.6 744.2,536.5 746.2,536.2 752.7,539.4 762.8,544.4 762.3,545.9 752.3,541 745.7,537.8 743.8,538.1 741.7,537.2 738.9,535.9 736.5,534.6 731.6,532.3 721.4,527.7 711.2,523.1 710.7,522.8 701,518.4 697.7,516.9 695.7,515 691.3,512.8 681.3,507.7 671.3,502.6 661.3,497.5 657.4,495.5 651.3,492.6 641.1,487.8 632.8,483.9 631,483 620.9,478.2 612.8,474.4 610.8,473.4 600.7,468.6 597.3,467 590.5,463.8 580.4,459.1 574.6,456.4 570.2,454.4 560.1,449.7 549.9,444.9 539.8,440.2 529.6,435.5 522.3,432.1 521.8,431.8 519.4,430.8 509.2,426.1" fill="#a0a0a0"/>
<polygon points="509.5,425.6 519.7,430.2 522,431.3 522.5,431.6 529.8,434.9 540,439.7 550.1,444.4 560.3,449.1 570.4,453.8 574.8,455.9 580.6,458.6 590.7,463.3 597.5,466.4 600.9,468 611,472.8 613,473.8 621.1,477.6 631.2,482.5 633,483.3 641.3,487.2 651.5,492 657.6,494.9 661.6,496.9 671.5,502 681.5,507.1 691.5,512.2 695.8,514.4 697.9,516.4 701.2,517.8 710.9,522.3 711.4,522.5 721.6,527.1 731.8,531.8 736.7,534 739.1,535.3 741.9,536.6 743.9,537.5 745.9,537.2 752.4,540.4 762.5,545.3 762.1,546.9 752,542 745.4,538.8 743.5,539 741.4,538.1 738.6,536.9 736.2,535.5 731.3,533.3 721.1,528.7 710.9,524 710.4,523.8 700.7,519.4 697.4,517.9 695.3,515.9 691,513.7 681,508.6 671,503.6 661,498.5 657.1,496.5 650.9,493.6 640.8,488.8 632.4,484.9 630.7,484 620.5,479.2 612.4,475.3 610.4,474.4 600.3,469.5 597,467.9 590.2,464.8 580,460 574.2,457.3 569.9,455.3 559.7,450.6 549.6,445.8 539.4,441.1 529.3,436.3 522,432.9 521.5,432.7 519.1,431.6 508.9,427" fill="#a5a5a5"/>
<polygon points="509.1,426.5 519.3,431.1 521.7,432.2 522.2,432.4 529.5,435.8 539.6,440.6 549.8,445.3 559.9,450 570.1,454.8 574.4,456.8 580.2,459.5 590.4,464.2 597.2,467.4 600.5,469 610.6,473.8 612.7,474.7 620.8,478.6 630.9,483.4 632.6,484.3 641,488.2 651.1,493 657.3,495.9 661.2,497.9 671.2,503 681.2,508.1 691.2,513.1 695.5,515.4 697.6,517.3 700.9,518.8 710.6,523.2 711.1,523.4 721.3,528.1 731.5,532.7 736.4,535 738.8,536.3 741.6,537.6 743.6,538.5 745.6,538.2 752.1,541.4 762.2,546.3 761.8,547.9 751.7,543 745.1,539.9 743.2,540 741.1,539.1 738.3,537.9 735.9,536.5 731,534.3 720.8,529.6 710.6,524.9 710.1,524.7 700.4,520.3 697.1,518.8 695,516.9 690.7,514.7 680.7,509.6 670.7,504.5 660.7,499.4 656.7,497.4 650.6,494.6 640.4,489.8 632.1,485.8 630.3,485 620.2,480.2 612.1,476.3 610.1,475.3 600,470.5 596.6,468.9 589.8,465.7 579.7,461 573.9,458.3 569.5,456.2 559.4,451.5 549.2,446.7 539.1,442 528.9,437.2 521.6,433.8 521.1,433.6 518.7,432.5 508.5,427.9" fill="#c9c9c9"/>
<polygon points="508.7,427.4 518.9,432 521.3,433 521.8,433.3 529.1,436.7 539.3,441.4 549.4,446.2 559.6,450.9 569.7,455.7 574.1,457.7 579.9,460.4 590,465.2 596.8,468.3 600.2,469.9 610.3,474.7 612.3,475.7 620.4,479.6 630.5,484.4 632.3,485.3 640.7,489.2 650.8,494 656.9,496.9 660.9,498.9 670.9,503.9 680.9,509 690.9,514.1 695.2,516.3 697.3,518.2 700.6,519.7 710.3,524.2 710.8,524.4 721,529 731.2,533.7 736.1,535.9 738.5,537.3 741.3,538.5 743.3,539.4 745.2,539.2 751.8,542.4 761.9,547.3 761.5,548.9 751.4,544 744.8,540.9 742.9,541 740.8,540.1 738,538.9 735.6,537.5 730.7,535.2 720.5,530.6 710.3,525.9 709.8,525.7 700.1,521.2 696.8,519.7 694.7,517.9 690.4,515.6 680.4,510.6 670.3,505.5 660.3,500.4 656.4,498.4 650.2,495.5 640.1,490.8 631.7,486.8 630,486 619.8,481.1 611.7,477.2 609.7,476.3 599.6,471.4 596.3,469.8 589.5,466.7 579.3,461.9 573.5,459.2 569.2,457.1 559,452.4 548.9,447.6 538.7,442.8 528.6,438.1 521.3,434.7 520.8,434.4 518.4,433.4 508.1,428.8" fill="#d6d6d6"/>
<polygon points="508.4,428.2 518.6,432.8 521,433.9 521.5,434.1 528.8,437.6 538.9,442.3 549.1,447.1 559.2,451.8 569.4,456.6 573.7,458.6 579.5,461.3 589.7,466.1 596.5,469.3 599.8,470.9 609.9,475.7 612,476.7 620.1,480.5 630.2,485.4 631.9,486.2 640.3,490.2 650.5,494.9 656.6,497.8 660.5,499.8 670.5,504.9 680.5,510 690.5,515.1 694.9,517.3 697,519.2 700.3,520.7 710,525.1 710.5,525.3 720.7,530 730.9,534.6 735.8,536.9 738.2,538.3 741,539.5 743,540.4 744.9,540.3 751.5,543.4 761.7,548.3 761.2,549.8 751.1,545 744.5,541.9 742.6,542 740.5,541.1 737.7,539.9 735.3,538.4 730.4,536.2 720.2,531.5 710,526.8 709.5,526.6 699.8,522.2 696.5,520.7 694.4,518.8 690,516.6 680,511.5 670,506.5 660,501.4 656.1,499.4 649.9,496.5 639.8,491.7 631.3,487.8 629.6,487 619.5,482.1 611.4,478.2 609.4,477.2 599.3,472.4 595.9,470.8 589.1,467.6 579,462.8 573.1,460.1 568.8,458.1 558.7,453.3 548.5,448.5 538.4,443.7 528.2,439 520.9,435.5 520.4,435.3 518,434.2 507.8,429.6" fill="#d9d9d9"/>
<polygon points="508,429.1 518.2,433.7 520.6,434.8 521.1,435 528.4,438.4 538.6,443.2 548.7,448 558.9,452.7 569,457.5 573.4,459.5 579.2,462.3 589.3,467 596.1,470.2 599.5,471.8 609.6,476.7 611.6,477.6 619.7,481.5 629.8,486.4 631.6,487.2 640,491.2 650.1,495.9 656.3,498.8 660.2,500.8 670.2,505.9 680.2,511 690.2,516 694.6,518.2 696.7,520.1 700,521.6 709.7,526 710.2,526.3 720.4,530.9 730.6,535.6 735.5,537.8 737.9,539.3 740.7,540.5 742.7,541.4 744.6,541.3 751.3,544.4 761.4,549.2 760.9,550.8 750.8,546 744.1,542.9 742.3,543 740.2,542.1 737.4,540.8 735.1,539.4 730.1,537.1 719.9,532.5 709.7,527.8 709.2,527.6 699.5,523.1 696.3,521.6 694.1,519.8 689.7,517.6 679.7,512.5 669.7,507.4 659.7,502.4 655.7,500.4 649.6,497.5 639.4,492.7 631,488.8 629.3,487.9 619.1,483.1 611,479.2 609,478.2 598.9,473.3 595.5,471.7 588.8,468.5 578.6,463.8 572.8,461 568.5,459 558.3,454.2 548.2,449.4 538,444.6 527.8,439.8 520.6,436.4 520.1,436.2 517.7,435.1 507.4,430.5" fill="#dadada"/>
<polygon points="507.6,430 517.9,434.6 520.3,435.6 520.8,435.9 528.1,439.3 538.2,444.1 548.4,448.9 558.5,453.6 568.7,458.4 573,460.5 578.8,463.2 589,468 595.8,471.2 599.1,472.8 609.2,477.6 611.2,478.6 619.4,482.5 629.5,487.3 631.2,488.2 639.6,492.1 649.8,496.9 655.9,499.8 659.9,501.8 669.9,506.9 679.9,511.9 689.9,517 694.3,519.2 696.4,521 699.7,522.5 709.4,527 709.9,527.2 720.1,531.9 730.3,536.6 735.2,538.8 737.6,540.3 740.4,541.5 742.5,542.4 744.3,542.3 751,545.4 761.1,550.2 760.6,551.8 750.5,547 743.8,543.9 742,544 739.9,543.1 737.1,541.8 734.8,540.3 729.9,538.1 719.6,533.4 709.4,528.7 708.9,528.5 699.2,524 696,522.5 693.8,520.7 689.4,518.5 679.4,513.5 669.4,508.4 659.3,503.4 655.4,501.4 649.2,498.5 639.1,493.7 630.6,489.8 628.9,488.9 618.8,484 610.7,480.1 608.7,479.2 598.6,474.3 595.2,472.7 588.4,469.5 578.3,464.7 572.4,461.9 568.1,459.9 558,455.1 547.8,450.3 537.6,445.5 527.5,440.7 520.2,437.3 519.7,437 517.3,436 507.1,431.4" fill="#c1c1c1"/>
<polygon points="507.3,430.9 517.5,435.4 519.9,436.5 520.4,436.7 527.7,440.2 537.9,445 548,449.8 558.2,454.6 568.3,459.3 572.7,461.4 578.5,464.1 588.6,468.9 595.4,472.1 598.8,473.7 608.9,478.6 610.9,479.5 619,483.5 629.1,488.3 630.9,489.2 639.3,493.1 649.4,497.9 655.6,500.8 659.5,502.8 669.6,507.8 679.6,512.9 689.6,517.9 694,520.2 696.1,522 699.4,523.5 709.1,527.9 709.6,528.2 719.8,532.8 730,537.5 734.9,539.8 737.3,541.2 740.1,542.5 742.2,543.4 744,543.3 750.7,546.4 760.8,551.2 760.4,552.8 750.2,548 743.5,544.9 741.7,544.9 739.6,544 736.8,542.8 734.5,541.3 729.6,539 719.4,534.4 709.1,529.7 708.7,529.4 698.9,525 695.7,523.5 693.5,521.7 689.1,519.5 679.1,514.4 669,509.4 659,504.4 655,502.4 648.9,499.5 638.7,494.7 630.3,490.7 628.6,489.9 618.4,485 610.3,481.1 608.3,480.1 598.2,475.2 594.8,473.6 588.1,470.4 577.9,465.6 572.1,462.9 567.7,460.8 557.6,456 547.4,451.2 537.3,446.4 527.1,441.6 519.9,438.1 519.4,437.9 517,436.8 506.7,432.3" fill="#b8b8b8"/>
<polygon points="506.9,431.8 517.2,436.3 519.6,437.4 520.1,437.6 527.4,441.1 537.5,445.9 547.7,450.7 557.8,455.5 568,460.3 572.3,462.3 578.1,465.1 588.3,469.9 595.1,473.1 598.4,474.7 608.5,479.5 610.5,480.5 618.7,484.4 628.8,489.3 630.5,490.1 638.9,494.1 649.1,498.9 655.2,501.8 659.2,503.8 669.2,508.8 679.3,513.9 689.3,518.9 693.7,521.1 695.8,522.9 699.1,524.4 708.8,528.9 709.3,529.1 719.5,533.8 729.7,538.5 734.7,540.7 737,542.2 739.8,543.5 741.9,544.4 743.7,544.3 750.4,547.4 760.5,552.2 760.1,553.7 749.9,549 743.2,545.9 741.4,545.9 739.3,545 736.5,543.8 734.2,542.3 729.3,540 719.1,535.3 708.9,530.6 708.4,530.4 698.6,525.9 695.4,524.4 693.2,522.6 688.8,520.4 678.8,515.4 668.7,510.4 658.7,505.3 654.7,503.3 648.5,500.5 638.4,495.7 629.9,491.7 628.2,490.9 618.1,486 610,482 608,481.1 597.8,476.2 594.5,474.6 587.7,471.4 577.5,466.5 571.7,463.8 567.4,461.7 557.2,456.9 547.1,452.1 536.9,447.3 526.8,442.5 519.5,439 519,438.8 516.6,437.7 506.3,433.1" fill="#b6b6b6"/>
<polygon points="506.5,432.6 516.8,437.2 519.2,438.2 519.7,438.5 527,441.9 537.2,446.7 547.3,451.6 557.5,456.4 567.6,461.2 571.9,463.2 577.8,466 587.9,470.8 594.7,474 598.1,475.6 608.2,480.5 610.2,481.5 618.3,485.4 628.4,490.3 630.2,491.1 638.6,495.1 648.7,499.9 654.9,502.8 658.9,504.7 668.9,509.8 678.9,514.8 689,519.9 693.4,522.1 695.5,523.9 698.8,525.4 708.5,529.8 709,530 719.2,534.7 729.5,539.4 734.4,541.7 736.7,543.2 739.5,544.4 741.6,545.3 743.4,545.3 750.1,548.4 760.2,553.2 759.8,554.7 749.6,550 742.9,546.9 741.1,546.9 739,546 736.2,544.8 733.9,543.2 729,541 718.8,536.3 708.6,531.6 708.1,531.3 698.3,526.9 695.1,525.4 692.9,523.6 688.5,521.4 678.4,516.4 668.4,511.3 658.3,506.3 654.3,504.3 648.2,501.4 638,496.6 629.6,492.7 627.9,491.8 617.7,486.9 609.6,483 607.6,482 597.5,477.1 594.1,475.5 587.4,472.3 577.2,467.5 571.4,464.7 567,462.6 556.9,457.8 546.7,453 536.6,448.2 526.4,443.3 519.2,439.9 518.7,439.6 516.3,438.6 506,434" fill="#b7b7b7"/>
<polygon points="506.2,433.5 516.5,438 518.9,439.1 519.4,439.3 526.6,442.8 536.8,447.6 547,452.4 557.1,457.3 567.3,462.1 571.6,464.2 577.4,466.9 587.6,471.7 594.3,475 597.7,476.6 607.8,481.5 609.8,482.4 617.9,486.4 628.1,491.3 629.8,492.1 638.2,496.1 648.4,500.8 654.6,503.7 658.5,505.7 668.6,510.8 678.6,515.8 688.7,520.8 693.1,523 695.2,524.8 698.5,526.3 708.2,530.8 708.7,531 718.9,535.7 729.2,540.4 734.1,542.6 736.4,544.2 739.2,545.4 741.3,546.3 743.1,546.3 749.8,549.4 760,554.1 759.5,555.7 749.3,551 742.6,547.9 740.8,547.9 738.7,547 735.9,545.8 733.6,544.2 728.7,541.9 718.5,537.2 708.3,532.5 707.8,532.3 698,527.8 694.8,526.3 692.6,524.6 688.2,522.4 678.1,517.3 668,512.3 658,507.3 654,505.3 647.8,502.4 637.7,497.6 629.2,493.7 627.5,492.8 617.4,487.9 609.3,484 607.3,483 597.1,478.1 593.8,476.5 587,473.2 576.8,468.4 571,465.6 566.7,463.6 556.5,458.7 546.4,453.9 536.2,449 526.1,444.2 518.8,440.7 518.3,440.5 515.9,439.4 505.6,434.9" fill="#d7d7d7"/>
<polygon points="505.8,434.4 516.1,438.9 518.5,440 519,440.2 526.3,443.7 536.4,448.5 546.6,453.3 556.8,458.2 566.9,463 571.2,465.1 577.1,467.8 587.2,472.7 594,475.9 597.4,477.5 607.5,482.4 609.5,483.4 617.6,487.3 627.7,492.2 629.5,493.1 637.9,497 648.1,501.8 654.2,504.7 658.2,506.7 668.2,511.7 678.3,516.8 688.4,521.8 692.8,524 694.9,525.7 698.2,527.2 707.9,531.7 708.4,531.9 718.7,536.6 728.9,541.3 733.8,543.6 736.1,545.2 738.9,546.4 741,547.3 742.8,547.3 749.5,550.4 759.7,555.1 759.2,556.7 749,552 742.3,548.9 740.5,548.9 738.4,548 735.6,546.8 733.3,545.1 728.4,542.9 718.2,538.2 708,533.4 707.5,533.2 697.8,528.7 694.5,527.2 692.3,525.5 687.9,523.3 677.8,518.3 667.7,513.3 657.6,508.3 653.7,506.3 647.5,503.4 637.3,498.6 628.9,494.6 627.2,493.8 617,488.9 608.9,484.9 606.9,483.9 596.8,479 593.4,477.4 586.6,474.2 576.5,469.3 570.7,466.6 566.3,464.5 556.2,459.6 546,454.8 535.9,449.9 525.7,445.1 518.4,441.6 517.9,441.3 515.5,440.3 505.2,435.8" fill="#ededed"/>
<polygon points="505.5,435.2 515.8,439.8 518.2,440.8 518.7,441.1 525.9,444.5 536.1,449.4 546.2,454.2 556.4,459.1 566.5,463.9 570.9,466 576.7,468.8 586.9,473.6 593.6,476.8 597,478.5 607.1,483.4 609.1,484.3 617.2,488.3 627.4,493.2 629.1,494.1 637.5,498 647.7,502.8 653.9,505.7 657.8,507.7 667.9,512.7 678,517.7 688,522.8 692.4,524.9 694.6,526.7 697.9,528.2 707.7,532.7 708.1,532.9 718.4,537.6 728.6,542.3 733.5,544.6 735.8,546.2 738.6,547.4 740.7,548.3 742.5,548.3 749.2,551.4 759.4,556.1 758.9,557.7 748.7,553 742,549.9 740.2,549.9 738.1,549 735.3,547.7 733,546.1 728.1,543.8 717.9,539.1 707.7,534.4 707.2,534.2 697.5,529.7 694.2,528.2 692,526.5 687.5,524.3 677.5,519.3 667.4,514.3 657.3,509.3 653.3,507.3 647.2,504.4 637,499.6 628.5,495.6 626.8,494.8 616.7,489.8 608.6,485.9 606.6,484.9 596.4,480 593.1,478.4 586.3,475.1 576.1,470.3 570.3,467.5 566,465.4 555.8,460.5 545.7,455.7 535.5,450.8 525.4,445.9 518.1,442.5 517.6,442.2 515.2,441.2 504.9,436.6" fill="#eeeeee"/>
<polygon points="505.1,436.1 515.4,440.6 517.8,441.7 518.3,441.9 525.6,445.4 535.7,450.3 545.9,455.1 556,460 566.2,464.9 570.5,466.9 576.3,469.7 586.5,474.6 593.3,477.8 596.6,479.4 606.8,484.3 608.8,485.3 616.9,489.3 627,494.2 628.8,495 637.2,499 647.4,503.8 653.5,506.7 657.5,508.7 667.6,513.7 677.7,518.7 687.7,523.7 692.1,525.9 694.3,527.6 697.6,529.1 707.4,533.6 707.9,533.8 718.1,538.5 728.3,543.3 733.2,545.5 735.5,547.2 738.3,548.4 740.4,549.3 742.2,549.3 748.9,552.4 759.1,557.1 758.6,558.6 748.4,554 741.7,550.9 739.9,550.8 737.8,549.9 735,548.7 732.7,547.1 727.8,544.8 717.6,540.1 707.4,535.3 706.9,535.1 697.2,530.6 693.9,529.1 691.6,527.4 687.2,525.3 677.1,520.2 667.1,515.2 657,510.2 653,508.3 646.8,505.4 636.6,500.6 628.2,496.6 626.5,495.7 616.3,490.8 608.2,486.8 606.2,485.9 596.1,480.9 592.7,479.3 585.9,476.1 575.8,471.2 570,468.4 565.6,466.3 555.5,461.4 545.3,456.6 535.2,451.7 525,446.8 517.7,443.3 517.2,443.1 514.8,442 504.5,437.5" fill="#f0f0f0"/>
<polygon points="504.7,437 515,441.5 517.5,442.6 518,442.8 525.2,446.3 535.4,451.2 545.5,456 555.7,460.9 565.8,465.8 570.2,467.9 576,470.6 586.2,475.5 592.9,478.7 596.3,480.4 606.4,485.3 608.4,486.3 616.5,490.2 626.7,495.2 628.4,496 636.8,500 647,504.8 653.2,507.7 657.2,509.7 667.3,514.7 677.3,519.7 687.4,524.7 691.8,526.9 694.1,528.5 697.3,530.1 707.1,534.5 707.6,534.8 717.8,539.5 728,544.2 732.9,546.5 735.2,548.1 738,549.4 740.1,550.2 741.9,550.3 748.6,553.4 758.8,558 758.4,559.6 748.1,555 741.4,551.9 739.6,551.8 737.5,550.9 734.7,549.7 732.5,548 727.5,545.7 717.3,541 707.1,536.3 706.6,536 696.9,531.6 693.6,530 691.3,528.4 686.9,526.2 676.8,521.2 666.7,516.2 656.6,511.2 652.6,509.3 646.5,506.3 636.3,501.6 627.8,497.6 626.1,496.7 616,491.8 607.9,487.8 605.9,486.8 595.7,481.9 592.4,480.3 585.6,477 575.4,472.1 569.6,469.3 565.3,467.2 555.1,462.4 545,457.5 534.8,452.6 524.7,447.7 517.4,444.2 516.9,443.9 514.5,442.9 504.1,438.4" fill="#f2f2f2"/>
<polygon points="504.4,437.9 514.7,442.4 517.1,443.4 517.6,443.7 524.9,447.2 535,452 545.2,456.9 555.3,461.8 565.5,466.7 569.8,468.8 575.6,471.6 585.8,476.4 592.6,479.7 595.9,481.3 606.1,486.2 608.1,487.2 616.2,491.2 626.3,496.1 628.1,497 636.5,501 646.7,505.8 652.9,508.7 656.8,510.6 666.9,515.6 677,520.6 687.1,525.6 691.5,527.8 693.8,529.5 697,531 706.8,535.5 707.3,535.7 717.5,540.4 727.7,545.2 732.6,547.4 734.9,549.1 737.7,550.3 739.8,551.2 741.6,551.3 748.3,554.4 758.5,559 758.1,560.6 747.8,556 741.1,552.9 739.3,552.8 737.2,551.9 734.4,550.7 732.2,549 727.2,546.7 717,542 706.8,537.2 706.3,537 696.6,532.5 693.3,531 691,529.4 686.6,527.2 676.5,522.2 666.4,517.2 656.3,512.2 652.3,510.2 646.1,507.3 635.9,502.5 627.5,498.6 625.8,497.7 615.6,492.7 607.5,488.8 605.5,487.8 595.4,482.8 592,481.2 585.2,477.9 575.1,473 569.3,470.3 564.9,468.2 554.8,463.3 544.6,458.4 534.5,453.5 524.3,448.6 517,445 516.5,444.8 514.1,443.8 503.8,439.3" fill="#f4f4f4"/>
<polygon points="504,438.8 514.3,443.2 516.8,444.3 517.2,444.5 524.5,448 534.7,452.9 544.8,457.8 555,462.7 565.1,467.6 569.5,469.7 575.3,472.5 585.4,477.4 592.2,480.6 595.6,482.3 605.7,487.2 607.7,488.2 615.8,492.2 626,497.1 627.7,498 636.1,501.9 646.3,506.7 652.5,509.6 656.5,511.6 666.6,516.6 676.7,521.6 686.8,526.6 691.2,528.8 693.5,530.4 696.7,531.9 706.5,536.4 707,536.7 717.2,541.4 727.4,546.1 732.3,548.4 734.6,550.1 737.4,551.3 739.5,552.2 741.3,552.3 748,555.4 758.2,560 757.8,561.6 747.5,556.9 740.8,553.9 739,553.8 737,552.9 734.1,551.7 731.9,549.9 727,547.7 716.7,542.9 706.5,538.2 706,537.9 696.3,533.4 693,531.9 690.7,530.3 686.3,528.1 676.2,523.2 666.1,518.2 656,513.2 652,511.2 645.8,508.3 635.6,503.5 627.1,499.5 625.4,498.7 615.3,493.7 607.2,489.7 605.2,488.7 595,483.8 591.7,482.1 584.9,478.9 574.7,474 568.9,471.2 564.6,469.1 554.4,464.2 544.3,459.3 534.1,454.3 524,449.4 516.7,445.9 516.2,445.7 513.8,444.6 503.4,440.1" fill="#ebebeb"/>
<polygon points="503.6,439.6 514,444.1 516.4,445.1 516.9,445.4 524.2,448.9 534.3,453.8 544.5,458.7 554.6,463.6 564.8,468.5 569.1,470.6 574.9,473.4 585.1,478.3 591.9,481.6 595.2,483.2 605.4,488.2 607.4,489.1 615.5,493.1 625.6,498.1 627.4,499 635.8,502.9 646,507.7 652.2,510.6 656.2,512.6 666.3,517.6 676.4,522.6 686.5,527.6 690.9,529.7 693.2,531.4 696.4,532.9 706.2,537.4 706.7,537.6 716.9,542.3 727.1,547.1 732.1,549.4 734.3,551.1 737.1,552.3 739.2,553.2 741,553.3 747.7,556.4 758,561 757.5,562.5 747.2,557.9 740.5,554.9 738.7,554.8 736.7,553.9 733.8,552.7 731.6,550.9 726.7,548.6 716.4,543.9 706.2,539.1 705.7,538.9 696,534.4 692.7,532.9 690.4,531.3 686,529.1 675.9,524.1 665.7,519.1 655.6,514.2 651.6,512.2 645.4,509.3 635.2,504.5 626.8,500.5 625.1,499.7 614.9,494.7 606.8,490.7 604.8,489.7 594.7,484.7 591.3,483.1 584.5,479.8 574.4,474.9 568.6,472.1 564.2,470 554.1,465.1 543.9,460.2 533.8,455.2 523.6,450.3 516.3,446.8 515.8,446.5 513.4,445.5 503.1,441" fill="#d8d8d8"/>
<polygon points="503.3,440.5 513.6,445 516,446 516.5,446.3 523.8,449.8 534,454.7 544.1,459.6 554.3,464.5 564.4,469.4 568.8,471.5 574.6,474.3 584.7,479.3 591.5,482.5 594.9,484.2 605,489.1 607,490.1 615.1,494.1 625.3,499.1 627,499.9 635.4,503.9 645.7,508.7 651.8,511.6 655.8,513.6 665.9,518.6 676.1,523.5 686.2,528.5 690.6,530.7 692.9,532.3 696.1,533.8 705.9,538.3 706.4,538.5 716.6,543.3 726.8,548 731.8,550.3 734,552.1 736.8,553.3 738.9,554.2 740.7,554.3 747.4,557.3 757.7,562 757.2,563.5 746.9,558.9 740.2,555.9 738.4,555.7 736.4,554.9 733.5,553.7 731.3,551.9 726.4,549.6 716.1,544.8 705.9,540.1 705.4,539.8 695.7,535.3 692.4,533.8 690.1,532.2 685.7,530.1 675.5,525.1 665.4,520.1 655.3,515.1 651.3,513.2 645.1,510.3 634.9,505.5 626.4,501.5 624.7,500.6 614.6,495.6 606.5,491.6 604.5,490.7 594.3,485.7 591,484 584.2,480.8 574,475.8 568.2,473 563.9,470.9 553.7,466 543.6,461 533.4,456.1 523.3,451.2 516,447.6 515.5,447.4 513.1,446.4 502.7,441.9" fill="#c2c2c2"/>
<polygon points="502.9,441.4 513.3,445.8 515.7,446.9 516.2,447.1 523.5,450.7 533.6,455.6 543.8,460.5 553.9,465.4 564.1,470.4 568.4,472.5 574.2,475.3 584.4,480.2 591.2,483.5 594.5,485.1 604.7,490.1 606.7,491.1 614.8,495.1 624.9,500 626.7,500.9 635.1,504.9 645.3,509.7 651.5,512.6 655.5,514.6 665.6,519.5 675.7,524.5 685.9,529.5 690.3,531.7 692.6,533.2 695.9,534.7 705.6,539.3 706.1,539.5 716.3,544.2 726.6,549 731.5,551.3 733.7,553.1 736.5,554.3 738.6,555.2 740.4,555.3 747.1,558.3 757.4,562.9 756.9,564.5 746.6,559.9 739.9,556.9 738.1,556.7 736.1,555.8 733.2,554.6 731,552.8 726.1,550.5 715.9,545.8 705.6,541 705.1,540.8 695.4,536.3 692.1,534.7 689.8,533.2 685.4,531 675.2,526.1 665.1,521.1 654.9,516.1 650.9,514.2 644.8,511.3 634.5,506.5 626.1,502.5 624.3,501.6 614.2,496.6 606.1,492.6 604.1,491.6 594,486.6 590.6,485 583.8,481.7 573.7,476.8 567.8,473.9 563.5,471.8 553.4,466.9 543.2,461.9 533.1,457 522.9,452.1 515.6,448.5 515.1,448.3 512.7,447.2 502.3,442.8" fill="#a9a9a9"/>
<polygon points="502.5,442.2 512.9,446.7 515.3,447.7 515.8,448 523.1,451.5 533.3,456.5 543.4,461.4 553.6,466.3 563.7,471.3 568.1,473.4 573.9,476.2 584,481.1 590.8,484.4 594.2,486.1 604.3,491 606.3,492 614.4,496 624.6,501 626.3,501.9 634.8,505.9 645,510.7 651.1,513.6 655.1,515.5 665.3,520.5 675.4,525.5 685.6,530.4 690,532.6 692.3,534.2 695.6,535.7 705.3,540.2 705.8,540.4 716,545.2 726.3,549.9 731.2,552.2 733.4,554.1 736.2,555.3 738.3,556.1 740,556.3 746.8,559.3 757.1,563.9 756.7,565.5 746.3,560.9 739.6,558 737.8,557.7 735.8,556.8 732.9,555.6 730.7,553.8 725.8,551.5 715.6,546.7 705.3,541.9 704.8,541.7 695.1,537.2 691.8,535.7 689.5,534.1 685.1,532 674.9,527 664.8,522.1 654.6,517.1 650.6,515.2 644.4,512.2 634.2,507.4 625.7,503.5 624,502.6 613.9,497.6 605.8,493.6 603.8,492.6 593.6,487.6 590.2,485.9 583.5,482.6 573.3,477.7 567.5,474.9 563.2,472.7 553,467.8 542.9,462.8 532.7,457.9 522.6,452.9 515.3,449.4 514.8,449.1 512.4,448.1 502,443.6" fill="#a7a7a7"/>
<polygon points="502.2,443.1 512.6,447.6 515,448.6 515.5,448.9 522.8,452.4 532.9,457.4 543.1,462.3 553.2,467.2 563.4,472.2 567.7,474.3 573.5,477.1 583.7,482.1 590.5,485.4 593.8,487 604,492 606,493 614.1,497 624.2,502 626,502.9 634.4,506.8 644.6,511.7 650.8,514.6 654.8,516.5 665,521.5 675.1,526.4 685.2,531.4 689.7,533.6 692,535.1 695.3,536.6 705,541.1 705.5,541.4 715.7,546.1 726,550.9 730.9,553.2 733.1,555 735.9,556.2 738,557.1 739.7,557.3 746.5,560.3 756.8,564.9 756.4,566.4 746,561.9 739.3,559 737.5,558.7 735.5,557.8 732.6,556.6 730.4,554.7 725.5,552.4 715.3,547.7 705,542.9 704.5,542.7 694.8,538.1 691.5,536.6 689.2,535.1 684.7,532.9 674.6,528 664.4,523 654.3,518.1 650.3,516.1 644.1,513.2 633.9,508.4 625.4,504.4 623.6,503.6 613.5,498.5 605.4,494.5 603.4,493.5 593.3,488.5 589.9,486.9 583.1,483.6 573,478.6 567.1,475.8 562.8,473.7 552.7,468.7 542.5,463.7 532.4,458.8 522.2,453.8 514.9,450.2 514.4,450 512,449 501.6,444.5" fill="#a6a6a6"/>
<polygon points="501.8,444 512.2,448.4 514.6,449.5 515.1,449.7 522.4,453.3 532.6,458.2 542.7,463.2 552.9,468.2 563,473.1 567.4,475.2 573.2,478.1 583.3,483 590.1,486.3 593.5,488 603.6,493 605.6,493.9 613.7,498 623.9,503 625.6,503.8 634.1,507.8 644.3,512.6 650.5,515.5 654.5,517.5 664.6,522.5 674.8,527.4 684.9,532.4 689.4,534.5 691.7,536 695,537.6 704.7,542.1 705.2,542.3 715.4,547.1 725.7,551.9 730.6,554.2 732.8,556 735.6,557.2 737.7,558.1 739.4,558.4 746.2,561.3 756.5,565.9 756.1,567.4 745.7,562.9 738.9,560 737.2,559.7 735.2,558.8 732.3,557.6 730.2,555.7 725.2,553.4 715,548.6 704.7,543.8 704.2,543.6 694.5,539.1 691.2,537.5 688.9,536.1 684.4,533.9 674.3,529 664.1,524 653.9,519.1 649.9,517.1 643.7,514.2 633.5,509.4 625,505.4 623.3,504.5 613.2,499.5 605.1,495.5 603,494.5 592.9,489.5 589.5,487.8 582.8,484.5 572.6,479.6 566.8,476.7 562.5,474.6 552.3,469.6 542.2,464.6 532,459.6 521.9,454.7 514.6,451.1 514.1,450.9 511.6,449.8 501.2,445.4" fill="#c0c0c0"/>
<polygon points="501.5,444.9 511.9,449.3 514.3,450.3 514.8,450.6 522.1,454.1 532.2,459.1 542.4,464.1 552.5,469.1 562.7,474 567,476.2 572.8,479 583,484 589.8,487.3 593.1,488.9 603.3,493.9 605.3,494.9 613.4,498.9 623.5,504 625.3,504.8 633.7,508.8 643.9,513.6 650.1,516.5 654.1,518.5 664.3,523.4 674.5,528.4 684.6,533.3 689,535.5 691.4,537 694.7,538.5 704.4,543 704.9,543.3 715.2,548 725.4,552.8 730.3,555.1 732.5,557 735.3,558.2 737.4,559.1 739.1,559.4 745.9,562.3 756.3,566.8 755.8,568.4 745.4,563.9 738.6,561 737,560.7 734.9,559.8 732,558.6 729.9,556.6 724.9,554.3 714.7,549.6 704.4,544.8 703.9,544.5 694.2,540 690.9,538.5 688.6,537 684.1,534.9 673.9,529.9 663.8,525 653.6,520.1 649.6,518.1 643.4,515.2 633.2,510.4 624.7,506.4 622.9,505.5 612.8,500.5 604.7,496.4 602.7,495.4 592.6,490.4 589.2,488.8 582.4,485.5 572.2,480.5 566.4,477.6 562.1,475.5 551.9,470.5 541.8,465.5 531.7,460.5 521.5,455.5 514.2,452 513.7,451.7 511.3,450.7 500.9,446.3" fill="#d3d3d3"/>
<polygon points="501.1,445.8 511.5,450.2 513.9,451.2 514.4,451.4 521.7,455 531.9,460 542,465 552.2,470 562.3,475 566.6,477.1 572.5,479.9 582.6,484.9 589.4,488.2 592.8,489.9 602.9,494.9 604.9,495.9 613,499.9 623.2,504.9 624.9,505.8 633.4,509.8 643.6,514.6 649.8,517.5 653.8,519.5 664,524.4 674.1,529.3 684.3,534.3 688.7,536.4 691.1,537.9 694.4,539.4 704.1,544 704.6,544.2 714.9,549 725.1,553.8 730,556.1 732.2,558 735,559.2 737.1,560.1 738.8,560.4 745.6,563.3 756,567.8 755.5,569.4 745.1,564.9 738.3,562 736.7,561.6 734.6,560.8 731.7,559.6 729.6,557.6 724.6,555.3 714.4,550.5 704.1,545.7 703.6,545.5 693.9,540.9 690.6,539.4 688.2,538 683.8,535.8 673.6,530.9 663.4,526 653.3,521 649.2,519.1 643,516.2 632.8,511.4 624.3,507.4 622.6,506.5 612.5,501.4 604.4,497.4 602.3,496.4 592.2,491.4 588.8,489.7 582.1,486.4 571.9,481.4 566.1,478.6 561.7,476.4 551.6,471.4 541.4,466.4 531.3,461.4 521.2,456.4 513.9,452.8 513.4,452.6 510.9,451.6 500.5,447.1" fill="#d4d4d4"/>
<polygon points="500.7,446.6 511.2,451 513.6,452.1 514.1,452.3 521.4,455.9 531.5,460.9 541.7,465.9 551.8,470.9 562,475.9 566.3,478 572.1,480.9 582.3,485.8 589,489.2 592.4,490.8 602.6,495.8 604.6,496.8 612.7,500.9 622.8,505.9 624.6,506.8 633,510.8 643.3,515.6 649.4,518.5 653.5,520.4 663.6,525.4 673.8,530.3 684,535.2 688.4,537.4 690.8,538.9 694.1,540.4 703.8,544.9 704.3,545.2 714.6,549.9 724.8,554.7 729.7,557 731.9,559 734.7,560.2 736.8,561 738.5,561.4 745.3,564.3 755.7,568.8 755.2,570.4 744.8,565.9 738,563 736.4,562.6 734.3,561.8 731.4,560.6 729.3,558.6 724.4,556.3 714.1,551.5 703.9,546.7 703.4,546.4 693.6,541.9 690.3,540.3 687.9,538.9 683.5,536.8 673.3,531.9 663.1,526.9 652.9,522 648.9,520.1 642.7,517.2 632.5,512.3 624,508.3 622.2,507.5 612.1,502.4 604,498.4 602,497.4 591.8,492.3 588.5,490.7 581.7,487.3 571.5,482.3 565.7,479.5 561.4,477.3 551.2,472.3 541.1,467.3 530.9,462.3 520.8,457.3 513.5,453.7 513,453.4 510.6,452.4 500.1,448" fill="#d5d5d5"/>
<polygon points="500.4,447.5 510.8,451.9 513.2,452.9 513.7,453.2 521,456.8 531.2,461.8 541.3,466.8 551.5,471.8 561.6,476.8 565.9,478.9 571.8,481.8 581.9,486.8 588.7,490.1 592.1,491.8 602.2,496.8 604.2,497.8 612.3,501.8 622.5,506.9 624.2,507.8 632.7,511.7 642.9,516.6 649.1,519.5 653.1,521.4 663.3,526.4 673.5,531.3 683.7,536.2 688.1,538.4 690.5,539.8 693.8,541.3 703.5,545.9 704,546.1 714.3,550.9 724.5,555.7 729.5,558 731.6,560 734.5,561.2 736.5,562 738.2,562.4 745,565.3 755.4,569.8 755,571.3 744.5,566.9 737.7,564 736.1,563.6 734,562.7 731.1,561.5 729,559.5 724.1,557.2 713.8,552.4 703.6,547.6 703.1,547.4 693.3,542.8 690,541.3 687.6,539.9 683.2,537.7 673,532.8 662.8,527.9 652.6,523 648.6,521.1 642.4,518.1 632.1,513.3 623.6,509.3 621.9,508.4 611.8,503.4 603.7,499.3 601.6,498.3 591.5,493.3 588.1,491.6 581.3,488.3 571.2,483.3 565.4,480.4 561,478.3 550.9,473.2 540.7,468.2 530.6,463.2 520.4,458.2 513.2,454.6 512.7,454.3 510.2,453.3 499.8,448.9" fill="#cccccc"/>
<polygon points="500,448.4 510.4,452.8 512.9,453.8 513.4,454 520.7,457.6 530.8,462.7 541,467.7 551.1,472.7 561.2,477.7 565.6,479.8 571.4,482.7 581.6,487.7 588.3,491 591.7,492.7 601.9,497.7 603.9,498.7 612,502.8 622.1,507.9 623.9,508.7 632.3,512.7 642.6,517.5 648.8,520.5 652.8,522.4 663,527.3 673.2,532.3 683.4,537.2 687.8,539.3 690.2,540.7 693.5,542.3 703.2,546.8 703.7,547 714,551.8 724.2,556.6 729.2,558.9 731.3,561 734.2,562.1 736.2,563 737.9,563.4 744.7,566.3 755.1,570.8 754.7,572.3 744.2,567.9 737.4,565 735.8,564.6 733.7,563.7 730.8,562.5 728.7,560.5 723.8,558.2 713.5,553.4 703.3,548.6 702.8,548.3 693,543.8 689.7,542.2 687.3,540.9 682.9,538.7 672.7,533.8 662.5,528.9 652.2,524 648.2,522 642,519.1 631.8,514.3 623.3,510.3 621.5,509.4 611.4,504.3 603.3,500.3 601.3,499.3 591.1,494.2 587.8,492.6 581,489.2 570.8,484.2 565,481.3 560.7,479.2 550.5,474.1 540.4,469.1 530.2,464.1 520.1,459 512.8,455.4 512.3,455.2 509.9,454.2 499.4,449.8" fill="#b2b2b2"/>
<polygon points="499.6,449.2 510.1,453.6 512.5,454.7 513,454.9 520.3,458.5 530.5,463.5 540.6,468.6 550.7,473.6 560.9,478.6 565.2,480.8 571,483.6 581.2,488.7 588,492 591.4,493.7 601.5,498.7 603.5,499.7 611.6,503.8 621.8,508.8 623.5,509.7 632,513.7 642.2,518.5 648.4,521.5 652.4,523.4 662.7,528.3 672.9,533.2 683.1,538.1 687.5,540.3 689.9,541.7 693.2,543.2 702.9,547.8 703.4,548 713.7,552.8 723.9,557.6 728.9,559.9 731,561.9 733.9,563.1 735.9,564 737.6,564.4 744.4,567.3 754.8,571.7 754.4,573.3 743.9,568.9 737.1,566 735.5,565.6 733.4,564.7 730.5,563.5 728.4,561.4 723.5,559.1 713.2,554.3 703,549.5 702.5,549.3 692.7,544.7 689.4,543.2 687,541.8 682.6,539.7 672.3,534.8 662.1,529.9 651.9,525 647.9,523 641.7,520.1 631.4,515.3 622.9,511.3 621.2,510.4 611.1,505.3 603,501.2 600.9,500.2 590.8,495.2 587.4,493.5 580.6,490.2 570.5,485.1 564.7,482.2 560.3,480.1 550.2,475 540,470 529.9,465 519.7,459.9 512.5,456.3 512,456 509.5,455 499.1,450.6" fill="#a6a6a6"/>
<polygon points="499.3,450.1 509.7,454.5 512.2,455.5 512.7,455.8 520,459.4 530.1,464.4 540.2,469.5 550.4,474.5 560.5,479.5 564.9,481.7 570.7,484.6 580.9,489.6 587.6,492.9 591,494.6 601.1,499.7 603.2,500.7 611.3,504.7 621.4,509.8 623.2,510.7 631.6,514.7 641.9,519.5 648.1,522.4 652.1,524.4 662.3,529.3 672.5,534.2 682.7,539.1 687.2,541.2 689.6,542.6 692.9,544.1 702.6,548.7 703.1,548.9 713.4,553.7 723.7,558.6 728.6,560.9 730.7,562.9 733.6,564.1 735.7,565 737.3,565.4 744.1,568.3 754.6,572.7 754.1,574.3 743.6,569.9 736.8,567 735.2,566.5 733.1,565.7 730.2,564.5 728.1,562.4 723.2,560.1 712.9,555.3 702.7,550.4 702.2,550.2 692.4,545.6 689.1,544.1 686.7,542.8 682.2,540.6 672,535.7 661.8,530.8 651.6,525.9 647.5,524 641.3,521.1 631.1,516.3 622.6,512.3 620.8,511.4 610.7,506.3 602.6,502.2 600.6,501.2 590.4,496.1 587.1,494.5 580.3,491.1 570.1,486.1 564.3,483.2 560,481 549.8,476 539.7,470.9 529.5,465.8 519.4,460.8 512.1,457.2 511.6,456.9 509.2,455.9 498.7,451.5" fill="#a2a2a2"/>
<polygon points="498.9,451 509.4,455.4 511.8,456.4 512.3,456.6 519.6,460.3 529.7,465.3 539.9,470.4 550,475.4 560.2,480.5 564.5,482.6 570.3,485.5 580.5,490.5 587.3,493.9 590.6,495.6 600.8,500.6 602.8,501.6 610.9,505.7 621.1,510.8 622.8,511.7 631.3,515.7 641.5,520.5 647.7,523.4 651.8,525.4 662,530.3 672.2,535.2 682.4,540.1 686.9,542.2 689.3,543.5 692.6,545.1 702.4,549.6 702.9,549.9 713.1,554.7 723.4,559.5 728.3,561.8 730.4,563.9 733.3,565.1 735.4,566 737,566.4 743.8,569.3 754.3,573.7 753.8,575.2 743.3,570.9 736.5,568 734.9,567.5 732.8,566.7 729.9,565.5 727.8,563.4 722.9,561 712.6,556.2 702.4,551.4 701.9,551.2 692.1,546.6 688.8,545 686.4,543.7 681.9,541.6 671.7,536.7 661.5,531.8 651.2,526.9 647.2,525 641,522.1 630.7,517.2 622.2,513.2 620.5,512.4 610.4,507.2 602.2,503.2 600.2,502.2 590.1,497.1 586.7,495.4 579.9,492 569.8,487 564,484.1 559.6,481.9 549.5,476.9 539.3,471.8 529.2,466.7 519,461.7 511.8,458 511.3,457.8 508.8,456.8 498.3,452.4" fill="#9f9f9f"/>
<polygon points="498.5,451.9 509,456.2 511.5,457.2 512,457.5 519.2,461.1 529.4,466.2 539.5,471.3 549.7,476.3 559.8,481.4 564.2,483.5 570,486.4 580.1,491.5 586.9,494.8 590.3,496.5 600.4,501.6 602.5,502.6 610.6,506.7 620.7,511.8 622.5,512.7 630.9,516.6 641.2,521.5 647.4,524.4 651.4,526.3 661.7,531.2 671.9,536.1 682.1,541 686.6,543.2 689,544.5 692.3,546 702.1,550.6 702.6,550.8 712.8,555.6 723.1,560.5 728,562.8 730.1,564.9 733,566.1 735.1,566.9 736.7,567.4 743.5,570.3 754,574.7 753.5,576.2 743,571.9 736.2,569 734.6,568.5 732.5,567.7 729.6,566.5 727.6,564.3 722.6,562 712.4,557.2 702.1,552.3 701.6,552.1 691.8,547.5 688.5,546 686.1,544.7 681.6,542.6 671.4,537.7 661.1,532.8 650.9,527.9 646.9,526 640.6,523.1 630.4,518.2 621.9,514.2 620.1,513.3 610,508.2 601.9,504.1 599.9,503.1 589.7,498 586.4,496.4 579.6,493 569.4,487.9 563.6,485 559.3,482.8 549.1,477.8 539,472.7 528.8,467.6 518.7,462.5 511.4,458.9 510.9,458.6 508.5,457.6 498,453.3" fill="#9b9b9b"/>
<polygon points="498.2,452.8 508.7,457.1 511.1,458.1 511.6,458.4 518.9,462 529,467.1 539.2,472.1 549.3,477.2 559.5,482.3 563.8,484.5 569.6,487.4 579.8,492.4 586.6,495.8 589.9,497.5 600.1,502.5 602.1,503.5 610.2,507.6 620.4,512.7 622.1,513.6 630.6,517.6 640.9,522.5 647.1,525.4 651.1,527.3 661.3,532.2 671.6,537.1 681.8,542 686.3,544.1 688.7,545.4 692,547 701.8,551.5 702.3,551.8 712.5,556.6 722.8,561.4 727.7,563.7 729.8,565.9 732.7,567.1 734.8,567.9 736.4,568.4 743.2,571.3 753.7,575.6 753.2,577.2 742.8,572.9 735.9,570 734.3,569.5 732.2,568.6 729.3,567.5 727.3,565.3 722.3,563 712.1,558.1 701.8,553.3 701.3,553 691.5,548.5 688.2,546.9 685.8,545.6 681.3,543.5 671.1,538.6 660.8,533.8 650.6,528.9 646.5,527 640.3,524 630,519.2 621.5,515.2 619.8,514.3 609.7,509.2 601.5,505.1 599.5,504.1 589.4,499 586,497.3 579.2,493.9 569.1,488.8 563.3,485.9 558.9,483.8 548.8,478.7 538.6,473.6 528.5,468.5 518.3,463.4 511,459.7 510.6,459.5 508.1,458.5 497.6,454.1" fill="#a1a1a1"/>
<polygon points="497.8,453.6 508.3,458 510.8,459 511.3,459.2 518.5,462.9 528.7,468 538.8,473 549,478.1 559.1,483.2 563.5,485.4 569.3,488.3 579.4,493.3 586.2,496.7 589.6,498.4 599.7,503.5 601.8,504.5 609.9,508.6 620,513.7 621.8,514.6 630.2,518.6 640.5,523.4 646.7,526.4 650.8,528.3 661,533.2 671.2,538.1 681.5,542.9 686,545.1 688.4,546.3 691.7,547.9 701.5,552.5 702,552.7 712.2,557.5 722.5,562.4 727.4,564.7 729.5,566.9 732.4,568 734.5,568.9 736.1,569.4 742.9,572.3 753.4,576.6 753,578.2 742.5,573.9 735.6,571 734,570.5 731.9,569.6 729,568.4 727,566.2 722,563.9 711.8,559.1 701.5,554.2 701,554 691.2,549.4 687.9,547.8 685.5,546.6 681,544.5 670.7,539.6 660.5,534.7 650.2,529.9 646.2,527.9 640,525 629.7,520.2 621.2,516.2 619.4,515.3 609.3,510.2 601.2,506 599.2,505 589,499.9 585.7,498.2 578.9,494.9 568.7,489.8 562.9,486.9 558.6,484.7 548.4,479.6 538.3,474.5 528.1,469.4 518,464.3 510.7,460.6 510.2,460.4 507.7,459.4 497.2,455" fill="#acacac"/>
<polygon points="497.5,454.5 508,458.8 510.4,459.8 510.9,460.1 518.2,463.8 528.3,468.8 538.5,473.9 548.6,479 558.8,484.1 563.1,486.3 568.9,489.2 579.1,494.3 585.9,497.7 589.2,499.4 599.4,504.5 601.4,505.5 609.5,509.6 619.7,514.7 621.4,515.6 629.9,519.6 640.2,524.4 646.4,527.4 650.4,529.3 660.7,534.2 670.9,539 681.2,543.9 685.7,546 688.1,547.3 691.4,548.8 701.2,553.4 701.7,553.7 711.9,558.5 722.2,563.3 727.2,565.7 729.2,567.9 732.1,569 734.2,569.9 735.8,570.4 742.6,573.3 753.1,577.6 752.7,579.2 742.2,574.8 735.3,572 733.7,571.5 731.6,570.6 728.7,569.4 726.7,567.2 721.7,564.9 711.5,560 701.2,555.2 700.7,554.9 690.9,550.3 687.6,548.8 685.2,547.6 680.7,545.4 670.4,540.6 660.2,535.7 649.9,530.8 645.8,528.9 639.6,526 629.3,521.2 620.8,517.2 619.1,516.3 609,511.1 600.8,507 598.8,506 588.7,500.9 585.3,499.2 578.5,495.8 568.4,490.7 562.5,487.8 558.2,485.6 548.1,480.5 537.9,475.4 527.8,470.3 517.6,465.1 510.3,461.5 509.8,461.2 507.4,460.2 496.9,455.9" fill="#b2b2b2"/>
<polygon points="497.1,455.4 507.6,459.7 510.1,460.7 510.6,461 517.8,464.6 528,469.7 538.1,474.8 548.3,479.9 558.4,485 562.8,487.2 568.6,490.1 578.7,495.2 585.5,498.6 588.9,500.3 599,505.4 601.1,506.4 609.2,510.5 619.3,515.7 621.1,516.6 629.6,520.6 639.8,525.4 646,528.3 650.1,530.3 660.3,535.1 670.6,540 680.9,544.9 685.3,547 687.8,548.2 691.1,549.8 700.9,554.4 701.4,554.6 711.7,559.4 721.9,564.3 726.9,566.6 728.9,568.8 731.8,570 733.9,570.9 735.5,571.4 742.3,574.2 752.9,578.6 752.4,580.1 741.9,575.8 735,573 733.4,572.4 731.3,571.6 728.4,570.4 726.4,568.2 721.5,565.8 711.2,561 700.9,556.1 700.4,555.9 690.6,551.3 687.3,549.7 684.9,548.5 680.4,546.4 670.1,541.5 659.8,536.7 649.6,531.8 645.5,529.9 639.3,527 629,522.1 620.5,518.1 618.7,517.2 608.6,512.1 600.5,508 598.5,506.9 588.3,501.8 584.9,500.1 578.2,496.7 568,491.6 562.2,488.7 557.9,486.5 547.7,481.4 537.6,476.3 527.4,471.1 517.3,466 510,462.3 509.5,462.1 507,461.1 496.5,456.8" fill="#b1b1b1"/>
<polygon points="496.7,456.2 507.3,460.6 509.7,461.6 510.2,461.8 517.5,465.5 527.6,470.6 537.8,475.7 547.9,480.8 558.1,486 562.4,488.2 568.2,491.1 578.4,496.2 585.2,499.6 588.5,501.3 598.7,506.4 600.7,507.4 608.8,511.5 619,516.7 620.7,517.5 629.2,521.5 639.5,526.4 645.7,529.3 649.8,531.2 660,536.1 670.3,541 680.6,545.8 685,547.9 687.5,549.2 690.8,550.7 700.6,555.3 701.1,555.5 711.4,560.4 721.6,565.2 726.6,567.6 728.6,569.8 731.5,571 733.6,571.9 735.2,572.4 742,575.2 752.6,579.5 752.1,581.1 741.6,576.8 734.7,574 733.1,573.4 731,572.6 728.1,571.4 726.1,569.1 721.2,566.8 710.9,561.9 700.6,557.1 700.1,556.8 690.3,552.2 687,550.7 684.5,549.5 680.1,547.4 669.8,542.5 659.5,537.7 649.2,532.8 645.2,530.9 638.9,528 628.6,523.1 620.1,519.1 618.4,518.2 608.3,513.1 600.1,508.9 598.1,507.9 588,502.8 584.6,501.1 577.8,497.7 567.7,492.6 561.8,489.6 557.5,487.4 547.4,482.3 537.2,477.2 527.1,472 516.9,466.9 509.6,463.2 509.1,463 506.7,462 496.1,457.6" fill="#b0b0b0"/>
<polygon points="496.4,457.1 506.9,461.4 509.4,462.4 509.9,462.7 517.1,466.4 527.3,471.5 537.4,476.6 547.6,481.8 557.7,486.9 562.1,489.1 567.9,492 578,497.1 584.8,500.5 588.2,502.2 598.3,507.3 600.4,508.3 608.5,512.5 618.6,517.6 620.4,518.5 628.9,522.5 639.1,527.4 645.4,530.3 649.4,532.2 659.7,537.1 670,541.9 680.2,546.8 684.7,548.9 687.2,550.1 690.5,551.7 700.3,556.3 700.8,556.5 711.1,561.3 721.3,566.2 726.3,568.5 728.3,570.8 731.2,572 733.3,572.8 734.8,573.4 741.7,576.2 752.3,580.5 752,581.5 741.4,577.2 734.5,574.4 733,573.8 730.9,573 728,571.8 726,569.5 721.1,567.2 710.8,562.3 700.5,557.4 700,557.2 690.2,552.6 686.9,551 684.4,549.9 679.9,547.7 669.6,542.9 659.4,538 649.1,533.2 645,531.3 638.8,528.4 628.5,523.5 620,519.5 618.3,518.6 608.1,513.4 600,509.3 598,508.3 587.8,503.2 584.5,501.5 577.7,498 567.5,492.9 561.7,490 557.4,487.8 547.2,482.7 537.1,477.5 526.9,472.4 516.8,467.2 509.5,463.6 509,463.3 506.5,462.3 496,458" fill="#9d9d9d"/>
<polygon points="764.5,538.5 765.3,538.9 765.9,539.7 766.4,540.8 766.8,542.3 767,544 767.1,546.1 767,548.4 766.8,550.8 766.4,553.4 765.9,556.2 765.3,559 764.5,561.8 763.6,564.6 762.7,567.3 761.6,569.9 760.5,572.3 759.4,574.5 758.2,576.5 757.1,578.2 756,579.5 754.9,580.6 753.8,581.2 752.9,581.6 752,581.5" fill="url(#capB)"/>
<polyline points="699,508.5 698.1,508.5 696.9,509.3 695.4,510.8 693.7,513 691.9,515.7 690,519 688,522.5 686.1,526.3 684.4,530.1 682.9,533.9 681.6,537.4" fill="none" stroke="#505050" stroke-opacity="0.2" stroke-width="1.4"/>
<polyline points="700.4,509.2 699.6,509.2 698.4,510 696.9,511.5 695.2,513.7 693.3,516.4 691.4,519.6 689.5,523.2 687.6,527 685.8,530.8 684.3,534.6 683.1,538.1" fill="none" stroke="#ffffff" stroke-opacity="0.2" stroke-width="1.6"/>
<polyline points="746.5,530.6 745.6,530.6 744.4,531.5 742.9,533 741.2,535.2 739.3,538 737.3,541.3 735.3,545 733.4,548.8 731.6,552.8 730,556.6 728.7,560.2" fill="none" stroke="#505050" stroke-opacity="0.2" stroke-width="1.4"/>
<polyline points="747.9,531.3 747.1,531.3 745.8,532.1 744.3,533.7 742.6,535.9 740.7,538.7 738.7,542 736.8,545.7 734.8,549.5 733.1,553.4 731.5,557.3 730.2,560.9" fill="none" stroke="#ffffff" stroke-opacity="0.2" stroke-width="1.6"/>
<polygon points="117.5,223 132.6,230.2 140.4,234 147.7,237.5 162.9,244.7 176.8,251.4 178,252 193.1,259.2 200,262.5 208.2,266.4 223.4,273.6 238.5,280.8 253.7,288 260,291 268.9,295.1 284.1,302 284.7,302.3 299.4,309 314.6,315.9 329.9,322.9 332.5,324.1 340,327.5 345.1,330 360.2,337.2 375.3,344.5 379.9,346.7 390.5,351.7 402.5,357.5 402.7,357.6 405.6,358.8 421,365.5 425.8,367.5 431.9,370 436.6,371.9 440,373.3 452.1,378.2 456.7,380 457.8,380.4 468.1,383.6 475,385.8 483.7,389.8 486.2,390.9 499,396.7 498.3,399.2 485.5,393.5 483,392.3 474.3,388.3 467.4,386.1 457.2,382.7 456.1,382.3 451.5,380.5 439.4,375.5 436,374 431.3,372 425.3,369.5 420.5,367.5 405.1,360.8 402.2,359.5 402,359.4 389.9,353.7 379.3,348.7 374.7,346.5 359.6,339.2 344.4,332 339.3,329.5 331.8,326.1 329.2,324.9 313.9,317.9 298.7,310.9 284,304.2 283.4,303.9 268.2,296.9 259.3,292.9 252.9,289.8 237.8,282.6 222.6,275.4 207.5,268.2 199.2,264.3 192.3,260.9 177.2,253.7 176,253.1 162.1,246.4 146.9,239.2 139.6,235.6 131.8,231.9 116.6,224.7" fill="url(#g41)"/>
<polygon points="117,224 132.1,231.3 139.9,235 147.2,238.5 162.4,245.8 176.3,252.5 177.5,253 192.6,260.3 199.5,263.6 207.8,267.5 222.9,274.7 238.1,281.9 253.2,289.2 259.5,292.2 268.4,296.2 283.7,303.2 284.3,303.5 298.9,310.2 314.2,317.2 329.5,324.2 332,325.3 339.6,328.8 344.7,331.2 359.8,338.5 375,345.7 379.6,347.9 390.1,352.9 402.2,358.7 402.4,358.8 405.3,360 420.7,366.7 425.5,368.8 431.5,371.3 436.2,373.2 439.6,374.6 451.7,379.6 456.3,381.5 457.4,381.8 467.7,385.1 474.6,387.4 483.3,391.4 485.8,392.5 498.6,398.3 497.9,400.8 485.1,395.1 482.6,393.9 473.9,389.9 467,387.6 456.8,384.2 455.7,383.8 451.1,381.9 439.1,376.8 435.6,375.3 431,373.3 424.9,370.8 420.2,368.7 404.8,362 401.8,360.7 401.6,360.6 389.5,354.9 379,349.9 374.3,347.7 359.2,340.5 344,333.2 338.9,330.8 331.3,327.4 328.8,326.2 313.5,319.2 298.2,312.1 283.5,305.4 283,305.1 267.7,298.1 258.8,294 252.5,291 237.3,283.8 222.2,276.5 207,269.3 198.7,265.3 191.8,262 176.7,254.7 175.5,254.2 161.6,247.5 146.4,240.2 139,236.7 131.3,233 116.1,225.7" fill="url(#g42)"/>
<polygon points="116.4,225.1 131.6,232.3 139.3,236 146.7,239.6 161.9,246.8 175.8,253.5 177,254.1 192.1,261.4 199,264.7 207.3,268.6 222.4,275.9 237.6,283.1 252.8,290.3 259.1,293.3 268,297.4 283.2,304.4 283.8,304.7 298.5,311.4 313.8,318.4 329,325.4 331.6,326.6 339.1,330 344.3,332.5 359.4,339.7 374.6,347 379.2,349.2 389.7,354.2 401.8,359.9 402,360 405,361.2 420.4,368 425.1,370 431.2,372.6 435.8,374.5 439.3,376 451.3,381 455.9,382.9 457,383.3 467.3,386.7 474.1,388.9 482.8,393 485.3,394.1 498.2,399.9 497.5,402.4 484.6,396.7 482.1,395.5 473.4,391.5 466.6,389.1 456.4,385.6 455.3,385.3 450.7,383.3 438.7,378.1 435.3,376.6 430.6,374.6 424.6,372.1 419.8,370 404.4,363.2 401.5,361.9 401.3,361.8 389.2,356.1 378.6,351.2 374,349 358.8,341.7 343.6,334.5 338.5,332.1 330.9,328.6 328.3,327.5 313.1,320.4 297.8,313.4 283.1,306.6 282.5,306.3 267.3,299.3 258.4,295.2 252,292.2 236.9,284.9 221.7,277.6 206.5,270.4 198.3,266.4 191.4,263.1 176.2,255.8 175,255.2 161,248.5 145.9,241.3 138.5,237.7 130.7,234 115.6,226.7" fill="url(#g43)"/>
<polygon points="115.9,226.1 131,233.4 138.8,237.1 146.2,240.6 161.4,247.9 175.3,254.6 176.5,255.2 191.6,262.5 198.5,265.8 206.8,269.7 222,277 237.1,284.2 252.3,291.5 258.6,294.5 267.5,298.6 282.8,305.6 283.4,305.9 298.1,312.6 313.3,319.7 328.6,326.7 331.1,327.9 338.7,331.3 343.8,333.8 359,341 374.2,348.2 378.8,350.4 389.4,355.4 401.5,361.1 401.7,361.2 404.6,362.4 420,369.2 424.8,371.3 430.8,373.8 435.5,375.9 438.9,377.3 451,382.5 455.5,384.4 456.6,384.8 466.8,388.2 473.7,390.5 482.4,394.6 484.9,395.7 497.7,401.5 497.1,404 484.2,398.3 481.7,397.1 473,393 466.1,390.6 456,387.1 454.9,386.7 450.3,384.7 438.3,379.5 434.9,378 430.3,375.9 424.2,373.3 419.5,371.2 404.1,364.4 401.2,363.1 401,363 388.8,357.3 378.2,352.4 373.6,350.2 358.4,343 343.2,335.8 338,333.3 330.4,329.9 327.9,328.7 312.6,321.7 297.3,314.6 282.6,307.8 282.1,307.5 266.8,300.5 257.9,296.3 251.6,293.3 236.4,286 221.2,278.8 206,271.5 197.8,267.5 190.9,264.2 175.7,256.9 174.5,256.3 160.5,249.6 145.4,242.3 138,238.8 130.2,235 115,227.8" fill="url(#g44)"/>
<polygon points="115.3,227.2 130.5,234.4 138.3,238.1 145.7,241.7 160.8,249 174.8,255.7 176,256.2 191.2,263.6 198.1,266.9 206.3,270.8 221.5,278.1 236.7,285.4 251.8,292.6 258.2,295.6 267.1,299.8 282.3,306.8 282.9,307.1 297.6,313.9 312.9,320.9 328.2,328 330.7,329.1 338.3,332.6 343.4,335 358.6,342.3 373.8,349.5 378.4,351.7 389,356.6 401.2,362.3 401.4,362.3 404.3,363.6 419.7,370.5 424.4,372.6 430.5,375.1 435.1,377.2 438.5,378.7 450.6,383.9 455.1,385.8 456.2,386.2 466.4,389.7 473.3,392.1 482,396.2 484.5,397.3 497.3,403 496.6,405.6 483.7,399.9 481.3,398.7 472.6,394.6 465.7,392.2 455.5,388.6 454.5,388.2 449.9,386.2 438,380.8 434.6,379.3 429.9,377.2 423.9,374.6 419.2,372.5 403.8,365.6 400.9,364.3 400.7,364.2 388.5,358.6 377.8,353.7 373.2,351.5 358,344.3 342.7,337.1 337.6,334.6 330,331.2 327.5,330 312.2,322.9 296.9,315.8 282.2,309 281.6,308.7 266.3,301.6 257.4,297.5 251.1,294.5 235.9,287.2 220.7,279.9 205.6,272.6 197.3,268.6 190.4,265.3 175.2,258 174,257.4 160,250.7 144.9,243.4 137.5,239.8 129.7,236.1 114.5,228.8" fill="url(#g45)"/>
<polygon points="114.8,228.2 130,235.5 137.8,239.2 145.2,242.7 160.3,250 174.3,256.7 175.5,257.3 190.7,264.6 197.6,268 205.8,271.9 221,279.2 236.2,286.5 251.4,293.8 257.7,296.8 266.6,300.9 281.9,308 282.5,308.3 297.2,315.1 312.4,322.2 327.7,329.2 330.3,330.4 337.9,333.9 343,336.3 358.2,343.5 373.4,350.7 378,352.9 388.7,357.8 400.9,363.5 401.1,363.5 404,364.8 419.4,371.7 424.1,373.8 430.2,376.4 434.8,378.5 438.2,380 450.2,385.3 454.7,387.3 455.8,387.7 466,391.3 472.8,393.6 481.5,397.8 484,398.9 496.9,404.6 496.2,407.2 483.3,401.5 480.8,400.3 472.1,396.2 465.3,393.7 455.1,390.1 454,389.6 449.5,387.6 437.6,382.2 434.2,380.6 429.6,378.5 423.6,375.9 418.8,373.7 403.5,366.8 400.5,365.4 400.3,365.4 388.1,359.8 377.4,354.9 372.8,352.7 357.6,345.5 342.3,338.3 337.2,335.9 329.6,332.4 327,331.3 311.7,324.1 296.5,317 281.8,310.2 281.2,309.9 265.9,302.8 257,298.7 250.7,295.6 235.5,288.3 220.3,281 205.1,273.7 196.8,269.7 189.9,266.4 174.7,259 173.5,258.5 159.5,251.7 144.3,244.4 137,240.9 129.1,237.1 113.9,229.9" fill="url(#g46)"/>
<polygon points="114.3,229.2 129.5,236.5 137.3,240.2 144.7,243.8 159.8,251.1 173.8,257.8 175,258.4 190.2,265.7 197.1,269.1 205.4,273 220.6,280.3 235.7,287.6 250.9,294.9 257.3,298 266.2,302.1 281.4,309.2 282,309.5 296.7,316.3 312,323.4 327.3,330.5 329.8,331.7 337.4,335.1 342.6,337.6 357.8,344.8 373,352 377.7,354.2 388.3,359.1 400.5,364.6 400.7,364.7 403.7,366 419,373 423.8,375.1 429.8,377.7 434.4,379.8 437.8,381.4 449.8,386.7 454.3,388.8 455.4,389.2 465.6,392.8 472.4,395.2 481.1,399.4 483.6,400.6 496.5,406.2 495.8,408.8 482.9,403.1 480.4,401.9 471.7,397.7 464.9,395.2 454.7,391.5 453.6,391.1 449.2,389 437.2,383.5 433.8,381.9 429.3,379.8 423.2,377.1 418.5,375 403.1,368 400.2,366.6 400,366.6 387.8,361 377.1,356.2 372.4,354 357.2,346.8 341.9,339.6 336.8,337.2 329.1,333.7 326.6,332.5 311.3,325.4 296,318.3 281.3,311.4 280.7,311.1 265.4,304 256.5,299.8 250.2,296.8 235,289.5 219.8,282.1 204.6,274.8 196.3,270.8 189.4,267.5 174.2,260.1 173,259.5 159,252.8 143.8,245.5 136.4,241.9 128.6,238.2 113.4,230.9" fill="url(#g47)"/>
<polygon points="113.7,230.3 128.9,237.5 136.7,241.3 144.1,244.8 159.3,252.2 173.3,258.9 174.5,259.5 189.7,266.8 196.6,270.2 204.9,274.1 220.1,281.5 235.3,288.8 250.5,296.1 256.8,299.1 265.7,303.3 281,310.4 281.6,310.7 296.3,317.5 311.6,324.6 326.8,331.8 329.4,333 337,336.4 342.2,338.8 357.4,346 372.7,353.2 377.3,355.4 388,360.3 400.2,365.8 400.4,365.9 403.3,367.2 418.7,374.2 423.4,376.4 429.5,379 434.1,381.1 437.5,382.7 449.4,388.2 453.9,390.2 455,390.6 465.1,394.3 471.9,396.8 480.6,401 483.1,402.2 496.1,407.8 495.4,410.3 482.4,404.7 479.9,403.5 471.2,399.3 464.5,396.8 454.3,393 453.2,392.6 448.8,390.4 436.9,384.9 433.5,383.3 428.9,381.1 422.9,378.4 418.1,376.2 402.8,369.2 399.9,367.8 399.7,367.7 387.4,362.2 376.7,357.4 372,355.2 356.8,348 341.5,340.9 336.3,338.4 328.7,335 326.2,333.8 310.9,326.6 295.6,319.5 280.9,312.6 280.3,312.3 265,305.2 256.1,301 249.7,297.9 234.5,290.6 219.3,283.3 204.1,275.9 195.8,271.9 188.9,268.6 173.7,261.2 172.5,260.6 158.5,253.8 143.3,246.5 135.9,243 128.1,239.2 112.9,231.9" fill="url(#g48)"/>
<polygon points="113.2,231.3 128.4,238.6 136.2,242.3 143.6,245.9 158.8,253.2 172.8,260 174,260.5 189.2,267.9 196.1,271.3 204.4,275.3 219.6,282.6 234.8,289.9 250,297.2 256.4,300.3 265.3,304.5 280.6,311.6 281.1,311.9 295.8,318.7 311.1,325.9 326.4,333 329,334.2 336.6,337.7 341.7,340.1 357,347.3 372.3,354.5 376.9,356.7 387.6,361.5 399.9,367 400.1,367.1 403,368.4 418.3,375.5 423.1,377.6 429.1,380.3 433.7,382.5 437.1,384.1 449,389.6 453.5,391.7 454.6,392.1 464.7,395.8 471.5,398.4 480.2,402.6 482.7,403.8 495.6,409.4 495,411.9 482,406.3 479.5,405.1 470.8,400.9 464,398.3 453.9,394.5 452.8,394 448.4,391.9 436.5,386.2 433.1,384.6 428.6,382.4 422.5,379.7 417.8,377.5 402.5,370.4 399.6,369 399.4,368.9 387,363.5 376.3,358.7 371.7,356.5 356.4,349.3 341.1,342.1 335.9,339.7 328.3,336.3 325.7,335.1 310.4,327.9 295.1,320.7 280.4,313.8 279.8,313.5 264.5,306.3 255.6,302.2 249.3,299.1 234.1,291.7 218.9,284.4 203.6,277 195.4,273 188.4,269.6 173.2,262.3 172,261.7 158,254.9 142.8,247.6 135.4,244 127.6,240.3 112.3,233" fill="url(#g49)"/>
<polygon points="112.6,232.4 127.9,239.6 135.7,243.4 143.1,246.9 158.3,254.3 172.3,261 173.5,261.6 188.7,269 195.6,272.4 203.9,276.4 219.1,283.7 234.3,291 249.6,298.4 255.9,301.5 264.8,305.6 280.1,312.8 280.7,313.1 295.4,320 310.7,327.1 326,334.3 328.5,335.5 336.2,338.9 341.3,341.4 356.6,348.6 371.9,355.7 376.5,357.9 387.3,362.7 399.6,368.2 399.8,368.3 402.7,369.7 418,376.7 422.7,378.9 428.8,381.6 433.4,383.8 436.7,385.4 448.6,391 453.1,393.1 454.2,393.6 464.3,397.4 471.1,399.9 479.8,404.2 482.2,405.4 495.2,411 494.5,413.5 481.5,408 479,406.7 470.4,402.4 463.6,399.8 453.5,395.9 452.4,395.5 448,393.3 436.2,387.6 432.8,385.9 428.2,383.6 422.2,380.9 417.5,378.7 402.1,371.6 399.2,370.2 399,370.1 386.7,364.7 375.9,359.9 371.3,357.7 356,350.6 340.6,343.4 335.5,341 327.8,337.5 325.3,336.3 310,329.1 294.7,321.9 280,315 279.4,314.7 264.1,307.5 255.2,303.3 248.8,300.2 233.6,292.9 218.4,285.5 203.2,278.1 194.9,274.1 187.9,270.7 172.7,263.3 171.5,262.7 157.5,256 142.3,248.6 134.9,245 127,241.3 111.8,234" fill="url(#g50)"/>
<polygon points="112.1,233.4 127.4,240.7 135.2,244.4 142.6,248 157.8,255.3 171.8,262.1 173,262.7 188.2,270.1 195.2,273.5 203.4,277.5 218.7,284.8 233.9,292.2 249.1,299.5 255.4,302.6 264.4,306.8 279.7,314 280.2,314.3 295,321.2 310.2,328.4 325.5,335.6 328.1,336.8 335.7,340.2 340.9,342.6 356.2,349.8 371.5,357 376.2,359.2 386.9,363.9 399.2,369.4 399.4,369.5 402.3,370.9 417.7,378 422.4,380.2 428.4,382.9 433,385.1 436.4,386.7 448.2,392.4 452.7,394.6 453.8,395 463.9,398.9 470.6,401.5 479.3,405.8 481.8,407 494.8,412.6 494.1,415.1 481.1,409.6 478.6,408.3 469.9,404 463.2,401.4 453.1,397.4 452,396.9 447.6,394.7 435.8,388.9 432.4,387.2 427.9,384.9 421.9,382.2 417.1,380 401.8,372.8 398.9,371.4 398.7,371.3 386.3,365.9 375.5,361.2 370.9,359 355.6,351.8 340.2,344.7 335,342.2 327.4,338.8 324.8,337.6 309.5,330.4 294.2,323.1 279.5,316.2 278.9,315.9 263.6,308.7 254.7,304.5 248.4,301.4 233.1,294 217.9,286.6 202.7,279.2 194.4,275.2 187.5,271.8 172.3,264.4 171,263.8 157,257 141.8,249.7 134.4,246.1 126.5,242.4 111.2,235.1" fill="url(#g51)"/>
<polygon points="111.6,234.4 126.8,241.7 134.7,245.5 142.1,249 157.3,256.4 171.3,263.2 172.5,263.8 187.8,271.2 194.7,274.5 203,278.6 218.2,285.9 233.4,293.3 248.6,300.7 255,303.8 263.9,308 279.2,315.2 279.8,315.5 294.5,322.4 309.8,329.6 325.1,336.8 327.7,338 335.3,341.5 340.5,343.9 355.8,351.1 371.1,358.2 375.8,360.4 386.6,365.2 398.9,370.6 399.1,370.7 402,372.1 417.3,379.2 422.1,381.4 428.1,384.2 432.6,386.4 436,388.1 447.8,393.9 452.3,396.1 453.4,396.5 463.4,400.4 470.2,403.1 478.9,407.4 481.3,408.6 494.4,414.1 493.7,416.7 480.6,411.2 478.2,409.9 469.5,405.6 462.8,402.9 452.7,398.9 451.6,398.4 447.2,396.2 435.4,390.2 432.1,388.5 427.5,386.2 421.5,383.5 416.8,381.2 401.5,374 398.6,372.6 398.4,372.5 386,367.1 375.2,362.4 370.5,360.3 355.2,353.1 339.8,345.9 334.6,343.5 327,340.1 324.4,338.9 309.1,331.6 293.8,324.4 279.1,317.4 278.5,317.1 263.2,309.9 254.3,305.6 247.9,302.6 232.7,295.1 217.4,287.7 202.2,280.3 193.9,276.3 187,272.9 171.8,265.5 170.5,264.9 156.5,258.1 141.3,250.7 133.8,247.1 126,243.4 110.7,236.1" fill="url(#g52)"/>
<polygon points="111,235.5 126.3,242.8 134.1,246.5 141.6,250.1 156.8,257.5 170.8,264.2 172.1,264.8 187.3,272.3 194.2,275.6 202.5,279.7 217.7,287.1 232.9,294.5 248.2,301.9 254.5,304.9 263.5,309.2 278.8,316.4 279.3,316.7 294.1,323.6 309.4,330.9 324.7,338.1 327.2,339.3 334.9,342.8 340.1,345.2 355.4,352.3 370.7,359.5 375.4,361.7 386.2,366.4 398.6,371.8 398.8,371.9 401.7,373.3 417,380.5 421.7,382.7 427.7,385.5 432.3,387.7 435.6,389.4 447.4,395.3 451.9,397.5 453,398 463,402 469.8,404.6 478.4,409 480.9,410.2 494,415.7 493.3,418.3 480.2,412.8 477.7,411.5 469.1,407.2 462.3,404.4 452.3,400.3 451.2,399.9 446.8,397.6 435.1,391.6 431.7,389.9 427.2,387.5 421.2,384.7 416.5,382.5 401.2,375.2 398.2,373.8 398,373.7 385.6,368.4 374.8,363.7 370.1,361.5 354.7,354.4 339.4,347.2 334.2,344.8 326.5,341.3 324,340.1 308.7,332.9 293.4,325.6 278.6,318.6 278,318.3 262.7,311 253.8,306.8 247.4,303.7 232.2,296.3 217,288.9 201.7,281.4 193.4,277.4 186.5,274 171.3,266.5 170.1,265.9 156,259.2 140.7,251.8 133.3,248.2 125.5,244.4 110.2,237.1" fill="url(#g53)"/>
<polygon points="110.5,236.5 125.8,243.8 133.6,247.6 141,251.1 156.3,258.5 170.4,265.3 171.6,265.9 186.8,273.3 193.7,276.7 202,280.8 217.2,288.2 232.5,295.6 247.7,303 254.1,306.1 263,310.3 278.3,317.6 278.9,317.9 293.6,324.8 308.9,332.1 324.2,339.4 326.8,340.6 334.4,344 339.6,346.4 355,353.6 370.3,360.8 375,362.9 385.8,367.6 398.2,373 398.4,373.1 401.4,374.5 416.7,381.7 421.4,384 427.4,386.7 431.9,389.1 435.3,390.8 447,396.7 451.5,399 452.6,399.5 462.6,403.5 469.3,406.2 478,410.6 480.5,411.8 493.5,417.3 492.9,419.9 479.7,414.4 477.3,413.1 468.6,408.7 461.9,405.9 451.9,401.8 450.8,401.3 446.4,399 434.7,392.9 431.4,391.2 426.8,388.8 420.8,386 416.1,383.7 400.8,376.4 397.9,375 397.7,374.9 385.3,369.6 374.4,364.9 369.7,362.8 354.3,355.6 339,348.5 333.8,346.1 326.1,342.6 323.5,341.4 308.2,334.1 292.9,326.8 278.2,319.8 277.6,319.5 262.3,312.2 253.4,308 247,304.9 231.7,297.4 216.5,290 201.2,282.5 192.9,278.5 186,275.1 170.8,267.6 169.6,267 155.5,260.2 140.2,252.8 132.8,249.2 124.9,245.5 109.6,238.2" fill="url(#g54)"/>
<polygon points="109.9,237.6 125.2,244.9 133.1,248.6 140.5,252.2 155.8,259.6 169.9,266.4 171.1,267 186.3,274.4 193.2,277.8 201.5,281.9 216.8,289.3 232,296.7 247.3,304.2 253.6,307.3 262.5,311.5 277.9,318.8 278.4,319.1 293.2,326.1 308.5,333.4 323.8,340.6 326.4,341.9 334,345.3 339.2,347.7 354.6,354.9 370,362 374.6,364.2 385.5,368.8 397.9,374.2 398.1,374.3 401,375.7 416.3,383 421,385.2 427,388 431.6,390.4 434.9,392.1 446.7,398.2 451.1,400.4 452.1,400.9 462.2,405 468.9,407.8 477.5,412.2 480,413.4 493.1,418.9 492.4,421.4 479.3,416 476.8,414.7 468.2,410.3 461.5,407.5 451.5,403.3 450.4,402.8 446,400.4 434.3,394.3 431,392.5 426.5,390.1 420.5,387.3 415.8,385 400.5,377.6 397.6,376.2 397.4,376.1 384.9,370.8 374,366.2 369.4,364 353.9,356.9 338.5,349.7 333.3,347.3 325.7,343.9 323.1,342.7 307.8,335.3 292.5,328 277.7,321 277.1,320.7 261.8,313.4 252.9,309.1 246.5,306 231.3,298.6 216,291.1 200.8,283.6 192.5,279.6 185.5,276.2 170.3,268.7 169.1,268.1 155,261.3 139.7,253.9 132.3,250.3 124.4,246.5 109.1,239.2" fill="url(#g55)"/>
<polygon points="109.4,238.6 124.7,245.9 132.6,249.7 140,253.3 155.3,260.6 169.4,267.4 170.6,268 185.8,275.5 192.7,278.9 201,283 216.3,290.4 231.5,297.9 246.8,305.3 253.2,308.4 262.1,312.7 277.4,320 278,320.2 292.7,327.3 308,334.6 323.4,341.9 325.9,343.1 333.6,346.6 338.8,349 354.2,356.1 369.6,363.3 374.3,365.4 385.1,370.1 397.6,375.4 397.8,375.5 400.7,376.9 416,384.2 420.7,386.5 426.7,389.3 431.2,391.7 434.6,393.5 446.3,399.6 450.7,401.9 451.7,402.4 461.7,406.6 468.5,409.3 477.1,413.8 479.6,415 492.7,420.5 492,423 478.9,417.6 476.4,416.3 467.8,411.9 461.1,409 451.1,404.7 450,404.2 445.6,401.9 434,395.6 430.7,393.8 426.2,391.4 420.2,388.5 415.4,386.2 400.2,378.8 397.3,377.4 397.1,377.3 384.6,372 373.7,367.4 369,365.3 353.5,358.1 338.1,351 332.9,348.6 325.2,345.2 322.7,343.9 307.3,336.6 292,329.2 277.3,322.2 276.7,321.9 261.4,314.6 252.4,310.3 246.1,307.2 230.8,299.7 215.5,292.2 200.3,284.7 192,280.7 185,277.3 169.8,269.8 168.6,269.2 154.5,262.3 139.2,254.9 131.7,251.3 123.9,247.6 108.5,240.3" fill="url(#g56)"/>
<polygon points="108.9,239.6 124.2,246.9 132.1,250.7 139.5,254.3 154.8,261.7 168.9,268.5 170.1,269.1 185.3,276.6 192.3,280 200.6,284.1 215.8,291.5 231.1,299 246.3,306.5 252.7,309.6 261.6,313.9 277,321.2 277.5,321.4 292.3,328.5 307.6,335.8 322.9,343.2 325.5,344.4 333.2,347.8 338.4,350.2 353.8,357.4 369.2,364.5 373.9,366.7 384.8,371.3 397.3,376.6 397.5,376.6 400.4,378.1 415.6,385.5 420.4,387.8 426.4,390.6 430.9,393 434.2,394.8 445.9,401 450.3,403.4 451.3,403.9 461.3,408.1 468,410.9 476.7,415.4 479.1,416.6 492.3,422.1 491.6,424.6 478.4,419.2 476,417.9 467.3,413.4 460.6,410.5 450.7,406.2 449.6,405.7 445.2,403.3 433.6,397 430.3,395.1 425.8,392.7 419.8,389.8 415.1,387.5 399.8,380 396.9,378.6 396.7,378.5 384.2,373.2 373.3,368.7 368.6,366.5 353.1,359.4 337.7,352.3 332.5,349.9 324.8,346.4 322.2,345.2 306.9,337.8 291.6,330.5 276.8,323.4 276.3,323.1 260.9,315.7 252,311.5 245.6,308.3 230.3,300.8 215.1,293.3 199.8,285.9 191.5,281.8 184.5,278.3 169.3,270.8 168.1,270.2 154,263.4 138.7,256 131.2,252.4 123.4,248.6 108,241.3" fill="url(#g57)"/>
<polygon points="108.3,240.7 123.7,248 131.5,251.7 139,255.4 154.3,262.8 168.4,269.6 169.6,270.2 184.8,277.7 191.8,281.1 200.1,285.2 215.4,292.7 230.6,300.2 245.9,307.6 252.3,310.8 261.2,315 276.5,322.4 277.1,322.6 291.8,329.7 307.2,337.1 322.5,344.4 325.1,345.7 332.7,349.1 337.9,351.5 353.4,358.6 368.8,365.8 373.5,367.9 384.4,372.5 396.9,377.8 397.1,377.8 400,379.3 415.3,386.7 420,389 426,391.9 430.5,394.3 433.8,396.2 445.5,402.4 449.9,404.8 450.9,405.3 460.9,409.6 467.6,412.5 476.2,417 478.7,418.3 491.9,423.7 491.2,426.2 478,420.8 475.5,419.5 466.9,415 460.2,412.1 450.3,407.7 449.2,407.2 444.9,404.7 433.2,398.3 429.9,396.5 425.5,394 419.5,391.1 414.8,388.7 399.5,381.2 396.6,379.7 396.4,379.7 383.9,374.5 372.9,369.9 368.2,367.8 352.7,360.7 337.3,353.5 332,351.1 324.4,347.7 321.8,346.5 306.5,339.1 291.1,331.7 276.4,324.6 275.8,324.3 260.5,316.9 251.5,312.6 245.1,309.5 229.9,302 214.6,294.5 199.3,287 191,282.9 184.1,279.4 168.8,271.9 167.6,271.3 153.5,264.5 138.2,257 130.7,253.4 122.8,249.7 107.5,242.3" fill="url(#g58)"/>
<polygon points="107.8,241.7 123.1,249 131,252.8 138.5,256.4 153.8,263.8 167.9,270.7 169.1,271.3 184.3,278.8 191.3,282.2 199.6,286.3 214.9,293.8 230.2,301.3 245.4,308.8 251.8,311.9 260.7,316.2 276.1,323.6 276.6,323.8 291.4,330.9 306.7,338.3 322.1,345.7 324.6,346.9 332.3,350.4 337.5,352.8 353,359.9 368.4,367 373.1,369.2 384.1,373.7 396.6,378.9 396.8,379 399.7,380.5 415,388 419.7,390.3 425.7,393.2 430.2,395.7 433.5,397.5 445.1,403.9 449.5,406.3 450.5,406.8 460.5,411.1 467.1,414.1 475.8,418.6 478.2,419.9 491.4,425.3 490.8,427.8 477.5,422.4 475.1,421.1 466.4,416.6 459.8,413.6 449.9,409.2 448.8,408.6 444.5,406.2 432.9,399.6 429.6,397.8 425.1,395.2 419.1,392.3 414.4,390 399.2,382.4 396.3,380.9 396.1,380.9 383.5,375.7 372.5,371.2 367.8,369 352.3,361.9 336.9,354.8 331.6,352.4 323.9,349 321.4,347.7 306,340.3 290.7,332.9 275.9,325.8 275.4,325.5 260,318.1 251.1,313.8 244.7,310.6 229.4,303.1 214.1,295.6 198.8,288.1 190.5,284 183.6,280.5 168.3,273 167.1,272.4 153,265.5 137.6,258.1 130.2,254.5 122.3,250.7 106.9,243.4" fill="url(#g59)"/>
<polygon points="107.2,242.8 122.6,250.1 130.5,253.8 138,257.5 153.3,264.9 167.4,271.7 168.6,272.3 183.9,279.9 190.8,283.3 199.1,287.4 214.4,294.9 229.7,302.4 245,309.9 251.3,313.1 260.3,317.4 275.6,324.8 276.2,325 291,332.2 306.3,339.6 321.6,347 324.2,348.2 331.9,351.6 337.1,354.1 352.6,361.2 368,368.3 372.8,370.4 383.7,375 396.3,380.1 396.5,380.2 399.4,381.7 414.6,389.2 419.3,391.6 425.3,394.5 429.8,397 433.1,398.8 444.7,405.3 449.1,407.7 450.1,408.3 460,412.7 466.7,415.6 475.3,420.2 477.8,421.5 491,426.8 490.3,429.4 477.1,424 474.6,422.7 466,418.1 459.4,415.1 449.5,410.6 448.4,410.1 444.1,407.6 432.5,401 429.2,399.1 424.8,396.5 418.8,393.6 414.1,391.2 398.9,383.6 396,382.1 395.8,382 383.1,376.9 372.1,372.4 367.4,370.3 351.9,363.2 336.4,356.1 331.2,353.7 323.5,350.2 320.9,349 305.6,341.6 290.2,334.1 275.5,327 274.9,326.7 259.6,319.3 250.6,314.9 244.2,311.8 228.9,304.3 213.7,296.7 198.4,289.2 190,285.1 183.1,281.6 167.8,274 166.6,273.4 152.5,266.6 137.1,259.1 129.7,255.5 121.8,251.8 106.4,244.4" fill="url(#g60)"/>
<polygon points="106.7,243.8 122.1,251.1 130,254.9 137.4,258.5 152.8,265.9 166.9,272.8 168.1,273.4 183.4,281 190.3,284.4 198.7,288.5 213.9,296 229.2,303.6 244.5,311.1 250.9,314.2 259.8,318.6 275.2,326 275.8,326.2 290.5,333.4 305.8,340.8 321.2,348.2 323.7,349.5 331.4,352.9 336.7,355.3 352.2,362.4 367.7,369.5 372.4,371.7 383.4,376.2 395.9,381.3 396.2,381.4 399.1,382.9 414.3,390.5 419,392.8 425,395.8 429.4,398.3 432.7,400.2 444.3,406.7 448.7,409.2 449.7,409.7 459.6,414.2 466.3,417.2 474.9,421.8 477.4,423.1 490.6,428.4 489.9,431 476.6,425.7 474.2,424.3 465.6,419.7 458.9,416.6 449.1,412.1 448,411.5 443.7,409 432.2,402.3 428.9,400.4 424.4,397.8 418.4,394.9 413.8,392.5 398.5,384.8 395.6,383.3 395.4,383.2 382.8,378.1 371.8,373.7 367,371.5 351.5,364.4 336,357.3 330.8,355 323,351.5 320.5,350.3 305.1,342.8 289.8,335.3 275,328.2 274.5,327.9 259.1,320.4 250.2,316.1 243.8,312.9 228.5,305.4 213.2,297.8 197.9,290.3 189.6,286.2 182.6,282.7 167.3,275.1 166.1,274.5 152,267.6 136.6,260.2 129.1,256.6 121.2,252.8 105.8,245.5" fill="url(#g61)"/>
<polygon points="106.2,244.8 121.6,252.2 129.5,255.9 136.9,259.6 152.3,267 166.4,273.9 167.6,274.5 182.9,282 189.8,285.5 198.2,289.6 213.5,297.2 228.8,304.7 244,312.3 250.4,315.4 259.4,319.7 274.7,327.2 275.3,327.4 290.1,334.6 305.4,342.1 320.7,349.5 323.3,350.8 331,354.2 336.3,356.6 351.8,363.7 367.3,370.8 372,372.9 383,377.4 395.6,382.5 395.8,382.6 398.7,384.1 414,391.7 418.7,394.1 424.6,397.1 429.1,399.6 432.4,401.5 443.9,408.2 448.3,410.7 449.3,411.2 459.2,415.7 465.8,418.8 474.4,423.4 476.9,424.7 490.2,430 489.5,432.6 476.2,427.3 473.7,425.9 465.1,421.3 458.5,418.2 448.7,413.6 447.6,413 443.3,410.4 431.8,403.7 428.5,401.7 424.1,399.1 418.1,396.1 413.4,393.7 398.2,386 395.3,384.5 395.1,384.4 382.4,379.4 371.4,374.9 366.7,372.8 351.1,365.7 335.6,358.6 330.3,356.2 322.6,352.8 320,351.5 304.7,344.1 289.4,336.6 274.6,329.4 274,329.1 258.7,321.6 249.7,317.3 243.3,314.1 228,306.5 212.7,299 197.4,291.4 189.1,287.3 182.1,283.8 166.8,276.2 165.6,275.6 151.5,268.7 136.1,261.2 128.6,257.6 120.7,253.8 105.3,246.5" fill="url(#g62)"/>
<polygon points="105.6,245.9 121,253.2 128.9,257 136.4,260.6 151.8,268.1 165.9,274.9 167.1,275.5 182.4,283.1 189.4,286.6 197.7,290.7 213,298.3 228.3,305.8 243.6,313.4 250,316.6 258.9,320.9 274.3,328.4 274.9,328.6 289.6,335.8 305,343.3 320.3,350.8 322.9,352 330.6,355.5 335.8,357.9 351.4,364.9 366.9,372 371.6,374.2 382.7,378.6 395.3,383.7 395.5,383.8 398.4,385.3 413.6,393 418.3,395.4 424.3,398.3 428.7,400.9 432,402.9 443.5,409.6 447.9,412.1 448.9,412.7 458.8,417.3 465.4,420.3 474,425 476.5,426.3 489.8,431.6 489.1,434.1 475.8,428.9 473.3,427.5 464.7,422.9 458.1,419.7 448.3,415 447.2,414.5 442.9,411.9 431.4,405 428.2,403.1 423.7,400.4 417.8,397.4 413.1,395 397.9,387.2 395,385.7 394.8,385.6 382.1,380.6 371,376.2 366.3,374 350.7,367 335.2,359.9 329.9,357.5 322.2,354.1 319.6,352.8 304.3,345.3 288.9,337.8 274.1,330.6 273.6,330.3 258.2,322.8 249.3,318.4 242.9,315.3 227.5,307.7 212.2,300.1 196.9,292.5 188.6,288.3 181.6,284.9 166.3,277.3 165.1,276.7 151,269.8 135.6,262.3 128.1,258.7 120.2,254.9 104.8,247.5" fill="url(#g63)"/>
<polygon points="105.1,246.9 120.5,254.3 128.4,258 135.9,261.7 151.3,269.1 165.4,276 166.6,276.6 181.9,284.2 188.9,287.7 197.2,291.8 212.5,299.4 227.8,307 243.1,314.6 249.5,317.7 258.5,322.1 273.8,329.6 274.4,329.8 289.2,337.1 304.5,344.5 319.9,352 322.4,353.3 330.2,356.7 335.4,359.1 351,366.2 366.5,373.3 371.2,375.4 382.3,379.8 395,384.9 395.2,385 398.1,386.5 413.3,394.2 418,396.6 423.9,399.6 428.4,402.3 431.6,404.2 443.1,411 447.5,413.6 448.5,414.1 458.4,418.8 465,421.9 473.6,426.6 476,427.9 489.3,433.2 488.7,435.7 475.3,430.5 472.9,429.1 464.3,424.4 457.7,421.2 447.9,416.5 446.8,415.9 442.5,413.3 431.1,406.4 427.8,404.4 423.4,401.7 417.4,398.7 412.7,396.2 397.5,388.4 394.6,386.9 394.4,386.8 381.7,381.8 370.6,377.4 365.9,375.3 350.3,368.2 334.7,361.2 329.5,358.8 321.7,355.3 319.2,354.1 303.8,346.5 288.5,339 273.7,331.8 273.1,331.5 257.7,324 248.8,319.6 242.4,316.4 227.1,308.8 211.8,301.2 196.4,293.6 188.1,289.4 181.1,286 165.8,278.3 164.6,277.7 150.4,270.8 135.1,263.3 127.6,259.7 119.7,255.9 104.2,248.6" fill="url(#g64)"/>
<polygon points="104.5,248 120,255.3 127.9,259.1 135.4,262.7 150.8,270.2 164.9,277.1 166.1,277.7 181.4,285.3 188.4,288.8 196.7,292.9 212,300.5 227.4,308.1 242.7,315.7 249.1,318.9 258,323.3 273.4,330.8 274,331 288.7,338.3 304.1,345.8 319.4,353.3 322,354.6 329.7,358 335,360.4 350.6,367.5 366.1,374.5 370.9,376.7 381.9,381.1 394.6,386.1 394.8,386.2 397.7,387.7 412.9,395.5 417.6,397.9 423.6,400.9 428,403.6 431.3,405.6 442.7,412.4 447.1,415 448.1,415.6 457.9,420.3 464.5,423.5 473.1,428.2 475.6,429.5 488.9,434.8 488.2,437.3 474.9,432.1 472.4,430.7 463.8,426 457.2,422.8 447.5,418 446.4,417.4 442.1,414.7 430.7,407.7 427.5,405.7 423,403 417.1,399.9 412.4,397.5 397.2,389.6 394.3,388.1 394.1,388 381.4,383 370.3,378.7 365.5,376.5 349.9,369.5 334.3,362.4 329.1,360 321.3,356.6 318.7,355.3 303.4,347.8 288,340.2 273.2,333 272.7,332.7 257.3,325.1 248.3,320.8 241.9,317.6 226.6,309.9 211.3,302.3 196,294.7 187.6,290.5 180.6,287.1 165.3,279.4 164.1,278.8 149.9,271.9 134.6,264.4 127.1,260.7 119.1,257 103.7,249.6" fill="url(#g65)"/>
<polygon points="104,249 119.5,256.3 127.4,260.1 134.9,263.8 150.2,271.3 164.4,278.2 165.6,278.8 180.9,286.4 187.9,289.9 196.3,294 211.6,301.6 226.9,309.3 242.2,316.9 248.6,320.1 257.6,324.4 272.9,331.9 273.5,332.2 288.3,339.5 303.6,347 319,354.6 321.6,355.8 329.3,359.3 334.6,361.7 350.2,368.7 365.7,375.8 370.5,377.9 381.6,382.3 394.3,387.3 394.5,387.4 397.4,388.9 412.6,396.7 417.3,399.2 423.3,402.2 427.7,404.9 430.9,406.9 442.4,413.9 446.7,416.5 447.7,417.1 457.5,421.9 464.1,425 472.7,429.8 475.1,431.1 488.5,436.4 487.8,438.9 474.4,433.7 472,432.3 463.4,427.6 456.8,424.3 447,419.4 446,418.8 441.7,416.2 430.3,409.1 427.1,407 422.7,404.3 416.7,401.2 412.1,398.7 396.9,390.8 394,389.3 393.8,389.2 381,384.3 369.9,379.9 365.1,377.8 349.5,370.7 333.9,363.7 328.6,361.3 320.9,357.9 318.3,356.6 302.9,349 287.6,341.4 272.8,334.1 272.2,333.9 256.8,326.3 247.9,321.9 241.5,318.7 226.2,311.1 210.8,303.4 195.5,295.8 187.1,291.6 180.2,288.1 164.8,280.5 163.6,279.9 149.4,273 134,265.4 126.5,261.8 118.6,258 103.1,250.7" fill="url(#g66)"/>
<polygon points="103.5,250 118.9,257.4 126.9,261.2 134.4,264.8 149.7,272.3 163.9,279.2 165.1,279.8 180.4,287.5 187.4,291 195.8,295.1 211.1,302.8 226.4,310.4 241.8,318 248.2,321.2 257.1,325.6 272.5,333.1 273.1,333.4 287.8,340.7 303.2,348.3 318.6,355.8 321.1,357.1 328.9,360.5 334.2,362.9 349.8,370 365.4,377 370.1,379.2 381.2,383.5 394,388.5 394.2,388.6 397.1,390.1 412.3,398 417,400.4 422.9,403.5 427.3,406.2 430.6,408.3 442,415.3 446.3,418 447.3,418.6 457.1,423.4 463.7,426.6 472.2,431.4 474.7,432.7 488.1,437.9 487.4,440.5 474,435.3 471.5,433.9 463,429.1 456.4,425.8 446.6,420.9 445.6,420.3 441.3,417.6 430,410.4 426.7,408.3 422.4,405.6 416.4,402.5 411.7,400 396.6,392 393.7,390.5 393.5,390.4 380.7,385.5 369.5,381.2 364.7,379 349.1,372 333.5,365 328.2,362.6 320.4,359.1 317.9,357.9 302.5,350.3 287.1,342.7 272.3,335.3 271.8,335.1 256.4,327.5 247.4,323.1 241,319.9 225.7,312.2 210.3,304.6 195,296.9 186.7,292.7 179.7,289.2 164.3,281.5 163.1,280.9 148.9,274 133.5,266.5 126,262.8 118.1,259.1 102.6,251.7" fill="url(#g67)"/>
<polygon points="102.9,251.1 118.4,258.4 126.3,262.2 133.8,265.9 149.2,273.4 163.4,280.3 164.6,280.9 180,288.6 186.9,292.1 195.3,296.2 210.6,303.9 226,311.5 241.3,319.2 247.7,322.4 256.7,326.8 272,334.3 272.6,334.6 287.4,341.9 302.8,349.5 318.1,357.1 320.7,358.4 328.5,361.8 333.7,364.2 349.4,371.2 365,378.3 369.7,380.4 380.9,384.7 393.7,389.7 393.9,389.7 396.7,391.3 411.9,399.2 416.6,401.7 422.6,404.8 427,407.6 430.2,409.6 441.6,416.7 445.9,419.4 446.9,420 456.7,424.9 463.2,428.2 471.8,433 474.2,434.3 487.6,439.5 487,442.1 473.5,436.9 471.1,435.5 462.5,430.7 456,427.4 446.2,422.4 445.2,421.8 440.9,419 429.6,411.7 426.4,409.7 422,406.8 416.1,403.7 411.4,401.2 396.2,393.2 393.3,391.7 393.1,391.6 380.3,386.7 369.1,382.4 364.4,380.3 348.7,373.3 333.1,366.2 327.8,363.9 320,360.4 317.4,359.1 302.1,351.5 286.7,343.9 271.9,336.5 271.3,336.3 255.9,328.7 247,324.2 240.6,321 225.2,313.4 209.9,305.7 194.5,298 186.2,293.8 179.2,290.3 163.8,282.6 162.6,282 148.4,275.1 133,267.5 125.5,263.9 117.6,260.1 102.1,252.7" fill="url(#g68)"/>
<polygon points="102.4,252.1 117.9,259.5 125.8,263.3 133.3,266.9 148.7,274.4 162.9,281.4 164.1,282 179.5,289.7 186.5,293.2 194.8,297.3 210.2,305 225.5,312.7 240.8,320.3 247.2,323.5 256.2,328 271.6,335.5 272.2,335.8 287,343.2 302.3,350.8 317.7,358.4 320.3,359.7 328,363.1 333.3,365.5 349,372.5 364.6,379.5 369.3,381.7 380.5,386 393.3,390.9 393.5,390.9 396.4,392.5 411.6,400.5 416.3,403 422.2,406.1 426.6,408.9 429.8,410.9 441.2,418.2 445.5,420.9 446.5,421.5 456.2,426.4 462.8,429.8 471.4,434.6 473.8,436 487.2,441.1 486.6,443.7 473.1,438.5 470.6,437.1 462.1,432.3 455.6,428.9 445.8,423.8 444.8,423.2 440.6,420.4 429.3,413.1 426,411 421.7,408.1 415.7,405 411.1,402.5 395.9,394.4 393,392.8 392.8,392.8 380,387.9 368.7,383.7 364,381.6 348.3,374.5 332.6,367.5 327.3,365.1 319.6,361.7 317,360.4 301.6,352.8 286.2,345.1 271.5,337.7 270.9,337.5 255.5,329.8 246.5,325.4 240.1,322.2 224.8,314.5 209.4,306.8 194,299.1 185.7,294.9 178.7,291.4 163.3,283.7 162.1,283.1 147.9,276.1 132.5,268.6 125,264.9 117,261.1 101.5,253.8" fill="url(#g69)"/>
<polygon points="101.8,253.2 117.3,260.5 125.3,264.3 132.8,268 148.2,275.5 162.4,282.4 163.6,283 179,290.8 186,294.3 194.3,298.4 209.7,306.1 225,313.8 240.4,321.5 246.8,324.7 255.8,329.1 271.1,336.7 271.7,337 286.5,344.4 301.9,352 317.3,359.7 319.8,360.9 327.6,364.4 332.9,366.7 348.6,373.8 364.2,380.8 369,382.9 380.2,387.2 393,392.1 393.2,392.1 396.1,393.7 411.3,401.7 415.9,404.2 421.9,407.4 426.2,410.2 429.5,412.3 440.8,419.6 445.1,422.3 446.1,423 455.8,428 462.3,431.3 470.9,436.2 473.4,437.6 486.8,442.7 486.1,445.2 472.6,440.1 470.2,438.7 461.6,433.8 455.1,430.4 445.4,425.3 444.4,424.7 440.2,421.9 428.9,414.4 425.7,412.3 421.3,409.4 415.4,406.3 410.7,403.8 395.6,395.6 392.7,394 392.5,394 379.6,389.1 368.4,384.9 363.6,382.8 347.9,375.8 332.2,368.8 326.9,366.4 319.1,363 316.6,361.7 301.2,354 285.8,346.3 271,338.9 270.4,338.7 255,331 246.1,326.6 239.6,323.3 224.3,315.6 208.9,307.9 193.6,300.2 185.2,296 178.2,292.5 162.9,284.8 161.6,284.2 147.4,277.2 132,269.7 124.5,266 116.5,262.2 101,254.8" fill="url(#g70)"/>
<polygon points="101.3,254.2 116.8,261.6 124.8,265.3 132.3,269 147.7,276.6 161.9,283.5 163.1,284.1 178.5,291.8 185.5,295.4 193.9,299.5 209.2,307.2 224.6,314.9 239.9,322.7 246.3,325.9 255.3,330.3 270.7,337.9 271.3,338.2 286.1,345.6 301.4,353.3 316.8,360.9 319.4,362.2 327.2,365.6 332.5,368 348.1,375 363.8,382.1 368.6,384.2 379.8,388.4 392.7,393.2 392.9,393.3 395.8,394.9 410.9,403 415.6,405.5 421.5,408.7 425.9,411.5 429.1,413.6 440.4,421 444.7,423.8 445.7,424.4 455.4,429.5 461.9,432.9 470.5,437.8 472.9,439.2 486.4,444.3 485.7,446.8 472.2,441.7 469.8,440.3 461.2,435.4 454.7,431.9 445,426.8 444,426.1 439.8,423.3 428.5,415.8 425.3,413.6 421,410.7 415,407.5 410.4,405 395.2,396.8 392.4,395.2 392.1,395.2 379.3,390.4 368,386.2 363.2,384.1 347.5,377 331.8,370 326.5,367.7 318.7,364.2 316.1,362.9 300.7,355.2 285.4,347.6 270.6,340.1 270,339.9 254.6,332.2 245.6,327.7 239.2,324.5 223.8,316.8 208.5,309 193.1,301.3 184.7,297.1 177.7,293.6 162.4,285.8 161.1,285.2 146.9,278.3 131.5,270.7 123.9,267 116,263.2 100.4,255.9" fill="url(#g71)"/>
<polygon points="100.8,255.2 116.3,262.6 124.3,266.4 131.8,270.1 147.2,277.6 161.4,284.6 162.7,285.2 178,292.9 185,296.4 193.4,300.7 208.7,308.4 224.1,316.1 239.5,323.8 245.9,327 254.8,331.5 270.2,339.1 270.8,339.4 285.6,346.8 301,354.5 316.4,362.2 319,363.5 326.7,366.9 332.1,369.3 347.7,376.3 363.4,383.3 368.2,385.4 379.5,389.6 392.3,394.4 392.6,394.5 395.4,396.1 410.6,404.3 415.2,406.8 421.2,409.9 425.5,412.8 428.7,415 440,422.4 444.3,425.3 445.3,425.9 455,431 461.5,434.5 470,439.4 472.5,440.8 486,445.9 485.3,448.4 471.8,443.4 469.3,441.9 460.8,437 454.3,433.5 444.6,428.3 443.6,427.6 439.4,424.7 428.2,417.1 425,415 420.6,412 414.7,408.8 410,406.3 394.9,398 392,396.4 391.8,396.3 378.9,391.6 367.6,387.4 362.8,385.3 347.1,378.3 331.4,371.3 326.1,368.9 318.3,365.5 315.7,364.2 300.3,356.5 284.9,348.8 270.1,341.3 269.5,341.1 254.1,333.4 245.2,328.9 238.7,325.7 223.4,317.9 208,310.2 192.6,302.4 184.2,298.2 177.2,294.7 161.9,286.9 160.6,286.3 146.4,279.3 131,271.8 123.4,268.1 115.4,264.3 99.9,256.9" fill="url(#g72)"/>
<polygon points="100.2,256.3 115.8,263.7 123.7,267.4 131.3,271.1 146.7,278.7 160.9,285.7 162.2,286.3 177.5,294 184.5,297.5 192.9,301.8 208.3,309.5 223.6,317.2 239,325 245.4,328.2 254.4,332.7 269.8,340.3 270.4,340.6 285.2,348 300.6,355.7 316,363.5 318.5,364.7 326.3,368.2 331.6,370.5 347.3,377.6 363.1,384.6 367.8,386.7 379.1,390.9 392,395.6 392.2,395.7 395.1,397.3 410.2,405.5 414.9,408 420.8,411.2 425.2,414.2 428.4,416.3 439.6,423.9 443.8,426.7 444.9,427.4 454.5,432.6 461,436 469.6,441 472,442.4 485.5,447.5 484.9,450 471.3,445 468.9,443.5 460.3,438.6 453.9,435 444.2,429.7 443.2,429.1 439,426.2 427.8,418.5 424.6,416.3 420.3,413.3 414.4,410.1 409.7,407.5 394.6,399.2 391.7,397.6 391.5,397.5 378.5,392.8 367.2,388.7 362.4,386.6 346.7,379.6 331,372.6 325.6,370.2 317.8,366.8 315.3,365.5 299.9,357.7 284.5,350 269.7,342.5 269.1,342.2 253.7,334.5 244.7,330.1 238.3,326.8 222.9,319 207.5,311.3 192.1,303.5 183.8,299.3 176.7,295.8 161.4,288 160.1,287.4 145.9,280.4 130.4,272.8 122.9,269.1 114.9,265.3 99.4,257.9" fill="url(#g73)"/>
<polygon points="99.7,257.3 115.2,264.7 123.2,268.5 130.7,272.2 146.2,279.7 160.4,286.7 161.7,287.3 177,295.1 184,298.6 192.4,302.9 207.8,310.6 223.2,318.4 238.5,326.1 245,329.4 253.9,333.8 269.3,341.5 269.9,341.8 284.7,349.3 300.1,357 315.5,364.7 318.1,366 325.9,369.4 331.2,371.8 346.9,378.8 362.7,385.8 367.5,387.9 378.8,392.1 391.7,396.8 391.9,396.9 394.8,398.5 409.9,406.8 414.6,409.3 420.5,412.5 424.8,415.5 428,417.7 439.2,425.3 443.4,428.2 444.5,428.8 454.1,434.1 460.6,437.6 469.1,442.6 471.6,444 485.1,449 484.5,451.6 470.9,446.6 468.4,445.1 459.9,440.1 453.4,436.5 443.8,431.2 442.8,430.5 438.6,427.6 427.4,419.8 424.3,417.6 419.9,414.6 414,411.3 409.4,408.8 394.3,400.4 391.4,398.8 391.2,398.7 378.2,394 366.9,389.9 362.1,387.8 346.3,380.8 330.5,373.8 325.2,371.5 317.4,368 314.8,366.7 299.4,359 284,351.2 269.2,343.7 268.6,343.4 253.2,335.7 244.2,331.2 237.8,328 222.4,320.2 207,312.4 191.6,304.6 183.3,300.4 176.3,296.8 160.9,289.1 159.7,288.4 145.4,281.4 129.9,273.9 122.4,270.2 114.4,266.4 98.8,259" fill="url(#g74)"/>
<polygon points="99.1,258.4 114.7,265.7 122.7,269.5 130.2,273.2 145.7,280.8 160,287.8 161.2,288.4 176.6,296.2 183.6,299.7 191.9,304 207.3,311.7 222.7,319.5 238.1,327.3 244.5,330.5 253.5,335 268.9,342.7 269.5,343 284.3,350.5 299.7,358.2 315.1,366 317.7,367.3 325.5,370.7 330.8,373.1 346.5,380.1 362.3,387.1 367.1,389.2 378.4,393.3 391.4,398 391.6,398.1 394.4,399.7 409.6,408 414.2,410.6 420.1,413.8 424.5,416.8 427.7,419 438.8,426.7 443,429.6 444,430.3 453.7,435.6 460.2,439.2 468.7,444.2 471.1,445.6 484.7,450.6 484,453.2 470.4,448.2 468,446.7 459.5,441.7 453,438.1 443.4,432.7 442.4,432 438.2,429 427.1,421.2 423.9,418.9 419.6,415.9 413.7,412.6 409,410 393.9,401.6 391,400 390.8,399.9 377.8,395.3 366.5,391.2 361.7,389.1 345.9,382.1 330.1,375.1 324.8,372.7 317,369.3 314.4,368 299,360.2 283.6,352.4 268.8,344.9 268.2,344.6 252.8,336.9 243.8,332.4 237.4,329.1 222,321.3 206.6,313.5 191.2,305.7 182.8,301.5 175.8,297.9 160.4,290.1 159.2,289.5 144.9,282.5 129.4,274.9 121.9,271.2 113.9,267.4 98.3,260" fill="url(#g75)"/>
<polygon points="98.6,259.4 114.2,266.8 122.2,270.6 129.7,274.3 145.2,281.9 159.5,288.9 160.7,289.5 176.1,297.3 183.1,300.8 191.5,305.1 206.8,312.9 222.2,320.6 237.6,328.4 244.1,331.7 253,336.2 268.5,343.9 269,344.2 283.9,351.7 299.2,359.5 314.6,367.3 317.2,368.6 325,372 330.4,374.3 346.1,381.3 361.9,388.3 366.7,390.4 378,394.5 391,399.2 391.2,399.3 394.1,400.9 409.2,409.3 413.9,411.8 419.8,415.1 424.1,418.1 427.3,420.4 438.4,428.2 442.6,431.1 443.6,431.8 453.3,437.1 459.7,440.7 468.3,445.8 470.7,447.2 484.3,452.2 483.6,454.8 470,449.8 467.5,448.3 459,443.3 452.6,439.6 443,434.1 442,433.4 437.8,430.4 426.7,422.5 423.5,420.2 419.3,417.2 413.3,413.9 408.7,411.3 393.6,402.8 390.7,401.2 390.5,401.1 377.5,396.5 366.1,392.4 361.3,390.3 345.5,383.3 329.7,376.4 324.4,374 316.5,370.6 313.9,369.3 298.5,361.5 283.1,353.7 268.3,346.1 267.7,345.8 252.3,338.1 243.3,333.5 236.9,330.3 221.5,322.5 206.1,314.6 190.7,306.8 182.3,302.6 175.3,299 159.9,291.2 158.7,290.6 144.4,283.6 128.9,276 121.3,272.3 113.3,268.5 97.7,261.1" fill="url(#g76)"/>
<polygon points="98.1,260.4 113.7,267.8 121.7,271.6 129.2,275.3 144.7,282.9 159,289.9 160.2,290.6 175.6,298.4 182.6,301.9 191,306.2 206.4,314 221.8,321.8 237.2,329.6 243.6,332.8 252.6,337.4 268,345.1 268.6,345.4 283.4,352.9 298.8,360.7 314.2,368.5 316.8,369.8 324.6,373.3 329.9,375.6 345.7,382.6 361.5,389.6 366.3,391.7 377.7,395.8 390.7,400.4 390.9,400.5 393.8,402.1 408.9,410.5 413.5,413.1 419.5,416.4 423.8,419.4 426.9,421.7 438,429.6 442.2,432.6 443.2,433.2 452.8,438.7 459.3,442.3 467.8,447.4 470.3,448.8 483.9,453.8 483.2,456.3 469.5,451.4 467.1,449.9 458.6,444.8 452.2,441.1 442.6,435.6 441.6,434.9 437.4,431.9 426.3,423.8 423.2,421.6 418.9,418.5 413,415.1 408.4,412.5 393.3,404 390.4,402.4 390.2,402.3 377.1,397.7 365.7,393.7 360.9,391.6 345.1,384.6 329.3,377.6 323.9,375.3 316.1,371.9 313.5,370.6 298.1,362.7 282.7,354.9 267.9,347.3 267.3,347 251.9,339.2 242.9,334.7 236.4,331.4 221,323.6 205.6,315.8 190.2,307.9 181.8,303.7 174.8,300.1 159.4,292.3 158.2,291.6 143.9,284.6 128.4,277 120.8,273.3 112.8,269.5 97.2,262.1" fill="url(#g77)"/>
<polygon points="97.5,261.5 113.1,268.9 121.1,272.7 128.7,276.4 144.2,284 158.5,291 159.7,291.6 175.1,299.5 182.1,303 190.5,307.3 205.9,315.1 221.3,322.9 236.7,330.7 243.2,334 252.1,338.5 267.6,346.3 268.1,346.6 283,354.1 298.4,362 313.8,369.8 316.3,371.1 324.2,374.5 329.5,376.9 345.3,383.9 361.1,390.8 365.9,392.9 377.3,397 390.4,401.6 390.6,401.7 393.5,403.3 408.6,411.8 413.2,414.4 419.1,417.7 423.4,420.8 426.6,423 437.7,431 441.8,434 442.8,434.7 452.4,440.2 458.9,443.9 467.4,449 469.8,450.4 483.4,455.4 482.8,457.9 469.1,453 466.7,451.5 458.2,446.4 451.7,442.7 442.2,437.1 441.2,436.4 437,433.3 426,425.2 422.8,422.9 418.6,419.7 412.7,416.4 408,413.8 392.9,405.2 390.1,403.6 389.9,403.5 376.8,398.9 365.3,394.9 360.5,392.8 344.7,385.9 328.8,378.9 323.5,376.6 315.7,373.1 313.1,371.8 297.7,364 282.3,356.1 267.4,348.5 266.8,348.2 251.4,340.4 242.4,335.9 236,332.6 220.6,324.7 205.1,316.9 189.7,309 181.3,304.8 174.3,301.2 158.9,293.3 157.7,292.7 143.4,285.7 127.9,278.1 120.3,274.3 112.3,270.5 96.7,263.1" fill="url(#g78)"/>
<polygon points="97,262.5 112.6,269.9 120.6,273.7 128.2,277.4 143.7,285.1 158,292.1 159.2,292.7 174.6,300.5 181.6,304.1 190,308.4 205.4,316.2 220.8,324.1 236.3,331.9 242.7,335.2 251.7,339.7 267.1,347.5 267.7,347.8 282.5,355.4 297.9,363.2 313.3,371.1 315.9,372.4 323.8,375.8 329.1,378.2 344.9,385.1 360.8,392.1 365.6,394.2 377,398.2 390.1,402.8 390.3,402.9 393.1,404.5 408.2,413 412.9,415.6 418.8,419 423,422.1 426.2,424.4 437.3,432.4 441.4,435.5 442.4,436.2 452,441.7 458.4,445.5 466.9,450.6 469.4,452 483,457 482.4,459.5 468.7,454.6 466.2,453.1 457.7,448 451.3,444.2 441.8,438.5 440.8,437.8 436.6,434.7 425.6,426.5 422.5,424.2 418.2,421 412.3,417.7 407.7,415 392.6,406.4 389.7,404.8 389.5,404.7 376.4,400.2 365,396.2 360.1,394.1 344.3,387.1 328.4,380.2 323.1,377.8 315.2,374.4 312.6,373.1 297.2,365.2 281.8,357.3 267,349.7 266.4,349.4 251,341.6 242,337 235.5,333.7 220.1,325.9 204.7,318 189.2,310.1 180.9,305.9 173.8,302.3 158.4,294.4 157.2,293.8 142.9,286.8 127.3,279.1 119.8,275.4 111.8,271.6 96.1,264.2" fill="url(#g79)"/>
<polygon points="96.4,263.6 112.1,271 120.1,274.8 127.7,278.5 143.2,286.1 157.5,293.1 158.7,293.8 174.1,301.6 181.1,305.2 189.5,309.5 205,317.3 220.4,325.2 235.8,333 242.2,336.3 251.2,340.9 266.7,348.7 267.2,349 282.1,356.6 297.5,364.5 312.9,372.3 315.5,373.6 323.3,377.1 328.7,379.4 344.5,386.4 360.4,393.3 365.2,395.4 376.6,399.4 389.7,404 389.9,404 392.8,405.7 407.9,414.3 412.5,416.9 418.4,420.3 422.7,423.4 425.8,425.7 436.9,433.9 441,436.9 442,437.7 451.6,443.3 458,447 466.5,452.2 468.9,453.7 482.6,458.6 481.9,461.1 468.2,456.2 465.8,454.7 457.3,449.5 450.9,445.7 441.4,440 440.4,439.3 436.3,436.2 425.3,427.9 422.1,425.5 417.9,422.3 412,418.9 407.3,416.3 392.3,407.6 389.4,405.9 389.2,405.9 376.1,401.4 364.6,397.4 359.8,395.3 343.9,388.4 328,381.4 322.6,379.1 314.8,375.7 312.2,374.4 296.8,366.4 281.4,358.5 266.5,350.9 265.9,350.6 250.5,342.8 241.5,338.2 235.1,334.9 219.6,327 204.2,319.1 188.8,311.3 180.4,307 173.3,303.4 157.9,295.5 156.7,294.9 142.4,287.8 126.8,280.2 119.3,276.4 111.2,272.6 95.6,265.2" fill="url(#g80)"/>
<polygon points="95.9,264.6 111.6,272 119.6,275.8 127.1,279.5 142.7,287.2 157,294.2 158.2,294.8 173.6,302.7 180.7,306.3 189.1,310.6 204.5,318.5 219.9,326.3 235.3,334.2 241.8,337.5 250.8,342.1 266.2,349.9 266.8,350.2 281.6,357.8 297,365.7 312.5,373.6 315,374.9 322.9,378.3 328.3,380.7 344.1,387.6 360,394.6 364.8,396.7 376.3,400.6 389.4,405.2 389.6,405.2 392.5,406.9 407.5,415.5 412.2,418.2 418.1,421.5 422.3,424.7 425.5,427.1 436.5,435.3 440.6,438.4 441.6,439.1 451.1,444.8 457.5,448.6 466,453.8 468.5,455.3 482.2,460.2 481.5,462.7 467.8,457.8 465.3,456.3 456.8,451.1 450.5,447.2 441,441.5 440,440.7 435.9,437.6 424.9,429.2 421.8,426.8 417.5,423.6 411.6,420.2 407,417.5 391.9,408.8 389.1,407.1 388.9,407.1 375.7,402.6 364.2,398.7 359.4,396.6 343.5,389.7 327.6,382.7 322.2,380.4 314.3,376.9 311.8,375.6 296.3,367.7 280.9,359.8 266.1,352.1 265.5,351.8 250.1,343.9 241.1,339.4 234.6,336.1 219.2,328.2 203.7,320.3 188.3,312.4 179.9,308.1 172.9,304.5 157.4,296.6 156.2,295.9 141.9,288.9 126.3,281.2 118.7,277.5 110.7,273.7 95,266.3" fill="url(#g81)"/>
<polygon points="95.4,265.6 111,273.1 119.1,276.9 126.6,280.6 142.2,288.2 156.5,295.3 157.7,295.9 173.1,303.8 180.2,307.4 188.6,311.7 204,319.6 219.4,327.5 234.9,335.4 241.3,338.7 250.3,343.2 265.8,351.1 266.3,351.4 281.2,359 296.6,366.9 312,374.9 314.6,376.2 322.5,379.6 327.8,382 343.7,388.9 359.6,395.8 364.4,397.9 375.9,401.9 389.1,406.4 389.3,406.4 392.1,408.1 407.2,416.8 411.8,419.4 417.7,422.8 422,426 425.1,428.4 436.1,436.7 440.2,439.9 441.2,440.6 450.7,446.3 457.1,450.2 465.6,455.4 468,456.9 481.8,461.7 481.1,464.3 467.3,459.4 464.9,457.9 456.4,452.7 450,448.8 440.6,442.9 439.6,442.2 435.5,439 424.5,430.6 421.4,428.2 417.2,424.9 411.3,421.5 406.7,418.8 391.6,410 388.8,408.3 388.5,408.3 375.4,403.8 363.8,399.9 359,397.8 343.1,390.9 327.2,384 321.8,381.6 313.9,378.2 311.3,376.9 295.9,368.9 280.5,361 265.6,353.3 265,353 249.6,345.1 240.6,340.5 234.1,337.2 218.7,329.3 203.3,321.4 187.8,313.5 179.4,309.2 172.4,305.5 156.9,297.6 155.7,297 141.4,289.9 125.8,282.3 118.2,278.5 110.2,274.7 94.5,267.3" fill="url(#g82)"/>
<polygon points="94.8,266.7 110.5,274.1 118.5,277.9 126.1,281.6 141.7,289.3 156,296.4 157.2,297 172.7,304.9 179.7,308.5 188.1,312.8 203.5,320.7 219,328.6 234.4,336.5 240.9,339.8 249.9,344.4 265.3,352.3 265.9,352.6 280.7,360.2 296.2,368.2 311.6,376.1 314.2,377.5 322,380.9 327.4,383.2 343.3,390.2 359.2,397.1 364.1,399.2 375.6,403.1 388.7,407.5 389,407.6 391.8,409.3 406.9,418 411.5,420.7 417.4,424.1 421.6,427.4 424.7,429.8 435.7,438.2 439.8,441.3 440.8,442.1 450.3,447.9 456.7,451.7 465.2,457 467.6,458.5 481.3,463.3 480.7,465.9 466.9,461.1 464.5,459.5 456,454.3 449.6,450.3 440.2,444.4 439.2,443.7 435.1,440.4 424.2,431.9 421.1,429.5 416.8,426.2 411,422.7 406.3,420 391.3,411.2 388.4,409.5 388.2,409.5 375,405 363.5,401.2 358.6,399.1 342.7,392.2 326.7,385.3 321.4,382.9 313.5,379.5 310.9,378.2 295.5,370.2 280,362.2 265.2,354.5 264.6,354.2 249.1,346.3 240.1,341.7 233.7,338.4 218.2,330.4 202.8,322.5 187.3,314.6 178.9,310.2 171.9,306.6 156.4,298.7 155.2,298.1 140.9,291 125.3,283.3 117.7,279.6 109.7,275.8 94,268.3" fill="url(#g83)"/>
<polygon points="94.3,267.7 110,275.1 118,279 125.6,282.7 141.2,290.4 155.5,297.4 156.7,298.1 172.2,306 179.2,309.6 187.6,313.9 203.1,321.8 218.5,329.7 234,337.7 240.4,341 249.4,345.6 264.9,353.5 265.4,353.8 280.3,361.5 295.7,369.4 311.2,377.4 313.7,378.7 321.6,382.2 327,384.5 342.9,391.4 358.8,398.3 363.7,400.4 375.2,404.3 388.4,408.7 388.6,408.8 391.5,410.5 406.5,419.3 411.2,422 417,425.4 421.3,428.7 424.4,431.1 435.3,439.6 439.4,442.8 440.4,443.5 449.9,449.4 456.2,453.3 464.7,458.6 467.1,460.1 480.9,464.9 480.5,466.5 466.7,461.7 464.3,460.2 455.8,454.9 449.5,450.9 440,445 439,444.2 434.9,441 424,432.5 420.9,430 416.7,426.7 410.8,423.2 406.2,420.5 391.2,411.7 388.3,410 388.1,409.9 374.9,405.5 363.3,401.7 358.5,399.6 342.5,392.7 326.6,385.8 321.2,383.4 313.3,380 310.7,378.7 295.3,370.7 279.9,362.7 265,355 264.4,354.7 249,346.8 240,342.1 233.5,338.8 218.1,330.9 202.6,322.9 187.1,315 178.7,310.7 171.7,307.1 156.2,299.1 155,298.5 140.7,291.4 125.1,283.7 117.5,280 109.4,276.2 93.8,268.8" fill="url(#g84)"/>
<polygon points="520.8,408.3 522.5,411 524.7,423.5 516,445 508.5,463.5 496,469.5 492.5,470.5 487.5,468.5 515.8,410.3" fill="url(#colBs)"/>
<polygon points="499,396.7 497.7,396.7 496.3,397.3 494.8,398.4 493.2,400.2 491.5,402.4 489.8,405.2 488.1,408.4 486.4,412 484.8,416 483.3,420.2 481.9,424.6 480.6,429.2 479.4,433.7 478.5,438.3 477.7,442.7 477.2,446.9 476.8,450.9 476.7,454.6 476.8,457.8 477.1,460.6 477.7,462.9 478.4,464.7 479.4,465.9 480.5,466.5 492.5,470.5 493,470.4 493.7,469.8 494.6,468.6 495.8,467 497.1,464.8 498.6,462.3 500.2,459.3 501.9,456 503.8,452.4 505.6,448.6 507.5,444.7 509.4,440.6 511.2,436.6 512.9,432.6 514.6,428.6 516.1,424.9 517.4,421.5 518.6,418.3 519.5,415.5 520.3,413.1 520.8,411.1 521,409.7 521,408.7 520.8,408.3" fill="url(#colB)"/>
<polyline points="499,396.7 497.7,396.7 496.3,397.3 494.8,398.4 493.2,400.2 491.5,402.4 489.8,405.2 488.1,408.4 486.4,412 484.8,416 483.3,420.2 481.9,424.6 480.6,429.2 479.4,433.7 478.5,438.3 477.7,442.7 477.2,446.9 476.8,450.9 476.7,454.6 476.8,457.8 477.1,460.6 477.7,462.9 478.4,464.7 479.4,465.9 480.5,466.5" fill="none" stroke="#9a9a9a" stroke-width="0.8" opacity="0.7"/>
<path d="M241,238 Q248,238.5 252,244 Q253.8,250 250.5,255.5 Q247,260 240.5,259.5 Z" fill="#d2d2d2" stroke="#b4b4b4" stroke-width="0.8"/>
<path d="M202.5,266.5 L223.5,234 Q227,228.8 232.5,229.5 Q239.5,230.5 241.8,236 L241,252 L234.5,276 Q226,282 215.5,279.5 Q207,276 202.5,266.5 Z" fill="url(#stubg)"/>
<path d="M202.5,266.5 L223.5,234 Q227,228.8 232.5,229.5 Q239.5,230.5 241.8,236 L241,252 L234.5,276 Q226,282 215.5,279.5 Q207,276 202.5,266.5 Z" fill="url(#stubf)"/>
<path d="M202.5,266.5 Q207,276 215.5,279.5 Q226,282 234.5,276" fill="none" stroke="#808080" stroke-opacity="0.55" stroke-width="1.3"/>
<path d="M117.5,223 L93.5,256 Q91.5,260 92.5,264 L93.75,268.75 L117.5,280 L155,298.5 L178,310.3 L178,301 L142.5,284 L93.5,260 Z" fill="url(#fadeB)"/>
<polygon points="117,222.5 200,262.5 240,281.5 239.5,283.5 200,267 159,250.5 117,226" fill="url(#fadeB2)"/>
<polygon points="117,226.5 159,251 142.5,284 93.5,260" fill="#b6b6b6" stroke="#b6b6b6" stroke-width="1" stroke-linejoin="round"/>
<ellipse cx="122.5" cy="253" rx="17.5" ry="16" fill="#cecece" stroke="#a8a8a8" stroke-width="0.8" transform="rotate(24 122.5 253)"/>
<ellipse cx="122" cy="253.2" rx="9.4" ry="8.7" fill="#3a3a3a"/>
<ellipse cx="123" cy="255.5" rx="6.5" ry="4.8" fill="#4f5a56"/>
</g>
<g filter="url(#soft2)">
<g transform="translate(198.3 86.7) rotate(0)" stroke="#d8432c" fill="none" stroke-width="1.25"><circle r="12"/><line x1="-12.2" y1="-11.6" x2="11.6" y2="11.9"/></g>
<text x="214" y="93" transform="rotate(0 214 93)" style="font-family:'Liberation Sans',sans-serif;font-weight:bold" fill="#d8432c" font-size="18.5">12<tspan font-size="14" dx="6.2">mm</tspan></text>
<polyline points="215.8,102 243.3,102 249.1,123.3" fill="none" stroke="#d8432c" stroke-width="2.0" stroke-linejoin="miter"/><polygon points="251.7,133 244.2,122.6 252.9,120.2" fill="#d8432c"/>
<g transform="translate(363 75.8) rotate(0)" stroke="#111111" fill="none" stroke-width="1.25"><circle r="12"/><line x1="-12.2" y1="-11.6" x2="11.6" y2="11.9"/></g>
<text x="379.5" y="81.7" transform="rotate(0 379.5 81.7)" style="font-family:'Liberation Sans',sans-serif;font-weight:bold" fill="#111111" font-size="18.5">M6</text>
<polyline points="407.5,90 378.3,90 356.2,111.4" fill="none" stroke="#111111" stroke-width="2.0" stroke-linejoin="miter"/><polygon points="349,118.3 354.5,106.7 360.8,113.2" fill="#111111"/>
<g transform="translate(432.5 151.7) rotate(0)" stroke="#4a97e6" fill="none" stroke-width="1.25"><circle r="12"/><line x1="-12.2" y1="-11.6" x2="11.6" y2="11.9"/></g>
<text x="450.5" y="157" transform="rotate(0 450.5 157)" style="font-family:'Liberation Sans',sans-serif;font-weight:bold" fill="#4a97e6" font-size="18.5">38<tspan font-size="14" dx="6.2">mm</tspan></text>
<polyline points="481.7,164.7 452.5,164.7 434.8,181.4" fill="none" stroke="#4a97e6" stroke-width="2.0" stroke-linejoin="miter"/><polygon points="427.5,188.3 433.1,176.8 439.3,183.3" fill="#4a97e6"/>
<g transform="translate(538.3 170.8) rotate(0)" stroke="#111111" fill="none" stroke-width="1.25"><circle r="12"/><line x1="-12.2" y1="-11.6" x2="11.6" y2="11.9"/></g>
<text x="554.5" y="176.7" transform="rotate(0 554.5 176.7)" style="font-family:'Liberation Sans',sans-serif;font-weight:bold" fill="#111111" font-size="18.5">M6</text>
<polyline points="581.7,185 552.5,185 534.5,203.6" fill="none" stroke="#111111" stroke-width="2.0" stroke-linejoin="miter"/><polygon points="527.5,210.8 532.6,199.1 539.1,205.3" fill="#111111"/>
<g transform="translate(613.3 230.3) rotate(0)" stroke="#d8432c" fill="none" stroke-width="1.25"><circle r="12"/><line x1="-12.2" y1="-11.6" x2="11.6" y2="11.9"/></g>
<text x="630.5" y="236.7" transform="rotate(0 630.5 236.7)" style="font-family:'Liberation Sans',sans-serif;font-weight:bold" fill="#d8432c" font-size="18.5">49<tspan font-size="14" dx="6.2">mm</tspan></text>
<polyline points="663.3,243.7 631.7,243.7 617.7,258.5" fill="none" stroke="#d8432c" stroke-width="2.0" stroke-linejoin="miter"/><polygon points="610.8,265.8 615.8,254 622.3,260.2" fill="#d8432c"/>
<g transform="translate(721.7 294.2) rotate(0)" stroke="#4a97e6" fill="none" stroke-width="1.25"><circle r="12"/><line x1="-12.2" y1="-11.6" x2="11.6" y2="11.9"/></g>
<text x="738.8" y="300.8" transform="rotate(0 738.8 300.8)" style="font-family:'Liberation Sans',sans-serif;font-weight:bold" fill="#4a97e6" font-size="18.5">30<tspan font-size="14" dx="6.2">mm</tspan></text>
<polyline points="769,308.8 738.3,308.8 723.6,324.4" fill="none" stroke="#4a97e6" stroke-width="2.0" stroke-linejoin="miter"/><polygon points="716.7,331.7 721.7,319.9 728.2,326.1" fill="#4a97e6"/>
<g transform="translate(63.3 197.5) rotate(0)" stroke="#d8432c" fill="none" stroke-width="1.25"><circle r="12"/><line x1="-12.2" y1="-11.6" x2="11.6" y2="11.9"/></g>
<text x="78" y="204.2" transform="rotate(0 78 204.2)" style="font-family:'Liberation Sans',sans-serif;font-weight:bold" fill="#d8432c" font-size="18.5">12<tspan font-size="14" dx="6.2">mm</tspan></text>
<polyline points="80.8,212.5 107.5,212.5 118.4,243.9" fill="none" stroke="#d8432c" stroke-width="2.0" stroke-linejoin="miter"/><polygon points="121.7,253.3 113.5,243.4 122,240.5" fill="#d8432c"/>
<g transform="translate(247.2 203.3) rotate(0)" stroke="#4a97e6" fill="none" stroke-width="1.25"><circle r="12"/><line x1="-12.2" y1="-11.6" x2="11.6" y2="11.9"/></g>
<text x="264.5" y="210" transform="rotate(0 264.5 210)" style="font-family:'Liberation Sans',sans-serif;font-weight:bold" fill="#4a97e6" font-size="18.5">M6</text>
<polyline points="290.8,217.2 263.3,217.2 248,232.2" fill="none" stroke="#4a97e6" stroke-width="2.0" stroke-linejoin="miter"/><polygon points="240.8,239.2 246.2,227.6 252.5,234" fill="#4a97e6"/>
<g transform="translate(367.2 303.3) rotate(0)" stroke="#4a97e6" fill="none" stroke-width="1.25"><circle r="12"/><line x1="-12.2" y1="-11.6" x2="11.6" y2="11.9"/></g>
<text x="384.5" y="310" transform="rotate(0 384.5 310)" style="font-family:'Liberation Sans',sans-serif;font-weight:bold" fill="#4a97e6" font-size="18.5">M6</text>
<polyline points="384.2,317.2 411.7,317.2 417.9,337.1" fill="none" stroke="#4a97e6" stroke-width="2.0" stroke-linejoin="miter"/><polygon points="420.8,346.7 413,336.6 421.6,333.9" fill="#4a97e6"/>
<g transform="translate(500 345.8) rotate(30)" stroke="#d8432c" fill="none" stroke-width="1.25"><circle r="12"/><line x1="-12.2" y1="-11.6" x2="11.6" y2="11.9"/></g>
<text x="513.5" y="359" transform="rotate(22 513.5 359)" style="font-family:'Liberation Sans',sans-serif;font-weight:bold;font-style:italic" fill="#d8432c" font-size="17">M6</text>
<polyline points="483.3,338.3 468.3,331.7 468.3,319.2" fill="none" stroke="#d8432c" stroke-width="2.0" stroke-linejoin="miter"/><polygon points="468.3,309.2 472.8,321.2 463.8,321.2" fill="#d8432c"/>
<g transform="translate(79.2 317.5) rotate(30)" stroke="#d8432c" fill="none" stroke-width="1.25"><circle r="12"/><line x1="-12.2" y1="-11.6" x2="11.6" y2="11.9"/></g>
<text x="94.5" y="329" transform="rotate(22 94.5 329)" style="font-family:'Liberation Sans',sans-serif;font-weight:bold;font-style:italic" fill="#d8432c" font-size="17">8<tspan font-size="12.8" dx="4.5">mm</tspan></text>
<polyline points="135.8,341.7 144,345.8 153.5,339.1" fill="none" stroke="#d8432c" stroke-width="2.0" stroke-linejoin="miter"/><polygon points="161.7,333.3 154.5,343.9 149.3,336.5" fill="#d8432c"/>
<text x="163.5" y="363.5" transform="rotate(22.5 163.5 363.5)" style="font-family:'Liberation Sans',sans-serif;font-weight:bold;font-style:italic" fill="#4a97e6" font-size="17.5">45<tspan font-size="13" dx="4.5">mm</tspan></text>
<polyline points="190,345.8 173.5,337.5" fill="none" stroke="#4a97e6" stroke-width="2.0" stroke-linejoin="miter"/><polygon points="165.5,333.5 177.3,334.4 173.3,342.5" fill="#4a97e6"/>
<polyline points="203.3,352.5 216.8,358.4" fill="none" stroke="#4a97e6" stroke-width="2.0" stroke-linejoin="miter"/><polygon points="225,362 213.1,361.7 216.7,353.5" fill="#4a97e6"/>
<g transform="translate(253.3 401.7) rotate(30)" stroke="#d8432c" fill="none" stroke-width="1.25"><circle r="12"/><line x1="-12.2" y1="-11.6" x2="11.6" y2="11.9"/></g>
<text x="267.8" y="414" transform="rotate(23 267.8 414)" style="font-family:'Liberation Sans',sans-serif;font-weight:bold;font-style:italic" fill="#d8432c" font-size="17">8<tspan font-size="12.8" dx="4.5">mm</tspan></text>
<polyline points="237.5,394 225,388.3 225,375.8" fill="none" stroke="#d8432c" stroke-width="2.0" stroke-linejoin="miter"/><polygon points="225,365.8 229.5,377.8 220.5,377.8" fill="#d8432c"/>
<g transform="translate(394.2 447.5) rotate(30)" stroke="#4a97e6" fill="none" stroke-width="1.25"><circle r="12"/><line x1="-12.2" y1="-11.6" x2="11.6" y2="11.9"/></g>
<text x="407" y="461.5" transform="rotate(22 407 461.5)" style="font-family:'Liberation Sans',sans-serif;font-weight:bold;font-style:italic" fill="#4a97e6" font-size="17">M6</text>
<path d="M381.7,440.5 Q374,436 364,440.5" fill="none" stroke="#4a97e6" stroke-width="2"/>
<polygon points="355.5,442 364.6,436.2 366.1,444.1" fill="#4a97e6"/>
<g transform="translate(480.8 510) rotate(30)" stroke="#d8432c" fill="none" stroke-width="1.25"><circle r="12"/><line x1="-12.2" y1="-11.6" x2="11.6" y2="11.9"/></g>
<text x="495.3" y="524" transform="rotate(24 495.3 524)" style="font-family:'Liberation Sans',sans-serif;font-weight:bold;font-style:italic" fill="#d8432c" font-size="17">8<tspan font-size="12.8" dx="4.5">mm</tspan></text>
<polyline points="464.2,503.3 449.2,495.8 449.2,484.2" fill="none" stroke="#d8432c" stroke-width="2.0" stroke-linejoin="miter"/><polygon points="449.2,474.2 453.7,486.2 444.7,486.2" fill="#d8432c"/>
<polyline points="603.1,266.3 601.5,267.2 599.8,268.8 597.9,270.8 596,273.3 594.1,276.2 592.2,279.5 590.3,283.1 588.4,287 586.7,291.1 585.1,295.4 583.6,299.6 582.3,303.9 581.2,308.1 580.4,312.1 579.7,315.9 579.3,319.4 579.2,322.5 579.3,325.2 579.7,327.5 580.3,329.3" fill="none" stroke="#d8432c" stroke-width="2.8"/>
<polygon points="605.8,266 597.3,275.1 593.4,266.4" fill="#d8432c"/>
<polygon points="582.2,331.2 572.9,322.9 581.5,318.8" fill="#d8432c"/>
<polyline points="421.1,188.4 419.3,189.1 417.4,190.1 415.5,191.6 413.7,193.5 411.8,195.8 410,198.4 408.4,201.2 406.9,204.3 405.5,207.6 404.3,211 403.4,214.5 402.6,217.9 402.1,221.3 401.8,224.6 401.8,227.8 402,230.7 402.4,233.3 403.1,235.6 404.1,237.6 405.2,239.1" fill="none" stroke="#4a97e6" stroke-width="2.8"/>
<polygon points="424.5,188.5 414.4,195.7 412.2,186.5" fill="#4a97e6"/>
<polygon points="408,241 396.8,235.6 403.8,229.3" fill="#4a97e6"/>
<polyline points="707.9,329.9 706.3,330.4 704.7,331.2 703,332.3 701.4,333.8 699.9,335.6 698.4,337.6 697.1,339.9 695.9,342.3 694.8,344.9 694,347.6 693.3,350.3 692.8,353 692.5,355.7 692.4,358.4 692.6,360.8 692.9,363.2 693.5,365.3 694.3,367.1 695.2,368.7 696.3,370" fill="none" stroke="#4a97e6" stroke-width="2.8"/>
<polygon points="711,330 700.6,336.8 698.8,327.4" fill="#4a97e6"/>
<polygon points="699,371.5 687.3,367.2 693.8,360.2" fill="#4a97e6"/>
<polyline points="353.3,470 52.5,326.7 83.7,276.8" fill="none" stroke="#111111" stroke-width="2.3" stroke-linejoin="miter"/><polygon points="89,268.3 86.7,281 78.6,276" fill="#111111"/>
<polyline points="427.5,505.5 715.8,643 746.5,592.5" fill="none" stroke="#111111" stroke-width="2.3" stroke-linejoin="miter"/><polygon points="751.7,584 749.5,596.7 741.4,591.8" fill="#111111"/>
<text x="362.5" y="479.5" transform="rotate(24 362.5 479.5)" style="font-family:'Liberation Sans',sans-serif;font-weight:bold;font-style:italic" fill="#111111" font-size="18.5">470<tspan font-size="14" dx="4.5">mm</tspan></text>
<polyline points="569,528.7 485,487.5 497.1,474.8" fill="none" stroke="#4a97e6" stroke-width="2.0" stroke-linejoin="miter"/><polygon points="503.3,468.3 499,479.4 492.5,473.2" fill="#4a97e6"/>
<polyline points="640,563.3 728.3,604.2 742.2,591.9" fill="none" stroke="#4a97e6" stroke-width="2.0" stroke-linejoin="miter"/><polygon points="749,586 743.7,596.6 737.8,589.9" fill="#4a97e6"/>
<text x="579.5" y="538.5" transform="rotate(24 579.5 538.5)" style="font-family:'Liberation Sans',sans-serif;font-weight:bold;font-style:italic" fill="#4a97e6" font-size="18">170<tspan font-size="13.5" dx="4.5">mm</tspan></text>
</g>
</svg>
</body></html>
